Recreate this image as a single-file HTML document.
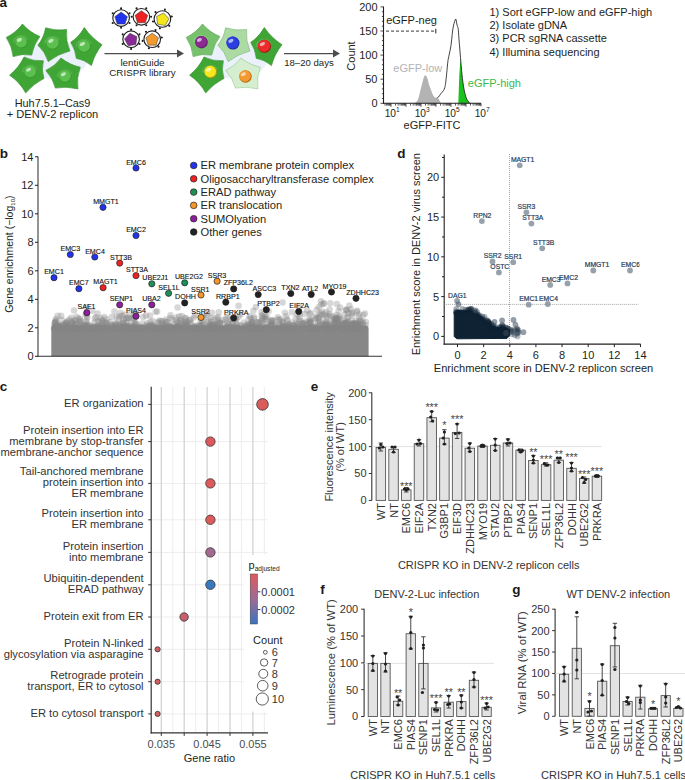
<!DOCTYPE html>
<html><head><meta charset="utf-8"><style>
html,body{margin:0;padding:0;background:#fff;}
svg{display:block;font-family:"Liberation Sans",sans-serif;}
</style></head><body>
<svg width="685" height="780" viewBox="0 0 685 780">
<text x="-0.50" y="7.00" font-size="13.5" text-anchor="start" fill="#1a1a1a" font-weight="bold" >a</text>
<text x="-0.20" y="157.50" font-size="13.5" text-anchor="start" fill="#1a1a1a" font-weight="bold" >b</text>
<text x="-0.20" y="390.80" font-size="13.5" text-anchor="start" fill="#1a1a1a" font-weight="bold" >c</text>
<text x="397.30" y="157.50" font-size="13.5" text-anchor="start" fill="#1a1a1a" font-weight="bold" >d</text>
<text x="310.80" y="390.80" font-size="13.5" text-anchor="start" fill="#1a1a1a" font-weight="bold" >e</text>
<text x="320.30" y="594.00" font-size="13.5" text-anchor="start" fill="#1a1a1a" font-weight="bold" >f</text>
<text x="512.20" y="594.30" font-size="13.5" text-anchor="start" fill="#1a1a1a" font-weight="bold" >g</text>
<g transform="translate(0,0)">
<ellipse cx="55" cy="60" rx="32" ry="19" fill="#eaf1fb"/>
<path d="M22.50,24.00 Q29.67,32.35 39.90,36.50 Q33.44,45.10 31.70,55.10 Q22.45,53.34 13.10,56.60 Q12.04,46.09 6.30,37.40 Q15.89,32.72 22.50,24.00 Z" fill="#3fa535" stroke="#2e8a27" stroke-width="0.6"/>
<path d="M13.50,42.70 A7.70,7.70 0 0 1 27.80,39.70" fill="none" stroke="#ffffff" stroke-opacity="0.13" stroke-width="1.6"/>
<circle cx="21.50" cy="42.20" r="6.20" fill="#3b9a31" stroke="none" stroke-width="0.6" />
<circle cx="21.00" cy="41.70" r="5.80" fill="#5cc04f" stroke="none" stroke-width="0.6" />
<ellipse cx="19.40" cy="39.90" rx="2.65" ry="1.70" fill="#ffffff" opacity="0.62" transform="rotate(-25 19.40 39.90)"/>
<path d="M45.60,27.80 Q55.66,31.24 66.60,29.50 Q65.62,40.75 69.90,51.00 Q58.08,53.91 48.20,61.60 Q44.96,51.53 37.90,45.20 Q43.89,37.67 45.60,27.80 Z" fill="#3fa535" stroke="#2e8a27" stroke-width="0.6"/>
<path d="M44.70,43.60 A8.00,8.00 0 0 1 59.60,40.60" fill="none" stroke="#ffffff" stroke-opacity="0.13" stroke-width="1.6"/>
<circle cx="53.00" cy="43.10" r="6.50" fill="#3b9a31" stroke="none" stroke-width="0.6" />
<circle cx="52.50" cy="42.60" r="6.10" fill="#5cc04f" stroke="none" stroke-width="0.6" />
<ellipse cx="50.90" cy="40.80" rx="2.80" ry="1.79" fill="#ffffff" opacity="0.62" transform="rotate(-25 50.90 40.80)"/>
<path d="M84.30,27.50 Q91.68,38.19 102.00,44.70 Q94.63,53.81 91.50,65.60 Q84.09,59.43 76.30,58.40 Q75.56,49.87 70.70,42.30 Q78.84,37.20 84.30,27.50 Z" fill="#3fa535" stroke="#2e8a27" stroke-width="0.6"/>
<path d="M76.20,46.80 A8.00,8.00 0 0 1 91.10,43.80" fill="none" stroke="#ffffff" stroke-opacity="0.13" stroke-width="1.6"/>
<circle cx="84.50" cy="46.30" r="6.50" fill="#3b9a31" stroke="none" stroke-width="0.6" />
<circle cx="84.00" cy="45.80" r="6.10" fill="#5cc04f" stroke="none" stroke-width="0.6" />
<ellipse cx="82.40" cy="44.00" rx="2.80" ry="1.79" fill="#ffffff" opacity="0.62" transform="rotate(-25 82.40 44.00)"/>
<path d="M24.00,57.00 Q32.92,61.41 43.40,60.80 Q41.12,70.19 44.00,78.40 Q33.86,83.35 25.70,92.90 Q19.75,82.04 9.60,75.20 Q19.06,67.32 24.00,57.00 Z" fill="#3fa535" stroke="#2e8a27" stroke-width="0.6"/>
<path d="M22.70,72.50 A7.70,7.70 0 0 1 37.00,69.50" fill="none" stroke="#ffffff" stroke-opacity="0.13" stroke-width="1.6"/>
<circle cx="30.70" cy="72.00" r="6.20" fill="#3b9a31" stroke="none" stroke-width="0.6" />
<circle cx="30.20" cy="71.50" r="5.80" fill="#5cc04f" stroke="none" stroke-width="0.6" />
<ellipse cx="28.60" cy="69.70" rx="2.65" ry="1.70" fill="#ffffff" opacity="0.62" transform="rotate(-25 28.60 69.70)"/>
<path d="M61.00,58.00 Q69.47,64.75 80.30,67.20 Q76.40,77.41 77.90,88.90 Q66.19,85.98 55.40,88.10 Q53.03,78.40 45.80,70.40 Q55.32,66.06 61.00,58.00 Z" fill="#3fa535" stroke="#2e8a27" stroke-width="0.6"/>
<path d="M57.50,77.00 A7.70,7.70 0 0 1 71.80,74.00" fill="none" stroke="#ffffff" stroke-opacity="0.13" stroke-width="1.6"/>
<circle cx="65.50" cy="76.50" r="6.20" fill="#3b9a31" stroke="none" stroke-width="0.6" />
<circle cx="65.00" cy="76.00" r="5.80" fill="#5cc04f" stroke="none" stroke-width="0.6" />
<ellipse cx="63.40" cy="74.20" rx="2.65" ry="1.70" fill="#ffffff" opacity="0.62" transform="rotate(-25 63.40 74.20)"/>
</g>
<g transform="translate(180,0)">
<ellipse cx="55" cy="60" rx="32" ry="19" fill="#eaf1fb"/>
<path d="M22.50,24.00 Q29.67,32.35 39.90,36.50 Q33.44,45.10 31.70,55.10 Q22.45,53.34 13.10,56.60 Q12.04,46.09 6.30,37.40 Q15.89,32.72 22.50,24.00 Z" fill="#77c06c" stroke="#4f9f46" stroke-width="0.6"/>
<path d="M13.50,42.70 A7.70,7.70 0 0 1 27.80,39.70" fill="none" stroke="#ffffff" stroke-opacity="0.13" stroke-width="1.6"/>
<circle cx="21.50" cy="42.20" r="6.20" fill="#5e1a66" stroke="none" stroke-width="0.6" />
<circle cx="21.00" cy="41.70" r="5.80" fill="#8a2a92" stroke="none" stroke-width="0.6" />
<ellipse cx="19.40" cy="39.90" rx="2.65" ry="1.70" fill="#ffffff" opacity="0.62" transform="rotate(-25 19.40 39.90)"/>
<path d="M45.60,27.80 Q55.66,31.24 66.60,29.50 Q65.62,40.75 69.90,51.00 Q58.08,53.91 48.20,61.60 Q44.96,51.53 37.90,45.20 Q43.89,37.67 45.60,27.80 Z" fill="#acdaa3" stroke="#6cb163" stroke-width="0.6"/>
<path d="M44.70,43.60 A8.00,8.00 0 0 1 59.60,40.60" fill="none" stroke="#ffffff" stroke-opacity="0.13" stroke-width="1.6"/>
<circle cx="53.00" cy="43.10" r="6.50" fill="#1a2aa0" stroke="none" stroke-width="0.6" />
<circle cx="52.50" cy="42.60" r="6.10" fill="#2b3fe0" stroke="none" stroke-width="0.6" />
<ellipse cx="50.90" cy="40.80" rx="2.80" ry="1.79" fill="#ffffff" opacity="0.62" transform="rotate(-25 50.90 40.80)"/>
<path d="M84.30,27.50 Q91.68,38.19 102.00,44.70 Q94.63,53.81 91.50,65.60 Q84.09,59.43 76.30,58.40 Q75.56,49.87 70.70,42.30 Q78.84,37.20 84.30,27.50 Z" fill="#3fa535" stroke="#2e8a27" stroke-width="0.6"/>
<path d="M76.20,46.80 A8.00,8.00 0 0 1 91.10,43.80" fill="none" stroke="#ffffff" stroke-opacity="0.13" stroke-width="1.6"/>
<circle cx="84.50" cy="46.30" r="6.50" fill="#a81818" stroke="none" stroke-width="0.6" />
<circle cx="84.00" cy="45.80" r="6.10" fill="#ee2a2a" stroke="none" stroke-width="0.6" />
<ellipse cx="82.40" cy="44.00" rx="2.80" ry="1.79" fill="#ffffff" opacity="0.62" transform="rotate(-25 82.40 44.00)"/>
<path d="M24.00,57.00 Q32.92,61.41 43.40,60.80 Q41.12,70.19 44.00,78.40 Q33.86,83.35 25.70,92.90 Q19.75,82.04 9.60,75.20 Q19.06,67.32 24.00,57.00 Z" fill="#3fa535" stroke="#2e8a27" stroke-width="0.6"/>
<path d="M22.70,72.50 A7.70,7.70 0 0 1 37.00,69.50" fill="none" stroke="#ffffff" stroke-opacity="0.13" stroke-width="1.6"/>
<circle cx="30.70" cy="72.00" r="6.20" fill="#b0a010" stroke="none" stroke-width="0.6" />
<circle cx="30.20" cy="71.50" r="5.80" fill="#f5e61e" stroke="none" stroke-width="0.6" />
<ellipse cx="28.60" cy="69.70" rx="2.65" ry="1.70" fill="#ffffff" opacity="0.62" transform="rotate(-25 28.60 69.70)"/>
<path d="M61.00,58.00 Q69.47,64.75 80.30,67.20 Q76.40,77.41 77.90,88.90 Q66.19,85.98 55.40,88.10 Q53.03,78.40 45.80,70.40 Q55.32,66.06 61.00,58.00 Z" fill="#d5eecf" stroke="#8ec786" stroke-width="0.6"/>
<path d="M57.50,77.00 A7.70,7.70 0 0 1 71.80,74.00" fill="none" stroke="#ffffff" stroke-opacity="0.13" stroke-width="1.6"/>
<circle cx="65.50" cy="76.50" r="6.20" fill="#b86a10" stroke="none" stroke-width="0.6" />
<circle cx="65.00" cy="76.00" r="5.80" fill="#f29a30" stroke="none" stroke-width="0.6" />
<ellipse cx="63.40" cy="74.20" rx="2.65" ry="1.70" fill="#ffffff" opacity="0.62" transform="rotate(-25 63.40 74.20)"/>
</g>
<circle cx="121.10" cy="18.10" r="8.30" fill="#fff" stroke="#1a1a1a" stroke-width="1.1" />
<path d="M121.10,12.10 L127.38,16.66 L124.98,24.04 L117.22,24.04 L114.82,16.66Z" fill="#2233ee" stroke="#333" stroke-width="0.5"/>
<circle cx="121.10" cy="8.40" r="1.05" fill="#1a1a1a" stroke="none" stroke-width="0.6" />
<circle cx="129.50" cy="13.25" r="1.05" fill="#1a1a1a" stroke="none" stroke-width="0.6" />
<circle cx="129.50" cy="22.95" r="1.05" fill="#1a1a1a" stroke="none" stroke-width="0.6" />
<circle cx="121.10" cy="27.80" r="1.05" fill="#1a1a1a" stroke="none" stroke-width="0.6" />
<circle cx="112.70" cy="22.95" r="1.05" fill="#1a1a1a" stroke="none" stroke-width="0.6" />
<circle cx="112.70" cy="13.25" r="1.05" fill="#1a1a1a" stroke="none" stroke-width="0.6" />
<circle cx="141.40" cy="16.80" r="8.30" fill="#fff" stroke="#1a1a1a" stroke-width="1.1" />
<path d="M141.40,10.80 L147.68,15.36 L145.28,22.74 L137.52,22.74 L135.12,15.36Z" fill="#ee2222" stroke="#333" stroke-width="0.5"/>
<circle cx="146.25" cy="8.40" r="1.05" fill="#1a1a1a" stroke="none" stroke-width="0.6" />
<circle cx="151.10" cy="16.80" r="1.05" fill="#1a1a1a" stroke="none" stroke-width="0.6" />
<circle cx="146.25" cy="25.20" r="1.05" fill="#1a1a1a" stroke="none" stroke-width="0.6" />
<circle cx="136.55" cy="25.20" r="1.05" fill="#1a1a1a" stroke="none" stroke-width="0.6" />
<circle cx="131.70" cy="16.80" r="1.05" fill="#1a1a1a" stroke="none" stroke-width="0.6" />
<circle cx="136.55" cy="8.40" r="1.05" fill="#1a1a1a" stroke="none" stroke-width="0.6" />
<circle cx="162.40" cy="19.00" r="8.30" fill="#fff" stroke="#1a1a1a" stroke-width="1.1" />
<path d="M163.55,13.10 L168.94,18.68 L165.29,25.53 L157.65,24.18 L156.57,16.50Z" fill="#f5e61a" stroke="#333" stroke-width="0.5"/>
<circle cx="164.91" cy="9.63" r="1.05" fill="#1a1a1a" stroke="none" stroke-width="0.6" />
<circle cx="171.77" cy="16.49" r="1.05" fill="#1a1a1a" stroke="none" stroke-width="0.6" />
<circle cx="169.26" cy="25.86" r="1.05" fill="#1a1a1a" stroke="none" stroke-width="0.6" />
<circle cx="159.89" cy="28.37" r="1.05" fill="#1a1a1a" stroke="none" stroke-width="0.6" />
<circle cx="153.03" cy="21.51" r="1.05" fill="#1a1a1a" stroke="none" stroke-width="0.6" />
<circle cx="155.54" cy="12.14" r="1.05" fill="#1a1a1a" stroke="none" stroke-width="0.6" />
<circle cx="131.10" cy="39.20" r="8.30" fill="#fff" stroke="#1a1a1a" stroke-width="1.1" />
<path d="M129.95,33.30 L136.93,36.70 L135.85,44.38 L128.21,45.73 L124.56,38.88Z" fill="#8a2a98" stroke="#333" stroke-width="0.5"/>
<circle cx="131.10" cy="29.50" r="1.05" fill="#1a1a1a" stroke="none" stroke-width="0.6" />
<circle cx="139.50" cy="34.35" r="1.05" fill="#1a1a1a" stroke="none" stroke-width="0.6" />
<circle cx="139.50" cy="44.05" r="1.05" fill="#1a1a1a" stroke="none" stroke-width="0.6" />
<circle cx="131.10" cy="48.90" r="1.05" fill="#1a1a1a" stroke="none" stroke-width="0.6" />
<circle cx="122.70" cy="44.05" r="1.05" fill="#1a1a1a" stroke="none" stroke-width="0.6" />
<circle cx="122.70" cy="34.35" r="1.05" fill="#1a1a1a" stroke="none" stroke-width="0.6" />
<circle cx="152.20" cy="39.20" r="8.30" fill="#fff" stroke="#1a1a1a" stroke-width="1.1" />
<path d="M152.20,33.20 L158.48,37.76 L156.08,45.14 L148.32,45.14 L145.92,37.76Z" fill="#f29a2e" stroke="#333" stroke-width="0.5"/>
<circle cx="155.52" cy="30.08" r="1.05" fill="#1a1a1a" stroke="none" stroke-width="0.6" />
<circle cx="161.75" cy="37.52" r="1.05" fill="#1a1a1a" stroke="none" stroke-width="0.6" />
<circle cx="158.44" cy="46.63" r="1.05" fill="#1a1a1a" stroke="none" stroke-width="0.6" />
<circle cx="148.88" cy="48.32" r="1.05" fill="#1a1a1a" stroke="none" stroke-width="0.6" />
<circle cx="142.65" cy="40.88" r="1.05" fill="#1a1a1a" stroke="none" stroke-width="0.6" />
<circle cx="145.96" cy="31.77" r="1.05" fill="#1a1a1a" stroke="none" stroke-width="0.6" />
<line x1="104.50" y1="53.60" x2="178.00" y2="53.60" stroke="#4d4d4d" stroke-width="1.3" />
<path d="M177.00,49.60 L184.00,53.60 L177.00,57.60Z" fill="#4d4d4d"/>
<line x1="284.00" y1="53.60" x2="334.00" y2="53.60" stroke="#4d4d4d" stroke-width="1.3" />
<path d="M333.00,49.60 L340.00,53.60 L333.00,57.60Z" fill="#4d4d4d"/>
<text x="142.50" y="66.00" font-size="9.8" text-anchor="middle" fill="#231f20" >lentiGuide</text>
<text x="142.50" y="75.50" font-size="9.8" text-anchor="middle" fill="#231f20" >CRISPR library</text>
<text x="309.00" y="66.00" font-size="9.6" text-anchor="middle" fill="#231f20" >18–20 days</text>
<text x="52.50" y="107.00" font-size="10.9" text-anchor="middle" fill="#231f20" >Huh7.5.1–Cas9</text>
<text x="52.50" y="118.00" font-size="11.1" text-anchor="middle" fill="#231f20" >+ DENV-2 replicon</text>
<path d="M413.50,103.20 C414.00,102.97 415.72,102.50 416.50,101.80 C417.28,101.10 417.57,100.85 418.20,99.00 C418.83,97.15 419.62,93.37 420.30,90.70 C420.98,88.03 421.70,85.23 422.30,83.00 C422.90,80.77 423.38,78.58 423.90,77.30 C424.42,76.02 424.82,75.13 425.40,75.30 C425.98,75.47 426.80,76.77 427.40,78.30 C428.00,79.83 428.48,82.78 429.00,84.50 C429.52,86.22 429.90,86.98 430.50,88.60 C431.10,90.22 431.92,92.75 432.60,94.20 C433.28,95.65 433.92,96.65 434.60,97.30 C435.28,97.95 436.02,97.83 436.70,98.10 C437.38,98.37 438.10,98.22 438.70,98.90 C439.30,99.58 439.92,101.48 440.30,102.20 C440.68,102.92 440.88,103.03 441.00,103.20  Z" fill="#b3b3b3"/>
<path d="M458.3,103.2 L459.3,75 L460.5,57.6 C460.75,60.43 461.45,69.53 462.00,74.60 C462.55,79.67 463.10,84.13 463.80,88.00 C464.50,91.87 465.28,95.35 466.20,97.80 C467.12,100.25 468.58,101.80 469.30,102.70 C470.02,103.60 470.30,103.12 470.50,103.20  Z" fill="#19c21c"/>
<path d="M436.70,98.10 C437.03,97.88 438.02,97.53 438.70,96.80 C439.38,96.07 440.02,94.72 440.80,93.70 C441.58,92.68 442.73,91.73 443.40,90.70 C444.07,89.67 444.43,88.75 444.80,87.50 C445.17,86.25 445.28,85.55 445.60,83.20 C445.92,80.85 446.32,77.07 446.70,73.40 C447.08,69.73 447.50,64.25 447.90,61.20 C448.30,58.15 448.58,57.73 449.10,55.10 C449.62,52.47 450.48,48.85 451.00,45.40 C451.52,41.95 451.80,37.65 452.20,34.40 C452.60,31.15 452.83,28.45 453.40,25.90 C453.97,23.35 455.08,19.72 455.60,19.10 C456.12,18.48 456.25,21.17 456.50,22.20 C456.75,23.23 456.82,24.20 457.10,25.30 C457.38,26.40 457.90,26.68 458.20,28.80 C458.50,30.92 458.63,34.63 458.90,38.00 C459.17,41.37 459.53,45.73 459.80,49.00 C460.07,52.27 460.13,53.33 460.50,57.60 C460.87,61.87 461.45,69.53 462.00,74.60 C462.55,79.67 463.10,84.13 463.80,88.00 C464.50,91.87 465.28,95.35 466.20,97.80 C467.12,100.25 468.58,101.80 469.30,102.70 C470.02,103.60 470.30,103.12 470.50,103.20 " fill="none" stroke="#231f20" stroke-width="0.85"/>
<line x1="383.50" y1="6.50" x2="383.50" y2="103.80" stroke="#231f20" stroke-width="1.1" />
<line x1="383.00" y1="103.30" x2="481.00" y2="103.30" stroke="#231f20" stroke-width="1.1" />
<line x1="380.50" y1="103.30" x2="383.50" y2="103.30" stroke="#231f20" stroke-width="0.8" />
<line x1="381.90" y1="98.48" x2="383.50" y2="98.48" stroke="#231f20" stroke-width="0.8" />
<line x1="381.90" y1="93.66" x2="383.50" y2="93.66" stroke="#231f20" stroke-width="0.8" />
<line x1="381.90" y1="88.84" x2="383.50" y2="88.84" stroke="#231f20" stroke-width="0.8" />
<line x1="381.90" y1="84.02" x2="383.50" y2="84.02" stroke="#231f20" stroke-width="0.8" />
<line x1="380.50" y1="79.20" x2="383.50" y2="79.20" stroke="#231f20" stroke-width="0.8" />
<line x1="381.90" y1="74.38" x2="383.50" y2="74.38" stroke="#231f20" stroke-width="0.8" />
<line x1="381.90" y1="69.56" x2="383.50" y2="69.56" stroke="#231f20" stroke-width="0.8" />
<line x1="381.90" y1="64.74" x2="383.50" y2="64.74" stroke="#231f20" stroke-width="0.8" />
<line x1="381.90" y1="59.92" x2="383.50" y2="59.92" stroke="#231f20" stroke-width="0.8" />
<line x1="380.50" y1="55.10" x2="383.50" y2="55.10" stroke="#231f20" stroke-width="0.8" />
<line x1="381.90" y1="50.28" x2="383.50" y2="50.28" stroke="#231f20" stroke-width="0.8" />
<line x1="381.90" y1="45.46" x2="383.50" y2="45.46" stroke="#231f20" stroke-width="0.8" />
<line x1="381.90" y1="40.64" x2="383.50" y2="40.64" stroke="#231f20" stroke-width="0.8" />
<line x1="381.90" y1="35.82" x2="383.50" y2="35.82" stroke="#231f20" stroke-width="0.8" />
<line x1="380.50" y1="31.00" x2="383.50" y2="31.00" stroke="#231f20" stroke-width="0.8" />
<line x1="381.90" y1="26.18" x2="383.50" y2="26.18" stroke="#231f20" stroke-width="0.8" />
<line x1="381.90" y1="21.36" x2="383.50" y2="21.36" stroke="#231f20" stroke-width="0.8" />
<line x1="381.90" y1="16.54" x2="383.50" y2="16.54" stroke="#231f20" stroke-width="0.8" />
<line x1="381.90" y1="11.72" x2="383.50" y2="11.72" stroke="#231f20" stroke-width="0.8" />
<line x1="380.50" y1="6.90" x2="383.50" y2="6.90" stroke="#231f20" stroke-width="0.8" />
<text x="377.50" y="107.30" font-size="11" text-anchor="end" fill="#231f20" >0</text>
<text x="377.50" y="83.20" font-size="11" text-anchor="end" fill="#231f20" >50</text>
<text x="377.50" y="59.10" font-size="11" text-anchor="end" fill="#231f20" >100</text>
<text x="377.50" y="35.00" font-size="11" text-anchor="end" fill="#231f20" >150</text>
<text x="377.50" y="10.90" font-size="11" text-anchor="end" fill="#231f20" >200</text>
<line x1="385.03" y1="103.30" x2="385.03" y2="105.60" stroke="#231f20" stroke-width="0.75" />
<line x1="386.48" y1="103.30" x2="386.48" y2="105.60" stroke="#231f20" stroke-width="0.75" />
<line x1="387.67" y1="103.30" x2="387.67" y2="105.60" stroke="#231f20" stroke-width="0.75" />
<line x1="388.68" y1="103.30" x2="388.68" y2="105.60" stroke="#231f20" stroke-width="0.75" />
<line x1="389.55" y1="103.30" x2="389.55" y2="105.60" stroke="#231f20" stroke-width="0.75" />
<line x1="390.31" y1="103.30" x2="390.31" y2="105.60" stroke="#231f20" stroke-width="0.75" />
<line x1="391.00" y1="103.30" x2="391.00" y2="106.80" stroke="#231f20" stroke-width="0.75" />
<line x1="395.52" y1="103.30" x2="395.52" y2="105.60" stroke="#231f20" stroke-width="0.75" />
<line x1="398.16" y1="103.30" x2="398.16" y2="105.60" stroke="#231f20" stroke-width="0.75" />
<line x1="400.03" y1="103.30" x2="400.03" y2="105.60" stroke="#231f20" stroke-width="0.75" />
<line x1="401.48" y1="103.30" x2="401.48" y2="105.60" stroke="#231f20" stroke-width="0.75" />
<line x1="402.67" y1="103.30" x2="402.67" y2="105.60" stroke="#231f20" stroke-width="0.75" />
<line x1="403.68" y1="103.30" x2="403.68" y2="105.60" stroke="#231f20" stroke-width="0.75" />
<line x1="404.55" y1="103.30" x2="404.55" y2="105.60" stroke="#231f20" stroke-width="0.75" />
<line x1="405.31" y1="103.30" x2="405.31" y2="105.60" stroke="#231f20" stroke-width="0.75" />
<line x1="406.00" y1="103.30" x2="406.00" y2="106.80" stroke="#231f20" stroke-width="0.75" />
<line x1="410.52" y1="103.30" x2="410.52" y2="105.60" stroke="#231f20" stroke-width="0.75" />
<line x1="413.16" y1="103.30" x2="413.16" y2="105.60" stroke="#231f20" stroke-width="0.75" />
<line x1="415.03" y1="103.30" x2="415.03" y2="105.60" stroke="#231f20" stroke-width="0.75" />
<line x1="416.48" y1="103.30" x2="416.48" y2="105.60" stroke="#231f20" stroke-width="0.75" />
<line x1="417.67" y1="103.30" x2="417.67" y2="105.60" stroke="#231f20" stroke-width="0.75" />
<line x1="418.68" y1="103.30" x2="418.68" y2="105.60" stroke="#231f20" stroke-width="0.75" />
<line x1="419.55" y1="103.30" x2="419.55" y2="105.60" stroke="#231f20" stroke-width="0.75" />
<line x1="420.31" y1="103.30" x2="420.31" y2="105.60" stroke="#231f20" stroke-width="0.75" />
<line x1="421.00" y1="103.30" x2="421.00" y2="106.80" stroke="#231f20" stroke-width="0.75" />
<line x1="425.52" y1="103.30" x2="425.52" y2="105.60" stroke="#231f20" stroke-width="0.75" />
<line x1="428.16" y1="103.30" x2="428.16" y2="105.60" stroke="#231f20" stroke-width="0.75" />
<line x1="430.03" y1="103.30" x2="430.03" y2="105.60" stroke="#231f20" stroke-width="0.75" />
<line x1="431.48" y1="103.30" x2="431.48" y2="105.60" stroke="#231f20" stroke-width="0.75" />
<line x1="432.67" y1="103.30" x2="432.67" y2="105.60" stroke="#231f20" stroke-width="0.75" />
<line x1="433.68" y1="103.30" x2="433.68" y2="105.60" stroke="#231f20" stroke-width="0.75" />
<line x1="434.55" y1="103.30" x2="434.55" y2="105.60" stroke="#231f20" stroke-width="0.75" />
<line x1="435.31" y1="103.30" x2="435.31" y2="105.60" stroke="#231f20" stroke-width="0.75" />
<line x1="436.00" y1="103.30" x2="436.00" y2="106.80" stroke="#231f20" stroke-width="0.75" />
<line x1="440.52" y1="103.30" x2="440.52" y2="105.60" stroke="#231f20" stroke-width="0.75" />
<line x1="443.16" y1="103.30" x2="443.16" y2="105.60" stroke="#231f20" stroke-width="0.75" />
<line x1="445.03" y1="103.30" x2="445.03" y2="105.60" stroke="#231f20" stroke-width="0.75" />
<line x1="446.48" y1="103.30" x2="446.48" y2="105.60" stroke="#231f20" stroke-width="0.75" />
<line x1="447.67" y1="103.30" x2="447.67" y2="105.60" stroke="#231f20" stroke-width="0.75" />
<line x1="448.68" y1="103.30" x2="448.68" y2="105.60" stroke="#231f20" stroke-width="0.75" />
<line x1="449.55" y1="103.30" x2="449.55" y2="105.60" stroke="#231f20" stroke-width="0.75" />
<line x1="450.31" y1="103.30" x2="450.31" y2="105.60" stroke="#231f20" stroke-width="0.75" />
<line x1="451.00" y1="103.30" x2="451.00" y2="106.80" stroke="#231f20" stroke-width="0.75" />
<line x1="455.52" y1="103.30" x2="455.52" y2="105.60" stroke="#231f20" stroke-width="0.75" />
<line x1="458.16" y1="103.30" x2="458.16" y2="105.60" stroke="#231f20" stroke-width="0.75" />
<line x1="460.03" y1="103.30" x2="460.03" y2="105.60" stroke="#231f20" stroke-width="0.75" />
<line x1="461.48" y1="103.30" x2="461.48" y2="105.60" stroke="#231f20" stroke-width="0.75" />
<line x1="462.67" y1="103.30" x2="462.67" y2="105.60" stroke="#231f20" stroke-width="0.75" />
<line x1="463.68" y1="103.30" x2="463.68" y2="105.60" stroke="#231f20" stroke-width="0.75" />
<line x1="464.55" y1="103.30" x2="464.55" y2="105.60" stroke="#231f20" stroke-width="0.75" />
<line x1="465.31" y1="103.30" x2="465.31" y2="105.60" stroke="#231f20" stroke-width="0.75" />
<line x1="466.00" y1="103.30" x2="466.00" y2="106.80" stroke="#231f20" stroke-width="0.75" />
<line x1="470.52" y1="103.30" x2="470.52" y2="105.60" stroke="#231f20" stroke-width="0.75" />
<line x1="473.16" y1="103.30" x2="473.16" y2="105.60" stroke="#231f20" stroke-width="0.75" />
<line x1="475.03" y1="103.30" x2="475.03" y2="105.60" stroke="#231f20" stroke-width="0.75" />
<line x1="476.48" y1="103.30" x2="476.48" y2="105.60" stroke="#231f20" stroke-width="0.75" />
<line x1="477.67" y1="103.30" x2="477.67" y2="105.60" stroke="#231f20" stroke-width="0.75" />
<line x1="478.68" y1="103.30" x2="478.68" y2="105.60" stroke="#231f20" stroke-width="0.75" />
<line x1="479.55" y1="103.30" x2="479.55" y2="105.60" stroke="#231f20" stroke-width="0.75" />
<line x1="480.31" y1="103.30" x2="480.31" y2="105.60" stroke="#231f20" stroke-width="0.75" />
<line x1="481.00" y1="103.30" x2="481.00" y2="106.30" stroke="#231f20" stroke-width="0.8" />
<text x="392.20" y="117" font-size="10.2" text-anchor="middle" fill="#231f20">10<tspan font-size="6.6" dy="-4.8">1</tspan></text>
<text x="422.20" y="117" font-size="10.2" text-anchor="middle" fill="#231f20">10<tspan font-size="6.6" dy="-4.8">3</tspan></text>
<text x="452.20" y="117" font-size="10.2" text-anchor="middle" fill="#231f20">10<tspan font-size="6.6" dy="-4.8">5</tspan></text>
<text x="482.20" y="117" font-size="10.2" text-anchor="middle" fill="#231f20">10<tspan font-size="6.6" dy="-4.8">7</tspan></text>
<text x="432.00" y="128.50" font-size="11" text-anchor="middle" fill="#231f20" >eGFP-FITC</text>
<text transform="translate(355.2,56) rotate(-90)" font-size="11" text-anchor="middle" fill="#231f20">Count</text>
<text x="386.20" y="23.60" font-size="11" text-anchor="start" fill="#231f20" >eGFP-neg</text>
<line x1="386" y1="31.1" x2="435.5" y2="31.1" stroke="#231f20" stroke-width="0.9" stroke-dasharray="3,2"/>
<line x1="435.80" y1="28.80" x2="435.80" y2="33.40" stroke="#231f20" stroke-width="1" />
<text x="393.30" y="72.30" font-size="11" text-anchor="start" fill="#b3b3b3" >eGFP-low</text>
<text x="467.80" y="86.60" font-size="11" text-anchor="start" fill="#3bb84a" >eGFP-high</text>
<text x="489.50" y="15.70" font-size="11" text-anchor="start" fill="#231f20" >1) Sort eGFP-low and eGFP-high</text>
<text x="489.50" y="29.07" font-size="11" text-anchor="start" fill="#231f20" >2) Isolate gDNA</text>
<text x="489.50" y="42.44" font-size="11" text-anchor="start" fill="#231f20" >3) PCR sgRNA cassette</text>
<text x="489.50" y="55.81" font-size="11" text-anchor="start" fill="#231f20" >4) Illumina sequencing</text>
<path d="M51.3,356.3 L51.3,329 Q51.3,326 54,325.5 L366,325.5 Q368.6,325.5 368.6,329 L368.6,356.3 Z" fill="#878787"/>
<circle cx="155.04" cy="328.50" r="3.25" fill="#878787" stroke="none" stroke-width="0.6" fill-opacity="0.33"/>
<circle cx="257.09" cy="328.89" r="3.25" fill="#878787" stroke="none" stroke-width="0.6" fill-opacity="0.33"/>
<circle cx="221.20" cy="327.20" r="3.25" fill="#878787" stroke="none" stroke-width="0.6" fill-opacity="0.33"/>
<circle cx="72.10" cy="326.07" r="3.25" fill="#878787" stroke="none" stroke-width="0.6" fill-opacity="0.33"/>
<circle cx="65.70" cy="326.69" r="3.25" fill="#878787" stroke="none" stroke-width="0.6" fill-opacity="0.33"/>
<circle cx="75.79" cy="328.80" r="3.25" fill="#878787" stroke="none" stroke-width="0.6" fill-opacity="0.33"/>
<circle cx="186.45" cy="321.42" r="3.25" fill="#878787" stroke="none" stroke-width="0.6" fill-opacity="0.33"/>
<circle cx="92.63" cy="328.10" r="3.25" fill="#878787" stroke="none" stroke-width="0.6" fill-opacity="0.33"/>
<circle cx="249.76" cy="316.08" r="3.25" fill="#878787" stroke="none" stroke-width="0.6" fill-opacity="0.33"/>
<circle cx="234.06" cy="326.97" r="3.25" fill="#878787" stroke="none" stroke-width="0.6" fill-opacity="0.33"/>
<circle cx="358.59" cy="329.01" r="3.25" fill="#878787" stroke="none" stroke-width="0.6" fill-opacity="0.33"/>
<circle cx="321.84" cy="327.70" r="3.25" fill="#878787" stroke="none" stroke-width="0.6" fill-opacity="0.33"/>
<circle cx="99.01" cy="328.67" r="3.25" fill="#878787" stroke="none" stroke-width="0.6" fill-opacity="0.33"/>
<circle cx="150.25" cy="321.68" r="3.25" fill="#878787" stroke="none" stroke-width="0.6" fill-opacity="0.33"/>
<circle cx="110.39" cy="325.34" r="3.25" fill="#878787" stroke="none" stroke-width="0.6" fill-opacity="0.33"/>
<circle cx="253.34" cy="327.15" r="3.25" fill="#878787" stroke="none" stroke-width="0.6" fill-opacity="0.33"/>
<circle cx="224.90" cy="328.94" r="3.25" fill="#878787" stroke="none" stroke-width="0.6" fill-opacity="0.33"/>
<circle cx="72.60" cy="328.20" r="3.25" fill="#878787" stroke="none" stroke-width="0.6" fill-opacity="0.33"/>
<circle cx="266.28" cy="326.74" r="3.25" fill="#878787" stroke="none" stroke-width="0.6" fill-opacity="0.33"/>
<circle cx="152.01" cy="325.30" r="3.25" fill="#878787" stroke="none" stroke-width="0.6" fill-opacity="0.33"/>
<circle cx="195.39" cy="327.64" r="3.25" fill="#878787" stroke="none" stroke-width="0.6" fill-opacity="0.33"/>
<circle cx="301.85" cy="323.88" r="3.25" fill="#878787" stroke="none" stroke-width="0.6" fill-opacity="0.33"/>
<circle cx="130.16" cy="325.42" r="3.25" fill="#878787" stroke="none" stroke-width="0.6" fill-opacity="0.33"/>
<circle cx="217.86" cy="319.96" r="3.25" fill="#878787" stroke="none" stroke-width="0.6" fill-opacity="0.33"/>
<circle cx="281.59" cy="327.71" r="3.25" fill="#878787" stroke="none" stroke-width="0.6" fill-opacity="0.33"/>
<circle cx="359.81" cy="328.67" r="3.25" fill="#878787" stroke="none" stroke-width="0.6" fill-opacity="0.33"/>
<circle cx="184.45" cy="322.92" r="3.25" fill="#878787" stroke="none" stroke-width="0.6" fill-opacity="0.33"/>
<circle cx="101.42" cy="326.24" r="3.25" fill="#878787" stroke="none" stroke-width="0.6" fill-opacity="0.33"/>
<circle cx="66.23" cy="324.31" r="3.25" fill="#878787" stroke="none" stroke-width="0.6" fill-opacity="0.33"/>
<circle cx="292.55" cy="325.44" r="3.25" fill="#878787" stroke="none" stroke-width="0.6" fill-opacity="0.33"/>
<circle cx="327.15" cy="327.55" r="3.25" fill="#878787" stroke="none" stroke-width="0.6" fill-opacity="0.33"/>
<circle cx="270.93" cy="325.21" r="3.25" fill="#878787" stroke="none" stroke-width="0.6" fill-opacity="0.33"/>
<circle cx="234.93" cy="326.51" r="3.25" fill="#878787" stroke="none" stroke-width="0.6" fill-opacity="0.33"/>
<circle cx="316.07" cy="316.33" r="3.25" fill="#878787" stroke="none" stroke-width="0.6" fill-opacity="0.33"/>
<circle cx="201.92" cy="324.37" r="3.25" fill="#878787" stroke="none" stroke-width="0.6" fill-opacity="0.33"/>
<circle cx="72.93" cy="323.84" r="3.25" fill="#878787" stroke="none" stroke-width="0.6" fill-opacity="0.33"/>
<circle cx="255.90" cy="307.07" r="3.25" fill="#878787" stroke="none" stroke-width="0.6" fill-opacity="0.33"/>
<circle cx="310.44" cy="327.73" r="3.25" fill="#878787" stroke="none" stroke-width="0.6" fill-opacity="0.33"/>
<circle cx="174.37" cy="324.31" r="3.25" fill="#878787" stroke="none" stroke-width="0.6" fill-opacity="0.33"/>
<circle cx="61.04" cy="326.47" r="3.25" fill="#878787" stroke="none" stroke-width="0.6" fill-opacity="0.33"/>
<circle cx="106.43" cy="328.67" r="3.25" fill="#878787" stroke="none" stroke-width="0.6" fill-opacity="0.33"/>
<circle cx="72.39" cy="322.71" r="3.25" fill="#878787" stroke="none" stroke-width="0.6" fill-opacity="0.33"/>
<circle cx="94.35" cy="327.96" r="3.25" fill="#878787" stroke="none" stroke-width="0.6" fill-opacity="0.33"/>
<circle cx="175.98" cy="320.09" r="3.25" fill="#878787" stroke="none" stroke-width="0.6" fill-opacity="0.33"/>
<circle cx="79.14" cy="326.57" r="3.25" fill="#878787" stroke="none" stroke-width="0.6" fill-opacity="0.33"/>
<circle cx="225.43" cy="319.66" r="3.25" fill="#878787" stroke="none" stroke-width="0.6" fill-opacity="0.33"/>
<circle cx="309.62" cy="320.34" r="3.25" fill="#878787" stroke="none" stroke-width="0.6" fill-opacity="0.33"/>
<circle cx="140.87" cy="326.84" r="3.25" fill="#878787" stroke="none" stroke-width="0.6" fill-opacity="0.33"/>
<circle cx="165.94" cy="319.62" r="3.25" fill="#878787" stroke="none" stroke-width="0.6" fill-opacity="0.33"/>
<circle cx="352.81" cy="328.50" r="3.25" fill="#878787" stroke="none" stroke-width="0.6" fill-opacity="0.33"/>
<circle cx="108.98" cy="328.05" r="3.25" fill="#878787" stroke="none" stroke-width="0.6" fill-opacity="0.33"/>
<circle cx="126.80" cy="326.27" r="3.25" fill="#878787" stroke="none" stroke-width="0.6" fill-opacity="0.33"/>
<circle cx="237.81" cy="327.87" r="3.25" fill="#878787" stroke="none" stroke-width="0.6" fill-opacity="0.33"/>
<circle cx="55.28" cy="326.81" r="3.25" fill="#878787" stroke="none" stroke-width="0.6" fill-opacity="0.33"/>
<circle cx="169.21" cy="325.50" r="3.25" fill="#878787" stroke="none" stroke-width="0.6" fill-opacity="0.33"/>
<circle cx="351.37" cy="324.00" r="3.25" fill="#878787" stroke="none" stroke-width="0.6" fill-opacity="0.33"/>
<circle cx="214.83" cy="324.94" r="3.25" fill="#878787" stroke="none" stroke-width="0.6" fill-opacity="0.33"/>
<circle cx="264.97" cy="328.98" r="3.25" fill="#878787" stroke="none" stroke-width="0.6" fill-opacity="0.33"/>
<circle cx="334.65" cy="322.48" r="3.25" fill="#878787" stroke="none" stroke-width="0.6" fill-opacity="0.33"/>
<circle cx="326.85" cy="322.11" r="3.25" fill="#878787" stroke="none" stroke-width="0.6" fill-opacity="0.33"/>
<circle cx="176.42" cy="326.96" r="3.25" fill="#878787" stroke="none" stroke-width="0.6" fill-opacity="0.33"/>
<circle cx="86.30" cy="324.75" r="3.25" fill="#878787" stroke="none" stroke-width="0.6" fill-opacity="0.33"/>
<circle cx="73.42" cy="328.91" r="3.25" fill="#878787" stroke="none" stroke-width="0.6" fill-opacity="0.33"/>
<circle cx="119.13" cy="328.44" r="3.25" fill="#878787" stroke="none" stroke-width="0.6" fill-opacity="0.33"/>
<circle cx="160.10" cy="328.98" r="3.25" fill="#878787" stroke="none" stroke-width="0.6" fill-opacity="0.33"/>
<circle cx="54.07" cy="328.49" r="3.25" fill="#878787" stroke="none" stroke-width="0.6" fill-opacity="0.33"/>
<circle cx="85.66" cy="327.21" r="3.25" fill="#878787" stroke="none" stroke-width="0.6" fill-opacity="0.33"/>
<circle cx="61.96" cy="319.99" r="3.25" fill="#878787" stroke="none" stroke-width="0.6" fill-opacity="0.33"/>
<circle cx="245.59" cy="328.51" r="3.25" fill="#878787" stroke="none" stroke-width="0.6" fill-opacity="0.33"/>
<circle cx="132.70" cy="327.32" r="3.25" fill="#878787" stroke="none" stroke-width="0.6" fill-opacity="0.33"/>
<circle cx="167.62" cy="328.64" r="3.25" fill="#878787" stroke="none" stroke-width="0.6" fill-opacity="0.33"/>
<circle cx="318.87" cy="307.06" r="3.25" fill="#878787" stroke="none" stroke-width="0.6" fill-opacity="0.33"/>
<circle cx="199.39" cy="326.28" r="3.25" fill="#878787" stroke="none" stroke-width="0.6" fill-opacity="0.33"/>
<circle cx="80.80" cy="328.74" r="3.25" fill="#878787" stroke="none" stroke-width="0.6" fill-opacity="0.33"/>
<circle cx="160.90" cy="327.86" r="3.25" fill="#878787" stroke="none" stroke-width="0.6" fill-opacity="0.33"/>
<circle cx="312.60" cy="328.44" r="3.25" fill="#878787" stroke="none" stroke-width="0.6" fill-opacity="0.33"/>
<circle cx="61.21" cy="315.80" r="3.25" fill="#878787" stroke="none" stroke-width="0.6" fill-opacity="0.33"/>
<circle cx="218.82" cy="328.52" r="3.25" fill="#878787" stroke="none" stroke-width="0.6" fill-opacity="0.33"/>
<circle cx="223.47" cy="329.10" r="3.25" fill="#878787" stroke="none" stroke-width="0.6" fill-opacity="0.33"/>
<circle cx="218.77" cy="312.13" r="3.25" fill="#878787" stroke="none" stroke-width="0.6" fill-opacity="0.33"/>
<circle cx="323.36" cy="323.92" r="3.25" fill="#878787" stroke="none" stroke-width="0.6" fill-opacity="0.33"/>
<circle cx="135.47" cy="327.19" r="3.25" fill="#878787" stroke="none" stroke-width="0.6" fill-opacity="0.33"/>
<circle cx="106.12" cy="322.64" r="3.25" fill="#878787" stroke="none" stroke-width="0.6" fill-opacity="0.33"/>
<circle cx="220.17" cy="322.50" r="3.25" fill="#878787" stroke="none" stroke-width="0.6" fill-opacity="0.33"/>
<circle cx="156.86" cy="328.10" r="3.25" fill="#878787" stroke="none" stroke-width="0.6" fill-opacity="0.33"/>
<circle cx="307.19" cy="310.55" r="3.25" fill="#878787" stroke="none" stroke-width="0.6" fill-opacity="0.33"/>
<circle cx="320.02" cy="321.92" r="3.25" fill="#878787" stroke="none" stroke-width="0.6" fill-opacity="0.33"/>
<circle cx="309.32" cy="323.23" r="3.25" fill="#878787" stroke="none" stroke-width="0.6" fill-opacity="0.33"/>
<circle cx="124.74" cy="325.98" r="3.25" fill="#878787" stroke="none" stroke-width="0.6" fill-opacity="0.33"/>
<circle cx="164.94" cy="329.09" r="3.25" fill="#878787" stroke="none" stroke-width="0.6" fill-opacity="0.33"/>
<circle cx="62.72" cy="327.77" r="3.25" fill="#878787" stroke="none" stroke-width="0.6" fill-opacity="0.33"/>
<circle cx="134.86" cy="323.97" r="3.25" fill="#878787" stroke="none" stroke-width="0.6" fill-opacity="0.33"/>
<circle cx="352.43" cy="326.59" r="3.25" fill="#878787" stroke="none" stroke-width="0.6" fill-opacity="0.33"/>
<circle cx="346.35" cy="309.52" r="3.25" fill="#878787" stroke="none" stroke-width="0.6" fill-opacity="0.33"/>
<circle cx="351.96" cy="327.21" r="3.25" fill="#878787" stroke="none" stroke-width="0.6" fill-opacity="0.33"/>
<circle cx="122.78" cy="328.08" r="3.25" fill="#878787" stroke="none" stroke-width="0.6" fill-opacity="0.33"/>
<circle cx="115.37" cy="328.21" r="3.25" fill="#878787" stroke="none" stroke-width="0.6" fill-opacity="0.33"/>
<circle cx="248.71" cy="318.96" r="3.25" fill="#878787" stroke="none" stroke-width="0.6" fill-opacity="0.33"/>
<circle cx="316.22" cy="326.32" r="3.25" fill="#878787" stroke="none" stroke-width="0.6" fill-opacity="0.33"/>
<circle cx="257.73" cy="322.07" r="3.25" fill="#878787" stroke="none" stroke-width="0.6" fill-opacity="0.33"/>
<circle cx="80.45" cy="324.41" r="3.25" fill="#878787" stroke="none" stroke-width="0.6" fill-opacity="0.33"/>
<circle cx="337.85" cy="322.44" r="3.25" fill="#878787" stroke="none" stroke-width="0.6" fill-opacity="0.33"/>
<circle cx="288.04" cy="326.33" r="3.25" fill="#878787" stroke="none" stroke-width="0.6" fill-opacity="0.33"/>
<circle cx="109.70" cy="322.29" r="3.25" fill="#878787" stroke="none" stroke-width="0.6" fill-opacity="0.33"/>
<circle cx="157.75" cy="322.04" r="3.25" fill="#878787" stroke="none" stroke-width="0.6" fill-opacity="0.33"/>
<circle cx="357.16" cy="326.98" r="3.25" fill="#878787" stroke="none" stroke-width="0.6" fill-opacity="0.33"/>
<circle cx="179.23" cy="316.16" r="3.25" fill="#878787" stroke="none" stroke-width="0.6" fill-opacity="0.33"/>
<circle cx="280.14" cy="328.40" r="3.25" fill="#878787" stroke="none" stroke-width="0.6" fill-opacity="0.33"/>
<circle cx="93.64" cy="328.50" r="3.25" fill="#878787" stroke="none" stroke-width="0.6" fill-opacity="0.33"/>
<circle cx="336.31" cy="321.91" r="3.25" fill="#878787" stroke="none" stroke-width="0.6" fill-opacity="0.33"/>
<circle cx="99.61" cy="321.42" r="3.25" fill="#878787" stroke="none" stroke-width="0.6" fill-opacity="0.33"/>
<circle cx="359.86" cy="324.46" r="3.25" fill="#878787" stroke="none" stroke-width="0.6" fill-opacity="0.33"/>
<circle cx="163.33" cy="325.68" r="3.25" fill="#878787" stroke="none" stroke-width="0.6" fill-opacity="0.33"/>
<circle cx="94.87" cy="329.16" r="3.25" fill="#878787" stroke="none" stroke-width="0.6" fill-opacity="0.33"/>
<circle cx="356.92" cy="324.55" r="3.25" fill="#878787" stroke="none" stroke-width="0.6" fill-opacity="0.33"/>
<circle cx="218.29" cy="317.15" r="3.25" fill="#878787" stroke="none" stroke-width="0.6" fill-opacity="0.33"/>
<circle cx="189.35" cy="320.08" r="3.25" fill="#878787" stroke="none" stroke-width="0.6" fill-opacity="0.33"/>
<circle cx="311.76" cy="328.17" r="3.25" fill="#878787" stroke="none" stroke-width="0.6" fill-opacity="0.33"/>
<circle cx="132.57" cy="327.68" r="3.25" fill="#878787" stroke="none" stroke-width="0.6" fill-opacity="0.33"/>
<circle cx="129.05" cy="325.29" r="3.25" fill="#878787" stroke="none" stroke-width="0.6" fill-opacity="0.33"/>
<circle cx="134.92" cy="326.81" r="3.25" fill="#878787" stroke="none" stroke-width="0.6" fill-opacity="0.33"/>
<circle cx="94.89" cy="318.50" r="3.25" fill="#878787" stroke="none" stroke-width="0.6" fill-opacity="0.33"/>
<circle cx="164.38" cy="326.50" r="3.25" fill="#878787" stroke="none" stroke-width="0.6" fill-opacity="0.33"/>
<circle cx="236.00" cy="318.78" r="3.25" fill="#878787" stroke="none" stroke-width="0.6" fill-opacity="0.33"/>
<circle cx="185.24" cy="318.10" r="3.25" fill="#878787" stroke="none" stroke-width="0.6" fill-opacity="0.33"/>
<circle cx="210.51" cy="325.85" r="3.25" fill="#878787" stroke="none" stroke-width="0.6" fill-opacity="0.33"/>
<circle cx="217.33" cy="329.14" r="3.25" fill="#878787" stroke="none" stroke-width="0.6" fill-opacity="0.33"/>
<circle cx="191.32" cy="328.32" r="3.25" fill="#878787" stroke="none" stroke-width="0.6" fill-opacity="0.33"/>
<circle cx="55.23" cy="322.08" r="3.25" fill="#878787" stroke="none" stroke-width="0.6" fill-opacity="0.33"/>
<circle cx="107.77" cy="326.37" r="3.25" fill="#878787" stroke="none" stroke-width="0.6" fill-opacity="0.33"/>
<circle cx="280.26" cy="325.60" r="3.25" fill="#878787" stroke="none" stroke-width="0.6" fill-opacity="0.33"/>
<circle cx="155.71" cy="325.97" r="3.25" fill="#878787" stroke="none" stroke-width="0.6" fill-opacity="0.33"/>
<circle cx="227.30" cy="322.40" r="3.25" fill="#878787" stroke="none" stroke-width="0.6" fill-opacity="0.33"/>
<circle cx="87.11" cy="325.57" r="3.25" fill="#878787" stroke="none" stroke-width="0.6" fill-opacity="0.33"/>
<circle cx="131.53" cy="327.78" r="3.25" fill="#878787" stroke="none" stroke-width="0.6" fill-opacity="0.33"/>
<circle cx="294.95" cy="326.07" r="3.25" fill="#878787" stroke="none" stroke-width="0.6" fill-opacity="0.33"/>
<circle cx="229.26" cy="322.87" r="3.25" fill="#878787" stroke="none" stroke-width="0.6" fill-opacity="0.33"/>
<circle cx="338.70" cy="326.62" r="3.25" fill="#878787" stroke="none" stroke-width="0.6" fill-opacity="0.33"/>
<circle cx="245.11" cy="326.09" r="3.25" fill="#878787" stroke="none" stroke-width="0.6" fill-opacity="0.33"/>
<circle cx="213.79" cy="323.97" r="3.25" fill="#878787" stroke="none" stroke-width="0.6" fill-opacity="0.33"/>
<circle cx="195.13" cy="325.83" r="3.25" fill="#878787" stroke="none" stroke-width="0.6" fill-opacity="0.33"/>
<circle cx="203.15" cy="316.58" r="3.25" fill="#878787" stroke="none" stroke-width="0.6" fill-opacity="0.33"/>
<circle cx="272.16" cy="319.91" r="3.25" fill="#878787" stroke="none" stroke-width="0.6" fill-opacity="0.33"/>
<circle cx="347.96" cy="327.89" r="3.25" fill="#878787" stroke="none" stroke-width="0.6" fill-opacity="0.33"/>
<circle cx="228.57" cy="316.45" r="3.25" fill="#878787" stroke="none" stroke-width="0.6" fill-opacity="0.33"/>
<circle cx="316.08" cy="328.57" r="3.25" fill="#878787" stroke="none" stroke-width="0.6" fill-opacity="0.33"/>
<circle cx="91.95" cy="326.63" r="3.25" fill="#878787" stroke="none" stroke-width="0.6" fill-opacity="0.33"/>
<circle cx="76.63" cy="328.00" r="3.25" fill="#878787" stroke="none" stroke-width="0.6" fill-opacity="0.33"/>
<circle cx="76.81" cy="324.30" r="3.25" fill="#878787" stroke="none" stroke-width="0.6" fill-opacity="0.33"/>
<circle cx="298.59" cy="319.10" r="3.25" fill="#878787" stroke="none" stroke-width="0.6" fill-opacity="0.33"/>
<circle cx="102.19" cy="323.62" r="3.25" fill="#878787" stroke="none" stroke-width="0.6" fill-opacity="0.33"/>
<circle cx="260.00" cy="328.54" r="3.25" fill="#878787" stroke="none" stroke-width="0.6" fill-opacity="0.33"/>
<circle cx="329.44" cy="313.96" r="3.25" fill="#878787" stroke="none" stroke-width="0.6" fill-opacity="0.33"/>
<circle cx="122.51" cy="315.66" r="3.25" fill="#878787" stroke="none" stroke-width="0.6" fill-opacity="0.33"/>
<circle cx="178.26" cy="326.25" r="3.25" fill="#878787" stroke="none" stroke-width="0.6" fill-opacity="0.33"/>
<circle cx="362.84" cy="321.27" r="3.25" fill="#878787" stroke="none" stroke-width="0.6" fill-opacity="0.33"/>
<circle cx="104.38" cy="326.71" r="3.25" fill="#878787" stroke="none" stroke-width="0.6" fill-opacity="0.33"/>
<circle cx="214.87" cy="327.38" r="3.25" fill="#878787" stroke="none" stroke-width="0.6" fill-opacity="0.33"/>
<circle cx="115.07" cy="327.52" r="3.25" fill="#878787" stroke="none" stroke-width="0.6" fill-opacity="0.33"/>
<circle cx="279.31" cy="329.14" r="3.25" fill="#878787" stroke="none" stroke-width="0.6" fill-opacity="0.33"/>
<circle cx="226.86" cy="326.64" r="3.25" fill="#878787" stroke="none" stroke-width="0.6" fill-opacity="0.33"/>
<circle cx="59.64" cy="327.43" r="3.25" fill="#878787" stroke="none" stroke-width="0.6" fill-opacity="0.33"/>
<circle cx="248.67" cy="326.03" r="3.25" fill="#878787" stroke="none" stroke-width="0.6" fill-opacity="0.33"/>
<circle cx="74.06" cy="310.50" r="3.25" fill="#878787" stroke="none" stroke-width="0.6" fill-opacity="0.33"/>
<circle cx="299.97" cy="313.35" r="3.25" fill="#878787" stroke="none" stroke-width="0.6" fill-opacity="0.33"/>
<circle cx="86.69" cy="327.85" r="3.25" fill="#878787" stroke="none" stroke-width="0.6" fill-opacity="0.33"/>
<circle cx="66.35" cy="322.50" r="3.25" fill="#878787" stroke="none" stroke-width="0.6" fill-opacity="0.33"/>
<circle cx="138.38" cy="328.61" r="3.25" fill="#878787" stroke="none" stroke-width="0.6" fill-opacity="0.33"/>
<circle cx="185.74" cy="318.43" r="3.25" fill="#878787" stroke="none" stroke-width="0.6" fill-opacity="0.33"/>
<circle cx="309.52" cy="327.89" r="3.25" fill="#878787" stroke="none" stroke-width="0.6" fill-opacity="0.33"/>
<circle cx="100.60" cy="318.02" r="3.25" fill="#878787" stroke="none" stroke-width="0.6" fill-opacity="0.33"/>
<circle cx="232.03" cy="323.86" r="3.25" fill="#878787" stroke="none" stroke-width="0.6" fill-opacity="0.33"/>
<circle cx="81.91" cy="328.96" r="3.25" fill="#878787" stroke="none" stroke-width="0.6" fill-opacity="0.33"/>
<circle cx="268.72" cy="326.76" r="3.25" fill="#878787" stroke="none" stroke-width="0.6" fill-opacity="0.33"/>
<circle cx="76.59" cy="316.82" r="3.25" fill="#878787" stroke="none" stroke-width="0.6" fill-opacity="0.33"/>
<circle cx="251.95" cy="322.02" r="3.25" fill="#878787" stroke="none" stroke-width="0.6" fill-opacity="0.33"/>
<circle cx="80.13" cy="320.59" r="3.25" fill="#878787" stroke="none" stroke-width="0.6" fill-opacity="0.33"/>
<circle cx="74.79" cy="320.38" r="3.25" fill="#878787" stroke="none" stroke-width="0.6" fill-opacity="0.33"/>
<circle cx="195.58" cy="327.38" r="3.25" fill="#878787" stroke="none" stroke-width="0.6" fill-opacity="0.33"/>
<circle cx="226.56" cy="317.59" r="3.25" fill="#878787" stroke="none" stroke-width="0.6" fill-opacity="0.33"/>
<circle cx="137.57" cy="328.61" r="3.25" fill="#878787" stroke="none" stroke-width="0.6" fill-opacity="0.33"/>
<circle cx="218.40" cy="328.01" r="3.25" fill="#878787" stroke="none" stroke-width="0.6" fill-opacity="0.33"/>
<circle cx="88.15" cy="328.44" r="3.25" fill="#878787" stroke="none" stroke-width="0.6" fill-opacity="0.33"/>
<circle cx="69.72" cy="328.22" r="3.25" fill="#878787" stroke="none" stroke-width="0.6" fill-opacity="0.33"/>
<circle cx="151.34" cy="327.60" r="3.25" fill="#878787" stroke="none" stroke-width="0.6" fill-opacity="0.33"/>
<circle cx="290.96" cy="327.70" r="3.25" fill="#878787" stroke="none" stroke-width="0.6" fill-opacity="0.33"/>
<circle cx="210.03" cy="328.35" r="3.25" fill="#878787" stroke="none" stroke-width="0.6" fill-opacity="0.33"/>
<circle cx="162.26" cy="329.14" r="3.25" fill="#878787" stroke="none" stroke-width="0.6" fill-opacity="0.33"/>
<circle cx="132.14" cy="329.16" r="3.25" fill="#878787" stroke="none" stroke-width="0.6" fill-opacity="0.33"/>
<circle cx="282.72" cy="325.66" r="3.25" fill="#878787" stroke="none" stroke-width="0.6" fill-opacity="0.33"/>
<circle cx="113.11" cy="326.36" r="3.25" fill="#878787" stroke="none" stroke-width="0.6" fill-opacity="0.33"/>
<circle cx="345.61" cy="328.72" r="3.25" fill="#878787" stroke="none" stroke-width="0.6" fill-opacity="0.33"/>
<circle cx="309.50" cy="326.70" r="3.25" fill="#878787" stroke="none" stroke-width="0.6" fill-opacity="0.33"/>
<circle cx="208.44" cy="321.21" r="3.25" fill="#878787" stroke="none" stroke-width="0.6" fill-opacity="0.33"/>
<circle cx="176.64" cy="326.08" r="3.25" fill="#878787" stroke="none" stroke-width="0.6" fill-opacity="0.33"/>
<circle cx="268.58" cy="311.22" r="3.25" fill="#878787" stroke="none" stroke-width="0.6" fill-opacity="0.33"/>
<circle cx="160.92" cy="321.27" r="3.25" fill="#878787" stroke="none" stroke-width="0.6" fill-opacity="0.33"/>
<circle cx="274.50" cy="324.72" r="3.25" fill="#878787" stroke="none" stroke-width="0.6" fill-opacity="0.33"/>
<circle cx="180.27" cy="327.32" r="3.25" fill="#878787" stroke="none" stroke-width="0.6" fill-opacity="0.33"/>
<circle cx="70.97" cy="328.61" r="3.25" fill="#878787" stroke="none" stroke-width="0.6" fill-opacity="0.33"/>
<circle cx="76.07" cy="323.21" r="3.25" fill="#878787" stroke="none" stroke-width="0.6" fill-opacity="0.33"/>
<circle cx="133.75" cy="328.43" r="3.25" fill="#878787" stroke="none" stroke-width="0.6" fill-opacity="0.33"/>
<circle cx="80.36" cy="321.03" r="3.25" fill="#878787" stroke="none" stroke-width="0.6" fill-opacity="0.33"/>
<circle cx="325.61" cy="324.28" r="3.25" fill="#878787" stroke="none" stroke-width="0.6" fill-opacity="0.33"/>
<circle cx="141.96" cy="327.99" r="3.25" fill="#878787" stroke="none" stroke-width="0.6" fill-opacity="0.33"/>
<circle cx="145.43" cy="326.49" r="3.25" fill="#878787" stroke="none" stroke-width="0.6" fill-opacity="0.33"/>
<circle cx="103.15" cy="326.60" r="3.25" fill="#878787" stroke="none" stroke-width="0.6" fill-opacity="0.33"/>
<circle cx="136.13" cy="314.69" r="3.25" fill="#878787" stroke="none" stroke-width="0.6" fill-opacity="0.33"/>
<circle cx="357.46" cy="325.70" r="3.25" fill="#878787" stroke="none" stroke-width="0.6" fill-opacity="0.33"/>
<circle cx="130.27" cy="314.21" r="3.25" fill="#878787" stroke="none" stroke-width="0.6" fill-opacity="0.33"/>
<circle cx="150.58" cy="327.26" r="3.25" fill="#878787" stroke="none" stroke-width="0.6" fill-opacity="0.33"/>
<circle cx="54.33" cy="327.08" r="3.25" fill="#878787" stroke="none" stroke-width="0.6" fill-opacity="0.33"/>
<circle cx="202.09" cy="326.11" r="3.25" fill="#878787" stroke="none" stroke-width="0.6" fill-opacity="0.33"/>
<circle cx="116.71" cy="326.10" r="3.25" fill="#878787" stroke="none" stroke-width="0.6" fill-opacity="0.33"/>
<circle cx="55.54" cy="327.86" r="3.25" fill="#878787" stroke="none" stroke-width="0.6" fill-opacity="0.33"/>
<circle cx="82.00" cy="326.95" r="3.25" fill="#878787" stroke="none" stroke-width="0.6" fill-opacity="0.33"/>
<circle cx="67.00" cy="329.12" r="3.25" fill="#878787" stroke="none" stroke-width="0.6" fill-opacity="0.33"/>
<circle cx="148.92" cy="328.04" r="3.25" fill="#878787" stroke="none" stroke-width="0.6" fill-opacity="0.33"/>
<circle cx="236.70" cy="325.87" r="3.25" fill="#878787" stroke="none" stroke-width="0.6" fill-opacity="0.33"/>
<circle cx="288.17" cy="324.45" r="3.25" fill="#878787" stroke="none" stroke-width="0.6" fill-opacity="0.33"/>
<circle cx="277.39" cy="319.82" r="3.25" fill="#878787" stroke="none" stroke-width="0.6" fill-opacity="0.33"/>
<circle cx="175.53" cy="327.47" r="3.25" fill="#878787" stroke="none" stroke-width="0.6" fill-opacity="0.33"/>
<circle cx="361.24" cy="328.50" r="3.25" fill="#878787" stroke="none" stroke-width="0.6" fill-opacity="0.33"/>
<circle cx="279.94" cy="324.64" r="3.25" fill="#878787" stroke="none" stroke-width="0.6" fill-opacity="0.33"/>
<circle cx="67.66" cy="321.19" r="3.25" fill="#878787" stroke="none" stroke-width="0.6" fill-opacity="0.33"/>
<circle cx="332.29" cy="324.83" r="3.25" fill="#878787" stroke="none" stroke-width="0.6" fill-opacity="0.33"/>
<circle cx="282.96" cy="321.78" r="3.25" fill="#878787" stroke="none" stroke-width="0.6" fill-opacity="0.33"/>
<circle cx="97.46" cy="325.92" r="3.25" fill="#878787" stroke="none" stroke-width="0.6" fill-opacity="0.33"/>
<circle cx="211.36" cy="321.20" r="3.25" fill="#878787" stroke="none" stroke-width="0.6" fill-opacity="0.33"/>
<circle cx="305.06" cy="321.43" r="3.25" fill="#878787" stroke="none" stroke-width="0.6" fill-opacity="0.33"/>
<circle cx="236.23" cy="319.28" r="3.25" fill="#878787" stroke="none" stroke-width="0.6" fill-opacity="0.33"/>
<circle cx="267.06" cy="323.96" r="3.25" fill="#878787" stroke="none" stroke-width="0.6" fill-opacity="0.33"/>
<circle cx="125.74" cy="329.08" r="3.25" fill="#878787" stroke="none" stroke-width="0.6" fill-opacity="0.33"/>
<circle cx="95.53" cy="327.23" r="3.25" fill="#878787" stroke="none" stroke-width="0.6" fill-opacity="0.33"/>
<circle cx="86.73" cy="321.18" r="3.25" fill="#878787" stroke="none" stroke-width="0.6" fill-opacity="0.33"/>
<circle cx="228.26" cy="324.82" r="3.25" fill="#878787" stroke="none" stroke-width="0.6" fill-opacity="0.33"/>
<circle cx="249.38" cy="324.14" r="3.25" fill="#878787" stroke="none" stroke-width="0.6" fill-opacity="0.33"/>
<circle cx="206.66" cy="329.21" r="3.25" fill="#878787" stroke="none" stroke-width="0.6" fill-opacity="0.33"/>
<circle cx="302.88" cy="323.08" r="3.25" fill="#878787" stroke="none" stroke-width="0.6" fill-opacity="0.33"/>
<circle cx="210.93" cy="325.81" r="3.25" fill="#878787" stroke="none" stroke-width="0.6" fill-opacity="0.33"/>
<circle cx="259.70" cy="328.92" r="3.25" fill="#878787" stroke="none" stroke-width="0.6" fill-opacity="0.33"/>
<circle cx="283.88" cy="327.93" r="3.25" fill="#878787" stroke="none" stroke-width="0.6" fill-opacity="0.33"/>
<circle cx="77.23" cy="327.85" r="3.25" fill="#878787" stroke="none" stroke-width="0.6" fill-opacity="0.33"/>
<circle cx="281.55" cy="328.20" r="3.25" fill="#878787" stroke="none" stroke-width="0.6" fill-opacity="0.33"/>
<circle cx="284.83" cy="312.67" r="3.25" fill="#878787" stroke="none" stroke-width="0.6" fill-opacity="0.33"/>
<circle cx="208.11" cy="327.08" r="3.25" fill="#878787" stroke="none" stroke-width="0.6" fill-opacity="0.33"/>
<circle cx="203.45" cy="324.10" r="3.25" fill="#878787" stroke="none" stroke-width="0.6" fill-opacity="0.33"/>
<circle cx="293.29" cy="324.95" r="3.25" fill="#878787" stroke="none" stroke-width="0.6" fill-opacity="0.33"/>
<circle cx="254.54" cy="328.87" r="3.25" fill="#878787" stroke="none" stroke-width="0.6" fill-opacity="0.33"/>
<circle cx="100.00" cy="327.92" r="3.25" fill="#878787" stroke="none" stroke-width="0.6" fill-opacity="0.33"/>
<circle cx="285.88" cy="327.61" r="3.25" fill="#878787" stroke="none" stroke-width="0.6" fill-opacity="0.33"/>
<circle cx="231.14" cy="329.17" r="3.25" fill="#878787" stroke="none" stroke-width="0.6" fill-opacity="0.33"/>
<circle cx="72.93" cy="327.83" r="3.25" fill="#878787" stroke="none" stroke-width="0.6" fill-opacity="0.33"/>
<circle cx="263.66" cy="323.98" r="3.25" fill="#878787" stroke="none" stroke-width="0.6" fill-opacity="0.33"/>
<circle cx="264.82" cy="327.69" r="3.25" fill="#878787" stroke="none" stroke-width="0.6" fill-opacity="0.33"/>
<circle cx="215.16" cy="326.44" r="3.25" fill="#878787" stroke="none" stroke-width="0.6" fill-opacity="0.33"/>
<circle cx="199.50" cy="328.66" r="3.25" fill="#878787" stroke="none" stroke-width="0.6" fill-opacity="0.33"/>
<circle cx="332.82" cy="328.24" r="3.25" fill="#878787" stroke="none" stroke-width="0.6" fill-opacity="0.33"/>
<circle cx="359.18" cy="316.97" r="3.25" fill="#878787" stroke="none" stroke-width="0.6" fill-opacity="0.33"/>
<circle cx="59.46" cy="326.49" r="3.25" fill="#878787" stroke="none" stroke-width="0.6" fill-opacity="0.33"/>
<circle cx="309.81" cy="313.88" r="3.25" fill="#878787" stroke="none" stroke-width="0.6" fill-opacity="0.33"/>
<circle cx="194.23" cy="327.83" r="3.25" fill="#878787" stroke="none" stroke-width="0.6" fill-opacity="0.33"/>
<circle cx="119.47" cy="316.26" r="3.25" fill="#878787" stroke="none" stroke-width="0.6" fill-opacity="0.33"/>
<circle cx="119.74" cy="325.35" r="3.25" fill="#878787" stroke="none" stroke-width="0.6" fill-opacity="0.33"/>
<circle cx="98.22" cy="325.92" r="3.25" fill="#878787" stroke="none" stroke-width="0.6" fill-opacity="0.33"/>
<circle cx="351.25" cy="328.59" r="3.25" fill="#878787" stroke="none" stroke-width="0.6" fill-opacity="0.33"/>
<circle cx="309.91" cy="326.06" r="3.25" fill="#878787" stroke="none" stroke-width="0.6" fill-opacity="0.33"/>
<circle cx="330.70" cy="323.81" r="3.25" fill="#878787" stroke="none" stroke-width="0.6" fill-opacity="0.33"/>
<circle cx="126.19" cy="319.07" r="3.25" fill="#878787" stroke="none" stroke-width="0.6" fill-opacity="0.33"/>
<circle cx="205.68" cy="329.11" r="3.25" fill="#878787" stroke="none" stroke-width="0.6" fill-opacity="0.33"/>
<circle cx="55.12" cy="326.21" r="3.25" fill="#878787" stroke="none" stroke-width="0.6" fill-opacity="0.33"/>
<circle cx="194.64" cy="327.62" r="3.25" fill="#878787" stroke="none" stroke-width="0.6" fill-opacity="0.33"/>
<circle cx="97.90" cy="327.35" r="3.25" fill="#878787" stroke="none" stroke-width="0.6" fill-opacity="0.33"/>
<circle cx="152.62" cy="321.06" r="3.25" fill="#878787" stroke="none" stroke-width="0.6" fill-opacity="0.33"/>
<circle cx="54.54" cy="323.04" r="3.25" fill="#878787" stroke="none" stroke-width="0.6" fill-opacity="0.33"/>
<circle cx="315.80" cy="328.66" r="3.25" fill="#878787" stroke="none" stroke-width="0.6" fill-opacity="0.33"/>
<circle cx="343.04" cy="323.67" r="3.25" fill="#878787" stroke="none" stroke-width="0.6" fill-opacity="0.33"/>
<circle cx="335.29" cy="327.70" r="3.25" fill="#878787" stroke="none" stroke-width="0.6" fill-opacity="0.33"/>
<circle cx="170.13" cy="327.00" r="3.25" fill="#878787" stroke="none" stroke-width="0.6" fill-opacity="0.33"/>
<circle cx="365.62" cy="325.26" r="3.25" fill="#878787" stroke="none" stroke-width="0.6" fill-opacity="0.33"/>
<circle cx="166.54" cy="326.74" r="3.25" fill="#878787" stroke="none" stroke-width="0.6" fill-opacity="0.33"/>
<circle cx="139.85" cy="329.00" r="3.25" fill="#878787" stroke="none" stroke-width="0.6" fill-opacity="0.33"/>
<circle cx="85.73" cy="321.21" r="3.25" fill="#878787" stroke="none" stroke-width="0.6" fill-opacity="0.33"/>
<circle cx="143.11" cy="317.01" r="3.25" fill="#878787" stroke="none" stroke-width="0.6" fill-opacity="0.33"/>
<circle cx="131.79" cy="327.85" r="3.25" fill="#878787" stroke="none" stroke-width="0.6" fill-opacity="0.33"/>
<circle cx="213.42" cy="328.29" r="3.25" fill="#878787" stroke="none" stroke-width="0.6" fill-opacity="0.33"/>
<circle cx="170.48" cy="315.30" r="3.25" fill="#878787" stroke="none" stroke-width="0.6" fill-opacity="0.33"/>
<circle cx="329.89" cy="321.78" r="3.25" fill="#878787" stroke="none" stroke-width="0.6" fill-opacity="0.33"/>
<circle cx="250.84" cy="318.33" r="3.25" fill="#878787" stroke="none" stroke-width="0.6" fill-opacity="0.33"/>
<circle cx="347.50" cy="325.68" r="3.25" fill="#878787" stroke="none" stroke-width="0.6" fill-opacity="0.33"/>
<circle cx="278.51" cy="329.00" r="3.25" fill="#878787" stroke="none" stroke-width="0.6" fill-opacity="0.33"/>
<circle cx="282.49" cy="326.56" r="3.25" fill="#878787" stroke="none" stroke-width="0.6" fill-opacity="0.33"/>
<circle cx="288.83" cy="324.62" r="3.25" fill="#878787" stroke="none" stroke-width="0.6" fill-opacity="0.33"/>
<circle cx="143.30" cy="329.00" r="3.25" fill="#878787" stroke="none" stroke-width="0.6" fill-opacity="0.33"/>
<circle cx="343.15" cy="328.62" r="3.25" fill="#878787" stroke="none" stroke-width="0.6" fill-opacity="0.33"/>
<circle cx="201.32" cy="327.35" r="3.25" fill="#878787" stroke="none" stroke-width="0.6" fill-opacity="0.33"/>
<circle cx="146.90" cy="323.24" r="3.25" fill="#878787" stroke="none" stroke-width="0.6" fill-opacity="0.33"/>
<circle cx="358.60" cy="327.88" r="3.25" fill="#878787" stroke="none" stroke-width="0.6" fill-opacity="0.33"/>
<circle cx="258.67" cy="327.63" r="3.25" fill="#878787" stroke="none" stroke-width="0.6" fill-opacity="0.33"/>
<circle cx="227.88" cy="326.99" r="3.25" fill="#878787" stroke="none" stroke-width="0.6" fill-opacity="0.33"/>
<circle cx="106.21" cy="328.44" r="3.25" fill="#878787" stroke="none" stroke-width="0.6" fill-opacity="0.33"/>
<circle cx="118.86" cy="318.70" r="3.25" fill="#878787" stroke="none" stroke-width="0.6" fill-opacity="0.33"/>
<circle cx="209.09" cy="328.12" r="3.25" fill="#878787" stroke="none" stroke-width="0.6" fill-opacity="0.33"/>
<circle cx="336.75" cy="304.07" r="3.25" fill="#878787" stroke="none" stroke-width="0.6" fill-opacity="0.33"/>
<circle cx="194.39" cy="328.56" r="3.25" fill="#878787" stroke="none" stroke-width="0.6" fill-opacity="0.33"/>
<circle cx="114.03" cy="328.80" r="3.25" fill="#878787" stroke="none" stroke-width="0.6" fill-opacity="0.33"/>
<circle cx="160.69" cy="328.80" r="3.25" fill="#878787" stroke="none" stroke-width="0.6" fill-opacity="0.33"/>
<circle cx="128.61" cy="327.89" r="3.25" fill="#878787" stroke="none" stroke-width="0.6" fill-opacity="0.33"/>
<circle cx="231.72" cy="319.51" r="3.25" fill="#878787" stroke="none" stroke-width="0.6" fill-opacity="0.33"/>
<circle cx="287.89" cy="326.85" r="3.25" fill="#878787" stroke="none" stroke-width="0.6" fill-opacity="0.33"/>
<circle cx="183.13" cy="325.92" r="3.25" fill="#878787" stroke="none" stroke-width="0.6" fill-opacity="0.33"/>
<circle cx="171.58" cy="327.39" r="3.25" fill="#878787" stroke="none" stroke-width="0.6" fill-opacity="0.33"/>
<circle cx="73.36" cy="327.78" r="3.25" fill="#878787" stroke="none" stroke-width="0.6" fill-opacity="0.33"/>
<circle cx="355.92" cy="328.63" r="3.25" fill="#878787" stroke="none" stroke-width="0.6" fill-opacity="0.33"/>
<circle cx="211.06" cy="324.80" r="3.25" fill="#878787" stroke="none" stroke-width="0.6" fill-opacity="0.33"/>
<circle cx="323.21" cy="328.14" r="3.25" fill="#878787" stroke="none" stroke-width="0.6" fill-opacity="0.33"/>
<circle cx="138.56" cy="327.95" r="3.25" fill="#878787" stroke="none" stroke-width="0.6" fill-opacity="0.33"/>
<circle cx="178.72" cy="326.60" r="3.25" fill="#878787" stroke="none" stroke-width="0.6" fill-opacity="0.33"/>
<circle cx="351.63" cy="320.82" r="3.25" fill="#878787" stroke="none" stroke-width="0.6" fill-opacity="0.33"/>
<circle cx="326.34" cy="329.13" r="3.25" fill="#878787" stroke="none" stroke-width="0.6" fill-opacity="0.33"/>
<circle cx="64.06" cy="323.72" r="3.25" fill="#878787" stroke="none" stroke-width="0.6" fill-opacity="0.33"/>
<circle cx="333.46" cy="326.37" r="3.25" fill="#878787" stroke="none" stroke-width="0.6" fill-opacity="0.33"/>
<circle cx="237.20" cy="329.22" r="3.25" fill="#878787" stroke="none" stroke-width="0.6" fill-opacity="0.33"/>
<circle cx="176.15" cy="317.58" r="3.25" fill="#878787" stroke="none" stroke-width="0.6" fill-opacity="0.33"/>
<circle cx="311.58" cy="320.61" r="3.25" fill="#878787" stroke="none" stroke-width="0.6" fill-opacity="0.33"/>
<circle cx="357.34" cy="327.95" r="3.25" fill="#878787" stroke="none" stroke-width="0.6" fill-opacity="0.33"/>
<circle cx="88.02" cy="328.48" r="3.25" fill="#878787" stroke="none" stroke-width="0.6" fill-opacity="0.33"/>
<circle cx="216.98" cy="324.12" r="3.25" fill="#878787" stroke="none" stroke-width="0.6" fill-opacity="0.33"/>
<circle cx="347.75" cy="323.53" r="3.25" fill="#878787" stroke="none" stroke-width="0.6" fill-opacity="0.33"/>
<circle cx="255.97" cy="322.78" r="3.25" fill="#878787" stroke="none" stroke-width="0.6" fill-opacity="0.33"/>
<circle cx="196.69" cy="325.65" r="3.25" fill="#878787" stroke="none" stroke-width="0.6" fill-opacity="0.33"/>
<circle cx="66.34" cy="322.44" r="3.25" fill="#878787" stroke="none" stroke-width="0.6" fill-opacity="0.33"/>
<circle cx="126.56" cy="317.98" r="3.25" fill="#878787" stroke="none" stroke-width="0.6" fill-opacity="0.33"/>
<circle cx="255.40" cy="327.61" r="3.25" fill="#878787" stroke="none" stroke-width="0.6" fill-opacity="0.33"/>
<circle cx="93.93" cy="327.93" r="3.25" fill="#878787" stroke="none" stroke-width="0.6" fill-opacity="0.33"/>
<circle cx="252.52" cy="323.88" r="3.25" fill="#878787" stroke="none" stroke-width="0.6" fill-opacity="0.33"/>
<circle cx="88.99" cy="328.90" r="3.25" fill="#878787" stroke="none" stroke-width="0.6" fill-opacity="0.33"/>
<circle cx="217.62" cy="325.33" r="3.25" fill="#878787" stroke="none" stroke-width="0.6" fill-opacity="0.33"/>
<circle cx="175.08" cy="328.10" r="3.25" fill="#878787" stroke="none" stroke-width="0.6" fill-opacity="0.33"/>
<circle cx="241.53" cy="329.18" r="3.25" fill="#878787" stroke="none" stroke-width="0.6" fill-opacity="0.33"/>
<circle cx="148.07" cy="326.48" r="3.25" fill="#878787" stroke="none" stroke-width="0.6" fill-opacity="0.33"/>
<circle cx="353.19" cy="324.62" r="3.25" fill="#878787" stroke="none" stroke-width="0.6" fill-opacity="0.33"/>
<circle cx="329.74" cy="326.35" r="3.25" fill="#878787" stroke="none" stroke-width="0.6" fill-opacity="0.33"/>
<circle cx="127.25" cy="327.96" r="3.25" fill="#878787" stroke="none" stroke-width="0.6" fill-opacity="0.33"/>
<circle cx="353.71" cy="323.79" r="3.25" fill="#878787" stroke="none" stroke-width="0.6" fill-opacity="0.33"/>
<circle cx="149.91" cy="329.13" r="3.25" fill="#878787" stroke="none" stroke-width="0.6" fill-opacity="0.33"/>
<circle cx="209.47" cy="324.23" r="3.25" fill="#878787" stroke="none" stroke-width="0.6" fill-opacity="0.33"/>
<circle cx="185.04" cy="327.90" r="3.25" fill="#878787" stroke="none" stroke-width="0.6" fill-opacity="0.33"/>
<circle cx="262.21" cy="317.68" r="3.25" fill="#878787" stroke="none" stroke-width="0.6" fill-opacity="0.33"/>
<circle cx="124.76" cy="329.07" r="3.25" fill="#878787" stroke="none" stroke-width="0.6" fill-opacity="0.33"/>
<circle cx="159.47" cy="326.79" r="3.25" fill="#878787" stroke="none" stroke-width="0.6" fill-opacity="0.33"/>
<circle cx="266.96" cy="328.24" r="3.25" fill="#878787" stroke="none" stroke-width="0.6" fill-opacity="0.33"/>
<circle cx="302.68" cy="323.24" r="3.25" fill="#878787" stroke="none" stroke-width="0.6" fill-opacity="0.33"/>
<circle cx="211.52" cy="328.20" r="3.25" fill="#878787" stroke="none" stroke-width="0.6" fill-opacity="0.33"/>
<circle cx="356.60" cy="327.56" r="3.25" fill="#878787" stroke="none" stroke-width="0.6" fill-opacity="0.33"/>
<circle cx="309.84" cy="328.06" r="3.25" fill="#878787" stroke="none" stroke-width="0.6" fill-opacity="0.33"/>
<circle cx="123.09" cy="322.86" r="3.25" fill="#878787" stroke="none" stroke-width="0.6" fill-opacity="0.33"/>
<circle cx="146.02" cy="315.71" r="3.25" fill="#878787" stroke="none" stroke-width="0.6" fill-opacity="0.33"/>
<circle cx="208.68" cy="328.30" r="3.25" fill="#878787" stroke="none" stroke-width="0.6" fill-opacity="0.33"/>
<circle cx="123.68" cy="326.82" r="3.25" fill="#878787" stroke="none" stroke-width="0.6" fill-opacity="0.33"/>
<circle cx="261.57" cy="315.99" r="3.25" fill="#878787" stroke="none" stroke-width="0.6" fill-opacity="0.33"/>
<circle cx="99.67" cy="327.00" r="3.25" fill="#878787" stroke="none" stroke-width="0.6" fill-opacity="0.33"/>
<circle cx="120.44" cy="312.95" r="3.25" fill="#878787" stroke="none" stroke-width="0.6" fill-opacity="0.33"/>
<circle cx="98.28" cy="328.99" r="3.25" fill="#878787" stroke="none" stroke-width="0.6" fill-opacity="0.33"/>
<circle cx="72.76" cy="327.00" r="3.25" fill="#878787" stroke="none" stroke-width="0.6" fill-opacity="0.33"/>
<circle cx="334.23" cy="319.65" r="3.25" fill="#878787" stroke="none" stroke-width="0.6" fill-opacity="0.33"/>
<circle cx="282.61" cy="302.49" r="3.25" fill="#878787" stroke="none" stroke-width="0.6" fill-opacity="0.33"/>
<circle cx="344.66" cy="327.45" r="3.25" fill="#878787" stroke="none" stroke-width="0.6" fill-opacity="0.33"/>
<circle cx="111.88" cy="316.99" r="3.25" fill="#878787" stroke="none" stroke-width="0.6" fill-opacity="0.33"/>
<circle cx="286.85" cy="329.08" r="3.25" fill="#878787" stroke="none" stroke-width="0.6" fill-opacity="0.33"/>
<circle cx="261.30" cy="327.11" r="3.25" fill="#878787" stroke="none" stroke-width="0.6" fill-opacity="0.33"/>
<circle cx="170.65" cy="327.43" r="3.25" fill="#878787" stroke="none" stroke-width="0.6" fill-opacity="0.33"/>
<circle cx="106.81" cy="329.21" r="3.25" fill="#878787" stroke="none" stroke-width="0.6" fill-opacity="0.33"/>
<circle cx="141.30" cy="327.30" r="3.25" fill="#878787" stroke="none" stroke-width="0.6" fill-opacity="0.33"/>
<circle cx="352.12" cy="328.64" r="3.25" fill="#878787" stroke="none" stroke-width="0.6" fill-opacity="0.33"/>
<circle cx="354.85" cy="328.19" r="3.25" fill="#878787" stroke="none" stroke-width="0.6" fill-opacity="0.33"/>
<circle cx="165.27" cy="321.55" r="3.25" fill="#878787" stroke="none" stroke-width="0.6" fill-opacity="0.33"/>
<circle cx="310.47" cy="326.70" r="3.25" fill="#878787" stroke="none" stroke-width="0.6" fill-opacity="0.33"/>
<circle cx="69.37" cy="326.37" r="3.25" fill="#878787" stroke="none" stroke-width="0.6" fill-opacity="0.33"/>
<circle cx="170.29" cy="318.01" r="3.25" fill="#878787" stroke="none" stroke-width="0.6" fill-opacity="0.33"/>
<circle cx="114.22" cy="327.21" r="3.25" fill="#878787" stroke="none" stroke-width="0.6" fill-opacity="0.33"/>
<circle cx="333.86" cy="329.09" r="3.25" fill="#878787" stroke="none" stroke-width="0.6" fill-opacity="0.33"/>
<circle cx="182.17" cy="321.79" r="3.25" fill="#878787" stroke="none" stroke-width="0.6" fill-opacity="0.33"/>
<circle cx="293.20" cy="329.04" r="3.25" fill="#878787" stroke="none" stroke-width="0.6" fill-opacity="0.33"/>
<circle cx="64.87" cy="328.94" r="3.25" fill="#878787" stroke="none" stroke-width="0.6" fill-opacity="0.33"/>
<circle cx="341.06" cy="327.90" r="3.25" fill="#878787" stroke="none" stroke-width="0.6" fill-opacity="0.33"/>
<circle cx="287.15" cy="319.04" r="3.25" fill="#878787" stroke="none" stroke-width="0.6" fill-opacity="0.33"/>
<circle cx="159.79" cy="327.81" r="3.25" fill="#878787" stroke="none" stroke-width="0.6" fill-opacity="0.33"/>
<circle cx="352.80" cy="324.95" r="3.25" fill="#878787" stroke="none" stroke-width="0.6" fill-opacity="0.33"/>
<circle cx="135.80" cy="323.61" r="3.25" fill="#878787" stroke="none" stroke-width="0.6" fill-opacity="0.33"/>
<circle cx="152.74" cy="327.79" r="3.25" fill="#878787" stroke="none" stroke-width="0.6" fill-opacity="0.33"/>
<circle cx="55.18" cy="322.95" r="3.25" fill="#878787" stroke="none" stroke-width="0.6" fill-opacity="0.33"/>
<circle cx="339.94" cy="324.75" r="3.25" fill="#878787" stroke="none" stroke-width="0.6" fill-opacity="0.33"/>
<circle cx="348.29" cy="329.12" r="3.25" fill="#878787" stroke="none" stroke-width="0.6" fill-opacity="0.33"/>
<circle cx="126.97" cy="326.35" r="3.25" fill="#878787" stroke="none" stroke-width="0.6" fill-opacity="0.33"/>
<circle cx="352.51" cy="315.52" r="3.25" fill="#878787" stroke="none" stroke-width="0.6" fill-opacity="0.33"/>
<circle cx="174.59" cy="327.94" r="3.25" fill="#878787" stroke="none" stroke-width="0.6" fill-opacity="0.33"/>
<circle cx="188.14" cy="326.20" r="3.25" fill="#878787" stroke="none" stroke-width="0.6" fill-opacity="0.33"/>
<circle cx="343.57" cy="328.33" r="3.25" fill="#878787" stroke="none" stroke-width="0.6" fill-opacity="0.33"/>
<circle cx="304.40" cy="323.25" r="3.25" fill="#878787" stroke="none" stroke-width="0.6" fill-opacity="0.33"/>
<circle cx="310.70" cy="322.63" r="3.25" fill="#878787" stroke="none" stroke-width="0.6" fill-opacity="0.33"/>
<circle cx="243.46" cy="327.46" r="3.25" fill="#878787" stroke="none" stroke-width="0.6" fill-opacity="0.33"/>
<circle cx="153.70" cy="327.22" r="3.25" fill="#878787" stroke="none" stroke-width="0.6" fill-opacity="0.33"/>
<circle cx="298.06" cy="328.86" r="3.25" fill="#878787" stroke="none" stroke-width="0.6" fill-opacity="0.33"/>
<circle cx="115.56" cy="323.00" r="3.25" fill="#878787" stroke="none" stroke-width="0.6" fill-opacity="0.33"/>
<circle cx="131.16" cy="328.93" r="3.25" fill="#878787" stroke="none" stroke-width="0.6" fill-opacity="0.33"/>
<circle cx="64.57" cy="325.64" r="3.25" fill="#878787" stroke="none" stroke-width="0.6" fill-opacity="0.33"/>
<circle cx="155.64" cy="311.75" r="3.25" fill="#878787" stroke="none" stroke-width="0.6" fill-opacity="0.33"/>
<circle cx="329.64" cy="309.59" r="3.25" fill="#878787" stroke="none" stroke-width="0.6" fill-opacity="0.33"/>
<circle cx="136.65" cy="328.83" r="3.25" fill="#878787" stroke="none" stroke-width="0.6" fill-opacity="0.33"/>
<circle cx="84.08" cy="326.15" r="3.25" fill="#878787" stroke="none" stroke-width="0.6" fill-opacity="0.33"/>
<circle cx="275.45" cy="326.59" r="3.25" fill="#878787" stroke="none" stroke-width="0.6" fill-opacity="0.33"/>
<circle cx="127.07" cy="326.82" r="3.25" fill="#878787" stroke="none" stroke-width="0.6" fill-opacity="0.33"/>
<circle cx="247.54" cy="324.23" r="3.25" fill="#878787" stroke="none" stroke-width="0.6" fill-opacity="0.33"/>
<circle cx="287.37" cy="320.87" r="3.25" fill="#878787" stroke="none" stroke-width="0.6" fill-opacity="0.33"/>
<circle cx="261.30" cy="328.65" r="3.25" fill="#878787" stroke="none" stroke-width="0.6" fill-opacity="0.33"/>
<circle cx="316.35" cy="327.68" r="3.25" fill="#878787" stroke="none" stroke-width="0.6" fill-opacity="0.33"/>
<circle cx="230.87" cy="327.15" r="3.25" fill="#878787" stroke="none" stroke-width="0.6" fill-opacity="0.33"/>
<circle cx="284.28" cy="328.24" r="3.25" fill="#878787" stroke="none" stroke-width="0.6" fill-opacity="0.33"/>
<circle cx="131.20" cy="327.97" r="3.25" fill="#878787" stroke="none" stroke-width="0.6" fill-opacity="0.33"/>
<circle cx="101.84" cy="319.63" r="3.25" fill="#878787" stroke="none" stroke-width="0.6" fill-opacity="0.33"/>
<circle cx="234.42" cy="327.47" r="3.25" fill="#878787" stroke="none" stroke-width="0.6" fill-opacity="0.33"/>
<circle cx="177.57" cy="307.47" r="3.25" fill="#878787" stroke="none" stroke-width="0.6" fill-opacity="0.33"/>
<circle cx="212.29" cy="328.05" r="3.25" fill="#878787" stroke="none" stroke-width="0.6" fill-opacity="0.33"/>
<circle cx="306.23" cy="324.51" r="3.25" fill="#878787" stroke="none" stroke-width="0.6" fill-opacity="0.33"/>
<circle cx="363.18" cy="328.74" r="3.25" fill="#878787" stroke="none" stroke-width="0.6" fill-opacity="0.33"/>
<circle cx="202.13" cy="321.61" r="3.25" fill="#878787" stroke="none" stroke-width="0.6" fill-opacity="0.33"/>
<circle cx="316.25" cy="318.28" r="3.25" fill="#878787" stroke="none" stroke-width="0.6" fill-opacity="0.33"/>
<circle cx="66.59" cy="327.68" r="3.25" fill="#878787" stroke="none" stroke-width="0.6" fill-opacity="0.33"/>
<circle cx="91.20" cy="328.29" r="3.25" fill="#878787" stroke="none" stroke-width="0.6" fill-opacity="0.33"/>
<circle cx="357.57" cy="325.33" r="3.25" fill="#878787" stroke="none" stroke-width="0.6" fill-opacity="0.33"/>
<circle cx="344.21" cy="327.15" r="3.25" fill="#878787" stroke="none" stroke-width="0.6" fill-opacity="0.33"/>
<circle cx="324.23" cy="326.57" r="3.25" fill="#878787" stroke="none" stroke-width="0.6" fill-opacity="0.33"/>
<circle cx="135.10" cy="322.53" r="3.25" fill="#878787" stroke="none" stroke-width="0.6" fill-opacity="0.33"/>
<circle cx="349.06" cy="328.73" r="3.25" fill="#878787" stroke="none" stroke-width="0.6" fill-opacity="0.33"/>
<circle cx="240.00" cy="324.92" r="3.25" fill="#878787" stroke="none" stroke-width="0.6" fill-opacity="0.33"/>
<circle cx="121.91" cy="327.18" r="3.25" fill="#878787" stroke="none" stroke-width="0.6" fill-opacity="0.33"/>
<circle cx="98.11" cy="328.21" r="3.25" fill="#878787" stroke="none" stroke-width="0.6" fill-opacity="0.33"/>
<circle cx="133.53" cy="325.15" r="3.25" fill="#878787" stroke="none" stroke-width="0.6" fill-opacity="0.33"/>
<circle cx="257.31" cy="328.21" r="3.25" fill="#878787" stroke="none" stroke-width="0.6" fill-opacity="0.33"/>
<circle cx="57.55" cy="327.46" r="3.25" fill="#878787" stroke="none" stroke-width="0.6" fill-opacity="0.33"/>
<circle cx="265.64" cy="328.31" r="3.25" fill="#878787" stroke="none" stroke-width="0.6" fill-opacity="0.33"/>
<circle cx="151.41" cy="328.21" r="3.25" fill="#878787" stroke="none" stroke-width="0.6" fill-opacity="0.33"/>
<circle cx="302.13" cy="325.69" r="3.25" fill="#878787" stroke="none" stroke-width="0.6" fill-opacity="0.33"/>
<circle cx="73.74" cy="328.75" r="3.25" fill="#878787" stroke="none" stroke-width="0.6" fill-opacity="0.33"/>
<circle cx="177.33" cy="325.67" r="3.25" fill="#878787" stroke="none" stroke-width="0.6" fill-opacity="0.33"/>
<circle cx="253.42" cy="328.80" r="3.25" fill="#878787" stroke="none" stroke-width="0.6" fill-opacity="0.33"/>
<circle cx="105.07" cy="323.93" r="3.25" fill="#878787" stroke="none" stroke-width="0.6" fill-opacity="0.33"/>
<circle cx="181.85" cy="327.74" r="3.25" fill="#878787" stroke="none" stroke-width="0.6" fill-opacity="0.33"/>
<circle cx="149.97" cy="315.59" r="3.25" fill="#878787" stroke="none" stroke-width="0.6" fill-opacity="0.33"/>
<circle cx="151.46" cy="325.50" r="3.25" fill="#878787" stroke="none" stroke-width="0.6" fill-opacity="0.33"/>
<circle cx="165.44" cy="326.83" r="3.25" fill="#878787" stroke="none" stroke-width="0.6" fill-opacity="0.33"/>
<circle cx="323.64" cy="303.89" r="3.25" fill="#878787" stroke="none" stroke-width="0.6" fill-opacity="0.33"/>
<circle cx="167.50" cy="328.25" r="3.25" fill="#878787" stroke="none" stroke-width="0.6" fill-opacity="0.33"/>
<circle cx="281.15" cy="328.21" r="3.25" fill="#878787" stroke="none" stroke-width="0.6" fill-opacity="0.33"/>
<circle cx="55.83" cy="318.90" r="3.25" fill="#878787" stroke="none" stroke-width="0.6" fill-opacity="0.33"/>
<circle cx="186.21" cy="321.58" r="3.25" fill="#878787" stroke="none" stroke-width="0.6" fill-opacity="0.33"/>
<circle cx="180.74" cy="319.68" r="3.25" fill="#878787" stroke="none" stroke-width="0.6" fill-opacity="0.33"/>
<circle cx="197.80" cy="328.44" r="3.25" fill="#878787" stroke="none" stroke-width="0.6" fill-opacity="0.33"/>
<circle cx="58.63" cy="325.65" r="3.25" fill="#878787" stroke="none" stroke-width="0.6" fill-opacity="0.33"/>
<circle cx="253.89" cy="318.51" r="3.25" fill="#878787" stroke="none" stroke-width="0.6" fill-opacity="0.33"/>
<circle cx="81.78" cy="324.89" r="3.25" fill="#878787" stroke="none" stroke-width="0.6" fill-opacity="0.33"/>
<circle cx="169.70" cy="326.10" r="3.25" fill="#878787" stroke="none" stroke-width="0.6" fill-opacity="0.33"/>
<circle cx="99.52" cy="327.74" r="3.25" fill="#878787" stroke="none" stroke-width="0.6" fill-opacity="0.33"/>
<circle cx="216.60" cy="317.66" r="3.25" fill="#878787" stroke="none" stroke-width="0.6" fill-opacity="0.33"/>
<circle cx="87.94" cy="326.22" r="3.25" fill="#878787" stroke="none" stroke-width="0.6" fill-opacity="0.33"/>
<circle cx="305.10" cy="314.05" r="3.25" fill="#878787" stroke="none" stroke-width="0.6" fill-opacity="0.33"/>
<circle cx="115.57" cy="328.62" r="3.25" fill="#878787" stroke="none" stroke-width="0.6" fill-opacity="0.33"/>
<circle cx="348.24" cy="312.70" r="3.25" fill="#878787" stroke="none" stroke-width="0.6" fill-opacity="0.33"/>
<circle cx="204.61" cy="328.98" r="3.25" fill="#878787" stroke="none" stroke-width="0.6" fill-opacity="0.33"/>
<circle cx="342.96" cy="327.04" r="3.25" fill="#878787" stroke="none" stroke-width="0.6" fill-opacity="0.33"/>
<circle cx="336.12" cy="324.91" r="3.25" fill="#878787" stroke="none" stroke-width="0.6" fill-opacity="0.33"/>
<circle cx="311.26" cy="328.45" r="3.25" fill="#878787" stroke="none" stroke-width="0.6" fill-opacity="0.33"/>
<circle cx="299.18" cy="328.11" r="3.25" fill="#878787" stroke="none" stroke-width="0.6" fill-opacity="0.33"/>
<circle cx="180.20" cy="320.88" r="3.25" fill="#878787" stroke="none" stroke-width="0.6" fill-opacity="0.33"/>
<circle cx="312.71" cy="328.33" r="3.25" fill="#878787" stroke="none" stroke-width="0.6" fill-opacity="0.33"/>
<circle cx="122.06" cy="326.95" r="3.25" fill="#878787" stroke="none" stroke-width="0.6" fill-opacity="0.33"/>
<circle cx="215.58" cy="327.07" r="3.25" fill="#878787" stroke="none" stroke-width="0.6" fill-opacity="0.33"/>
<circle cx="92.39" cy="327.96" r="3.25" fill="#878787" stroke="none" stroke-width="0.6" fill-opacity="0.33"/>
<circle cx="280.16" cy="319.09" r="3.25" fill="#878787" stroke="none" stroke-width="0.6" fill-opacity="0.33"/>
<circle cx="66.82" cy="325.55" r="3.25" fill="#878787" stroke="none" stroke-width="0.6" fill-opacity="0.33"/>
<circle cx="290.33" cy="329.05" r="3.25" fill="#878787" stroke="none" stroke-width="0.6" fill-opacity="0.33"/>
<circle cx="315.52" cy="328.67" r="3.25" fill="#878787" stroke="none" stroke-width="0.6" fill-opacity="0.33"/>
<circle cx="241.05" cy="325.67" r="3.25" fill="#878787" stroke="none" stroke-width="0.6" fill-opacity="0.33"/>
<circle cx="249.64" cy="327.60" r="3.25" fill="#878787" stroke="none" stroke-width="0.6" fill-opacity="0.33"/>
<circle cx="185.06" cy="325.33" r="3.25" fill="#878787" stroke="none" stroke-width="0.6" fill-opacity="0.33"/>
<circle cx="186.83" cy="324.44" r="3.25" fill="#878787" stroke="none" stroke-width="0.6" fill-opacity="0.33"/>
<circle cx="193.40" cy="326.66" r="3.25" fill="#878787" stroke="none" stroke-width="0.6" fill-opacity="0.33"/>
<circle cx="61.29" cy="324.93" r="3.25" fill="#878787" stroke="none" stroke-width="0.6" fill-opacity="0.33"/>
<circle cx="206.72" cy="328.03" r="3.25" fill="#878787" stroke="none" stroke-width="0.6" fill-opacity="0.33"/>
<circle cx="292.23" cy="322.48" r="3.25" fill="#878787" stroke="none" stroke-width="0.6" fill-opacity="0.33"/>
<circle cx="196.99" cy="328.34" r="3.25" fill="#878787" stroke="none" stroke-width="0.6" fill-opacity="0.33"/>
<circle cx="201.64" cy="328.72" r="3.25" fill="#878787" stroke="none" stroke-width="0.6" fill-opacity="0.33"/>
<circle cx="94.08" cy="326.72" r="3.25" fill="#878787" stroke="none" stroke-width="0.6" fill-opacity="0.33"/>
<circle cx="82.61" cy="326.63" r="3.25" fill="#878787" stroke="none" stroke-width="0.6" fill-opacity="0.33"/>
<circle cx="213.17" cy="329.04" r="3.25" fill="#878787" stroke="none" stroke-width="0.6" fill-opacity="0.33"/>
<circle cx="252.57" cy="328.84" r="3.25" fill="#878787" stroke="none" stroke-width="0.6" fill-opacity="0.33"/>
<circle cx="282.85" cy="322.53" r="3.25" fill="#878787" stroke="none" stroke-width="0.6" fill-opacity="0.33"/>
<circle cx="213.58" cy="328.98" r="3.25" fill="#878787" stroke="none" stroke-width="0.6" fill-opacity="0.33"/>
<circle cx="211.22" cy="327.11" r="3.25" fill="#878787" stroke="none" stroke-width="0.6" fill-opacity="0.33"/>
<circle cx="350.67" cy="328.57" r="3.25" fill="#878787" stroke="none" stroke-width="0.6" fill-opacity="0.33"/>
<circle cx="321.41" cy="304.50" r="3.25" fill="#878787" stroke="none" stroke-width="0.6" fill-opacity="0.33"/>
<circle cx="282.41" cy="321.71" r="3.25" fill="#878787" stroke="none" stroke-width="0.6" fill-opacity="0.33"/>
<circle cx="114.44" cy="311.40" r="3.25" fill="#878787" stroke="none" stroke-width="0.6" fill-opacity="0.33"/>
<circle cx="207.46" cy="315.25" r="3.25" fill="#878787" stroke="none" stroke-width="0.6" fill-opacity="0.33"/>
<circle cx="339.80" cy="328.42" r="3.25" fill="#878787" stroke="none" stroke-width="0.6" fill-opacity="0.33"/>
<circle cx="299.98" cy="317.35" r="3.25" fill="#878787" stroke="none" stroke-width="0.6" fill-opacity="0.33"/>
<circle cx="74.44" cy="327.30" r="3.25" fill="#878787" stroke="none" stroke-width="0.6" fill-opacity="0.33"/>
<circle cx="289.93" cy="328.46" r="3.25" fill="#878787" stroke="none" stroke-width="0.6" fill-opacity="0.33"/>
<circle cx="333.72" cy="327.79" r="3.25" fill="#878787" stroke="none" stroke-width="0.6" fill-opacity="0.33"/>
<circle cx="308.48" cy="328.53" r="3.25" fill="#878787" stroke="none" stroke-width="0.6" fill-opacity="0.33"/>
<circle cx="210.69" cy="317.98" r="3.25" fill="#878787" stroke="none" stroke-width="0.6" fill-opacity="0.33"/>
<circle cx="119.00" cy="327.87" r="3.25" fill="#878787" stroke="none" stroke-width="0.6" fill-opacity="0.33"/>
<circle cx="211.87" cy="327.51" r="3.25" fill="#878787" stroke="none" stroke-width="0.6" fill-opacity="0.33"/>
<circle cx="65.49" cy="328.33" r="3.25" fill="#878787" stroke="none" stroke-width="0.6" fill-opacity="0.33"/>
<circle cx="104.30" cy="316.96" r="3.25" fill="#878787" stroke="none" stroke-width="0.6" fill-opacity="0.33"/>
<circle cx="266.06" cy="319.17" r="3.25" fill="#878787" stroke="none" stroke-width="0.6" fill-opacity="0.33"/>
<circle cx="106.65" cy="322.38" r="3.25" fill="#878787" stroke="none" stroke-width="0.6" fill-opacity="0.33"/>
<circle cx="89.90" cy="325.86" r="3.25" fill="#878787" stroke="none" stroke-width="0.6" fill-opacity="0.33"/>
<circle cx="252.53" cy="327.24" r="3.25" fill="#878787" stroke="none" stroke-width="0.6" fill-opacity="0.33"/>
<circle cx="326.36" cy="325.62" r="3.25" fill="#878787" stroke="none" stroke-width="0.6" fill-opacity="0.33"/>
<circle cx="234.97" cy="319.69" r="3.25" fill="#878787" stroke="none" stroke-width="0.6" fill-opacity="0.33"/>
<circle cx="86.64" cy="307.16" r="3.25" fill="#878787" stroke="none" stroke-width="0.6" fill-opacity="0.33"/>
<circle cx="250.49" cy="326.99" r="3.25" fill="#878787" stroke="none" stroke-width="0.6" fill-opacity="0.33"/>
<circle cx="302.87" cy="327.86" r="3.25" fill="#878787" stroke="none" stroke-width="0.6" fill-opacity="0.33"/>
<circle cx="363.04" cy="325.39" r="3.25" fill="#878787" stroke="none" stroke-width="0.6" fill-opacity="0.33"/>
<circle cx="166.40" cy="322.78" r="3.25" fill="#878787" stroke="none" stroke-width="0.6" fill-opacity="0.33"/>
<circle cx="191.99" cy="328.36" r="3.25" fill="#878787" stroke="none" stroke-width="0.6" fill-opacity="0.33"/>
<circle cx="286.00" cy="329.00" r="3.25" fill="#878787" stroke="none" stroke-width="0.6" fill-opacity="0.33"/>
<circle cx="309.79" cy="327.92" r="3.25" fill="#878787" stroke="none" stroke-width="0.6" fill-opacity="0.33"/>
<circle cx="253.44" cy="310.80" r="3.25" fill="#878787" stroke="none" stroke-width="0.6" fill-opacity="0.33"/>
<circle cx="236.79" cy="324.37" r="3.25" fill="#878787" stroke="none" stroke-width="0.6" fill-opacity="0.33"/>
<circle cx="151.55" cy="329.22" r="3.25" fill="#878787" stroke="none" stroke-width="0.6" fill-opacity="0.33"/>
<circle cx="64.54" cy="328.50" r="3.25" fill="#878787" stroke="none" stroke-width="0.6" fill-opacity="0.33"/>
<circle cx="246.21" cy="326.70" r="3.25" fill="#878787" stroke="none" stroke-width="0.6" fill-opacity="0.33"/>
<circle cx="213.96" cy="319.17" r="3.25" fill="#878787" stroke="none" stroke-width="0.6" fill-opacity="0.33"/>
<circle cx="95.19" cy="328.08" r="3.25" fill="#878787" stroke="none" stroke-width="0.6" fill-opacity="0.33"/>
<circle cx="257.77" cy="329.12" r="3.25" fill="#878787" stroke="none" stroke-width="0.6" fill-opacity="0.33"/>
<circle cx="54.82" cy="327.27" r="3.25" fill="#878787" stroke="none" stroke-width="0.6" fill-opacity="0.33"/>
<circle cx="87.19" cy="327.26" r="3.25" fill="#878787" stroke="none" stroke-width="0.6" fill-opacity="0.33"/>
<circle cx="123.97" cy="325.32" r="3.25" fill="#878787" stroke="none" stroke-width="0.6" fill-opacity="0.33"/>
<circle cx="237.80" cy="328.21" r="3.25" fill="#878787" stroke="none" stroke-width="0.6" fill-opacity="0.33"/>
<circle cx="248.67" cy="326.36" r="3.25" fill="#878787" stroke="none" stroke-width="0.6" fill-opacity="0.33"/>
<circle cx="96.04" cy="316.94" r="3.25" fill="#878787" stroke="none" stroke-width="0.6" fill-opacity="0.33"/>
<circle cx="130.00" cy="328.50" r="3.25" fill="#878787" stroke="none" stroke-width="0.6" fill-opacity="0.33"/>
<circle cx="83.89" cy="324.70" r="3.25" fill="#878787" stroke="none" stroke-width="0.6" fill-opacity="0.33"/>
<circle cx="325.84" cy="322.44" r="3.25" fill="#878787" stroke="none" stroke-width="0.6" fill-opacity="0.33"/>
<circle cx="179.41" cy="327.86" r="3.25" fill="#878787" stroke="none" stroke-width="0.6" fill-opacity="0.33"/>
<circle cx="57.59" cy="324.61" r="3.25" fill="#878787" stroke="none" stroke-width="0.6" fill-opacity="0.33"/>
<circle cx="229.45" cy="327.30" r="3.25" fill="#878787" stroke="none" stroke-width="0.6" fill-opacity="0.33"/>
<circle cx="255.43" cy="326.61" r="3.25" fill="#878787" stroke="none" stroke-width="0.6" fill-opacity="0.33"/>
<circle cx="346.39" cy="323.34" r="3.25" fill="#878787" stroke="none" stroke-width="0.6" fill-opacity="0.33"/>
<circle cx="131.53" cy="318.81" r="3.25" fill="#878787" stroke="none" stroke-width="0.6" fill-opacity="0.33"/>
<circle cx="67.73" cy="325.85" r="3.25" fill="#878787" stroke="none" stroke-width="0.6" fill-opacity="0.33"/>
<circle cx="180.67" cy="328.02" r="3.25" fill="#878787" stroke="none" stroke-width="0.6" fill-opacity="0.33"/>
<circle cx="72.21" cy="322.51" r="3.25" fill="#878787" stroke="none" stroke-width="0.6" fill-opacity="0.33"/>
<circle cx="57.85" cy="325.66" r="3.25" fill="#878787" stroke="none" stroke-width="0.6" fill-opacity="0.33"/>
<circle cx="347.57" cy="328.54" r="3.25" fill="#878787" stroke="none" stroke-width="0.6" fill-opacity="0.33"/>
<circle cx="116.25" cy="325.05" r="3.25" fill="#878787" stroke="none" stroke-width="0.6" fill-opacity="0.33"/>
<circle cx="212.17" cy="324.66" r="3.25" fill="#878787" stroke="none" stroke-width="0.6" fill-opacity="0.33"/>
<circle cx="307.77" cy="328.37" r="3.25" fill="#878787" stroke="none" stroke-width="0.6" fill-opacity="0.33"/>
<circle cx="150.53" cy="327.63" r="3.25" fill="#878787" stroke="none" stroke-width="0.6" fill-opacity="0.33"/>
<circle cx="69.13" cy="319.42" r="3.25" fill="#878787" stroke="none" stroke-width="0.6" fill-opacity="0.33"/>
<circle cx="298.29" cy="323.63" r="3.25" fill="#878787" stroke="none" stroke-width="0.6" fill-opacity="0.33"/>
<circle cx="55.98" cy="320.94" r="3.25" fill="#878787" stroke="none" stroke-width="0.6" fill-opacity="0.33"/>
<circle cx="286.50" cy="326.44" r="3.25" fill="#878787" stroke="none" stroke-width="0.6" fill-opacity="0.33"/>
<circle cx="285.43" cy="326.54" r="3.25" fill="#878787" stroke="none" stroke-width="0.6" fill-opacity="0.33"/>
<circle cx="124.50" cy="328.73" r="3.25" fill="#878787" stroke="none" stroke-width="0.6" fill-opacity="0.33"/>
<circle cx="126.48" cy="329.05" r="3.25" fill="#878787" stroke="none" stroke-width="0.6" fill-opacity="0.33"/>
<circle cx="158.68" cy="323.06" r="3.25" fill="#878787" stroke="none" stroke-width="0.6" fill-opacity="0.33"/>
<circle cx="270.87" cy="320.91" r="3.25" fill="#878787" stroke="none" stroke-width="0.6" fill-opacity="0.33"/>
<circle cx="276.05" cy="327.85" r="3.25" fill="#878787" stroke="none" stroke-width="0.6" fill-opacity="0.33"/>
<circle cx="226.78" cy="326.67" r="3.25" fill="#878787" stroke="none" stroke-width="0.6" fill-opacity="0.33"/>
<circle cx="300.00" cy="325.93" r="3.25" fill="#878787" stroke="none" stroke-width="0.6" fill-opacity="0.33"/>
<circle cx="136.77" cy="324.65" r="3.25" fill="#878787" stroke="none" stroke-width="0.6" fill-opacity="0.33"/>
<circle cx="355.12" cy="328.14" r="3.25" fill="#878787" stroke="none" stroke-width="0.6" fill-opacity="0.33"/>
<circle cx="328.57" cy="329.16" r="3.25" fill="#878787" stroke="none" stroke-width="0.6" fill-opacity="0.33"/>
<circle cx="135.24" cy="328.03" r="3.25" fill="#878787" stroke="none" stroke-width="0.6" fill-opacity="0.33"/>
<circle cx="286.09" cy="316.33" r="3.25" fill="#878787" stroke="none" stroke-width="0.6" fill-opacity="0.33"/>
<circle cx="286.80" cy="327.46" r="3.25" fill="#878787" stroke="none" stroke-width="0.6" fill-opacity="0.33"/>
<circle cx="328.61" cy="327.45" r="3.25" fill="#878787" stroke="none" stroke-width="0.6" fill-opacity="0.33"/>
<circle cx="128.62" cy="318.62" r="3.25" fill="#878787" stroke="none" stroke-width="0.6" fill-opacity="0.33"/>
<circle cx="250.78" cy="323.97" r="3.25" fill="#878787" stroke="none" stroke-width="0.6" fill-opacity="0.33"/>
<circle cx="261.55" cy="312.02" r="3.25" fill="#878787" stroke="none" stroke-width="0.6" fill-opacity="0.33"/>
<circle cx="200.48" cy="321.07" r="3.25" fill="#878787" stroke="none" stroke-width="0.6" fill-opacity="0.33"/>
<circle cx="271.66" cy="320.55" r="3.25" fill="#878787" stroke="none" stroke-width="0.6" fill-opacity="0.33"/>
<circle cx="190.41" cy="323.48" r="3.25" fill="#878787" stroke="none" stroke-width="0.6" fill-opacity="0.33"/>
<circle cx="231.95" cy="327.59" r="3.25" fill="#878787" stroke="none" stroke-width="0.6" fill-opacity="0.33"/>
<circle cx="120.13" cy="324.89" r="3.25" fill="#878787" stroke="none" stroke-width="0.6" fill-opacity="0.33"/>
<circle cx="78.27" cy="318.46" r="3.25" fill="#878787" stroke="none" stroke-width="0.6" fill-opacity="0.33"/>
<circle cx="99.11" cy="329.10" r="3.25" fill="#878787" stroke="none" stroke-width="0.6" fill-opacity="0.33"/>
<circle cx="87.28" cy="317.45" r="3.25" fill="#878787" stroke="none" stroke-width="0.6" fill-opacity="0.33"/>
<circle cx="161.60" cy="328.54" r="3.25" fill="#878787" stroke="none" stroke-width="0.6" fill-opacity="0.33"/>
<circle cx="62.96" cy="329.04" r="3.25" fill="#878787" stroke="none" stroke-width="0.6" fill-opacity="0.33"/>
<circle cx="270.10" cy="324.75" r="3.25" fill="#878787" stroke="none" stroke-width="0.6" fill-opacity="0.33"/>
<circle cx="271.47" cy="323.28" r="3.25" fill="#878787" stroke="none" stroke-width="0.6" fill-opacity="0.33"/>
<circle cx="74.52" cy="325.25" r="3.25" fill="#878787" stroke="none" stroke-width="0.6" fill-opacity="0.33"/>
<circle cx="167.38" cy="321.65" r="3.25" fill="#878787" stroke="none" stroke-width="0.6" fill-opacity="0.33"/>
<circle cx="309.70" cy="319.34" r="3.25" fill="#878787" stroke="none" stroke-width="0.6" fill-opacity="0.33"/>
<circle cx="74.58" cy="320.21" r="3.25" fill="#878787" stroke="none" stroke-width="0.6" fill-opacity="0.33"/>
<circle cx="339.30" cy="316.36" r="3.25" fill="#878787" stroke="none" stroke-width="0.6" fill-opacity="0.33"/>
<circle cx="87.42" cy="328.20" r="3.25" fill="#878787" stroke="none" stroke-width="0.6" fill-opacity="0.33"/>
<circle cx="88.93" cy="329.07" r="3.25" fill="#878787" stroke="none" stroke-width="0.6" fill-opacity="0.33"/>
<circle cx="318.49" cy="321.78" r="3.25" fill="#878787" stroke="none" stroke-width="0.6" fill-opacity="0.33"/>
<circle cx="251.86" cy="321.46" r="3.25" fill="#878787" stroke="none" stroke-width="0.6" fill-opacity="0.33"/>
<circle cx="251.04" cy="327.72" r="3.25" fill="#878787" stroke="none" stroke-width="0.6" fill-opacity="0.33"/>
<circle cx="85.16" cy="328.77" r="3.25" fill="#878787" stroke="none" stroke-width="0.6" fill-opacity="0.33"/>
<circle cx="290.30" cy="328.20" r="3.25" fill="#878787" stroke="none" stroke-width="0.6" fill-opacity="0.33"/>
<circle cx="153.57" cy="326.77" r="3.25" fill="#878787" stroke="none" stroke-width="0.6" fill-opacity="0.33"/>
<circle cx="60.53" cy="327.90" r="3.25" fill="#878787" stroke="none" stroke-width="0.6" fill-opacity="0.33"/>
<circle cx="142.17" cy="323.62" r="3.25" fill="#878787" stroke="none" stroke-width="0.6" fill-opacity="0.33"/>
<circle cx="168.82" cy="327.50" r="3.25" fill="#878787" stroke="none" stroke-width="0.6" fill-opacity="0.33"/>
<circle cx="354.77" cy="326.10" r="3.25" fill="#878787" stroke="none" stroke-width="0.6" fill-opacity="0.33"/>
<circle cx="319.63" cy="324.94" r="3.25" fill="#878787" stroke="none" stroke-width="0.6" fill-opacity="0.33"/>
<circle cx="63.67" cy="326.85" r="3.25" fill="#878787" stroke="none" stroke-width="0.6" fill-opacity="0.33"/>
<circle cx="190.17" cy="322.62" r="3.25" fill="#878787" stroke="none" stroke-width="0.6" fill-opacity="0.33"/>
<circle cx="162.20" cy="323.79" r="3.25" fill="#878787" stroke="none" stroke-width="0.6" fill-opacity="0.33"/>
<circle cx="221.82" cy="328.14" r="3.25" fill="#878787" stroke="none" stroke-width="0.6" fill-opacity="0.33"/>
<circle cx="323.02" cy="328.80" r="3.25" fill="#878787" stroke="none" stroke-width="0.6" fill-opacity="0.33"/>
<circle cx="309.78" cy="328.39" r="3.25" fill="#878787" stroke="none" stroke-width="0.6" fill-opacity="0.33"/>
<circle cx="54.41" cy="328.22" r="3.25" fill="#878787" stroke="none" stroke-width="0.6" fill-opacity="0.33"/>
<circle cx="291.80" cy="312.26" r="3.25" fill="#878787" stroke="none" stroke-width="0.6" fill-opacity="0.33"/>
<circle cx="55.36" cy="326.22" r="3.25" fill="#878787" stroke="none" stroke-width="0.6" fill-opacity="0.33"/>
<circle cx="207.34" cy="322.13" r="3.25" fill="#878787" stroke="none" stroke-width="0.6" fill-opacity="0.33"/>
<circle cx="111.57" cy="326.19" r="3.25" fill="#878787" stroke="none" stroke-width="0.6" fill-opacity="0.33"/>
<circle cx="162.32" cy="321.29" r="3.25" fill="#878787" stroke="none" stroke-width="0.6" fill-opacity="0.33"/>
<circle cx="135.30" cy="316.40" r="3.25" fill="#878787" stroke="none" stroke-width="0.6" fill-opacity="0.33"/>
<circle cx="142.52" cy="328.15" r="3.25" fill="#878787" stroke="none" stroke-width="0.6" fill-opacity="0.33"/>
<circle cx="272.24" cy="326.15" r="3.25" fill="#878787" stroke="none" stroke-width="0.6" fill-opacity="0.33"/>
<circle cx="88.30" cy="324.72" r="3.25" fill="#878787" stroke="none" stroke-width="0.6" fill-opacity="0.33"/>
<circle cx="79.24" cy="322.32" r="3.25" fill="#878787" stroke="none" stroke-width="0.6" fill-opacity="0.33"/>
<circle cx="271.51" cy="322.34" r="3.25" fill="#878787" stroke="none" stroke-width="0.6" fill-opacity="0.33"/>
<circle cx="249.91" cy="327.27" r="3.25" fill="#878787" stroke="none" stroke-width="0.6" fill-opacity="0.33"/>
<circle cx="179.20" cy="326.99" r="3.25" fill="#878787" stroke="none" stroke-width="0.6" fill-opacity="0.33"/>
<circle cx="331.81" cy="328.82" r="3.25" fill="#878787" stroke="none" stroke-width="0.6" fill-opacity="0.33"/>
<circle cx="331.20" cy="329.11" r="3.25" fill="#878787" stroke="none" stroke-width="0.6" fill-opacity="0.33"/>
<circle cx="118.31" cy="327.86" r="3.25" fill="#878787" stroke="none" stroke-width="0.6" fill-opacity="0.33"/>
<circle cx="335.18" cy="326.13" r="3.25" fill="#878787" stroke="none" stroke-width="0.6" fill-opacity="0.33"/>
<circle cx="172.34" cy="319.63" r="3.25" fill="#878787" stroke="none" stroke-width="0.6" fill-opacity="0.33"/>
<circle cx="126.88" cy="326.47" r="3.25" fill="#878787" stroke="none" stroke-width="0.6" fill-opacity="0.33"/>
<circle cx="219.84" cy="322.97" r="3.25" fill="#878787" stroke="none" stroke-width="0.6" fill-opacity="0.33"/>
<circle cx="288.93" cy="324.60" r="3.25" fill="#878787" stroke="none" stroke-width="0.6" fill-opacity="0.33"/>
<circle cx="162.73" cy="327.46" r="3.25" fill="#878787" stroke="none" stroke-width="0.6" fill-opacity="0.33"/>
<circle cx="102.46" cy="320.98" r="3.25" fill="#878787" stroke="none" stroke-width="0.6" fill-opacity="0.33"/>
<circle cx="260.58" cy="323.19" r="3.25" fill="#878787" stroke="none" stroke-width="0.6" fill-opacity="0.33"/>
<circle cx="106.90" cy="326.65" r="3.25" fill="#878787" stroke="none" stroke-width="0.6" fill-opacity="0.33"/>
<circle cx="295.31" cy="325.37" r="3.25" fill="#878787" stroke="none" stroke-width="0.6" fill-opacity="0.33"/>
<circle cx="93.33" cy="326.46" r="3.25" fill="#878787" stroke="none" stroke-width="0.6" fill-opacity="0.33"/>
<circle cx="330.16" cy="328.01" r="3.25" fill="#878787" stroke="none" stroke-width="0.6" fill-opacity="0.33"/>
<circle cx="113.77" cy="327.63" r="3.25" fill="#878787" stroke="none" stroke-width="0.6" fill-opacity="0.33"/>
<circle cx="273.39" cy="320.96" r="3.25" fill="#878787" stroke="none" stroke-width="0.6" fill-opacity="0.33"/>
<circle cx="102.23" cy="328.47" r="3.25" fill="#878787" stroke="none" stroke-width="0.6" fill-opacity="0.33"/>
<circle cx="131.25" cy="327.46" r="3.25" fill="#878787" stroke="none" stroke-width="0.6" fill-opacity="0.33"/>
<circle cx="216.92" cy="328.44" r="3.25" fill="#878787" stroke="none" stroke-width="0.6" fill-opacity="0.33"/>
<circle cx="156.36" cy="328.29" r="3.25" fill="#878787" stroke="none" stroke-width="0.6" fill-opacity="0.33"/>
<circle cx="358.25" cy="323.42" r="3.25" fill="#878787" stroke="none" stroke-width="0.6" fill-opacity="0.33"/>
<circle cx="85.76" cy="314.62" r="3.25" fill="#878787" stroke="none" stroke-width="0.6" fill-opacity="0.33"/>
<circle cx="85.71" cy="327.07" r="3.25" fill="#878787" stroke="none" stroke-width="0.6" fill-opacity="0.33"/>
<circle cx="360.96" cy="322.17" r="3.25" fill="#878787" stroke="none" stroke-width="0.6" fill-opacity="0.33"/>
<circle cx="282.79" cy="326.68" r="3.25" fill="#878787" stroke="none" stroke-width="0.6" fill-opacity="0.33"/>
<circle cx="115.21" cy="324.70" r="3.25" fill="#878787" stroke="none" stroke-width="0.6" fill-opacity="0.33"/>
<circle cx="87.34" cy="328.20" r="3.25" fill="#878787" stroke="none" stroke-width="0.6" fill-opacity="0.33"/>
<circle cx="175.16" cy="329.07" r="3.25" fill="#878787" stroke="none" stroke-width="0.6" fill-opacity="0.33"/>
<circle cx="178.49" cy="322.25" r="3.25" fill="#878787" stroke="none" stroke-width="0.6" fill-opacity="0.33"/>
<circle cx="270.35" cy="326.13" r="3.25" fill="#878787" stroke="none" stroke-width="0.6" fill-opacity="0.33"/>
<circle cx="251.30" cy="326.45" r="3.25" fill="#878787" stroke="none" stroke-width="0.6" fill-opacity="0.33"/>
<circle cx="98.25" cy="325.10" r="3.25" fill="#878787" stroke="none" stroke-width="0.6" fill-opacity="0.33"/>
<circle cx="180.27" cy="323.21" r="3.25" fill="#878787" stroke="none" stroke-width="0.6" fill-opacity="0.33"/>
<circle cx="337.30" cy="326.72" r="3.25" fill="#878787" stroke="none" stroke-width="0.6" fill-opacity="0.33"/>
<circle cx="233.08" cy="323.07" r="3.25" fill="#878787" stroke="none" stroke-width="0.6" fill-opacity="0.33"/>
<circle cx="185.40" cy="328.07" r="3.25" fill="#878787" stroke="none" stroke-width="0.6" fill-opacity="0.33"/>
<circle cx="279.33" cy="319.78" r="3.25" fill="#878787" stroke="none" stroke-width="0.6" fill-opacity="0.33"/>
<circle cx="295.50" cy="323.86" r="3.25" fill="#878787" stroke="none" stroke-width="0.6" fill-opacity="0.33"/>
<circle cx="319.96" cy="324.16" r="3.25" fill="#878787" stroke="none" stroke-width="0.6" fill-opacity="0.33"/>
<circle cx="254.16" cy="326.53" r="3.25" fill="#878787" stroke="none" stroke-width="0.6" fill-opacity="0.33"/>
<circle cx="151.66" cy="324.82" r="3.25" fill="#878787" stroke="none" stroke-width="0.6" fill-opacity="0.33"/>
<circle cx="84.53" cy="326.80" r="3.25" fill="#878787" stroke="none" stroke-width="0.6" fill-opacity="0.33"/>
<circle cx="298.10" cy="323.66" r="3.25" fill="#878787" stroke="none" stroke-width="0.6" fill-opacity="0.33"/>
<circle cx="250.44" cy="327.94" r="3.25" fill="#878787" stroke="none" stroke-width="0.6" fill-opacity="0.33"/>
<circle cx="186.16" cy="326.52" r="3.25" fill="#878787" stroke="none" stroke-width="0.6" fill-opacity="0.33"/>
<circle cx="247.93" cy="326.88" r="3.25" fill="#878787" stroke="none" stroke-width="0.6" fill-opacity="0.33"/>
<circle cx="264.68" cy="317.37" r="3.25" fill="#878787" stroke="none" stroke-width="0.6" fill-opacity="0.33"/>
<circle cx="111.12" cy="324.49" r="3.25" fill="#878787" stroke="none" stroke-width="0.6" fill-opacity="0.33"/>
<circle cx="296.79" cy="327.03" r="3.25" fill="#878787" stroke="none" stroke-width="0.6" fill-opacity="0.33"/>
<circle cx="206.83" cy="312.87" r="3.25" fill="#878787" stroke="none" stroke-width="0.6" fill-opacity="0.33"/>
<circle cx="65.90" cy="325.73" r="3.25" fill="#878787" stroke="none" stroke-width="0.6" fill-opacity="0.33"/>
<circle cx="104.18" cy="322.45" r="3.25" fill="#878787" stroke="none" stroke-width="0.6" fill-opacity="0.33"/>
<circle cx="347.46" cy="325.96" r="3.25" fill="#878787" stroke="none" stroke-width="0.6" fill-opacity="0.33"/>
<circle cx="85.54" cy="325.42" r="3.25" fill="#878787" stroke="none" stroke-width="0.6" fill-opacity="0.33"/>
<circle cx="222.80" cy="323.60" r="3.25" fill="#878787" stroke="none" stroke-width="0.6" fill-opacity="0.33"/>
<circle cx="213.80" cy="324.68" r="3.25" fill="#878787" stroke="none" stroke-width="0.6" fill-opacity="0.33"/>
<circle cx="312.64" cy="325.94" r="3.25" fill="#878787" stroke="none" stroke-width="0.6" fill-opacity="0.33"/>
<circle cx="182.03" cy="316.06" r="3.25" fill="#878787" stroke="none" stroke-width="0.6" fill-opacity="0.33"/>
<circle cx="119.55" cy="324.09" r="3.25" fill="#878787" stroke="none" stroke-width="0.6" fill-opacity="0.33"/>
<circle cx="176.46" cy="322.82" r="3.25" fill="#878787" stroke="none" stroke-width="0.6" fill-opacity="0.33"/>
<circle cx="92.19" cy="310.68" r="3.25" fill="#878787" stroke="none" stroke-width="0.6" fill-opacity="0.33"/>
<circle cx="164.91" cy="328.97" r="3.25" fill="#878787" stroke="none" stroke-width="0.6" fill-opacity="0.33"/>
<circle cx="139.60" cy="326.95" r="3.25" fill="#878787" stroke="none" stroke-width="0.6" fill-opacity="0.33"/>
<circle cx="58.15" cy="326.81" r="3.25" fill="#878787" stroke="none" stroke-width="0.6" fill-opacity="0.33"/>
<circle cx="185.21" cy="323.89" r="3.25" fill="#878787" stroke="none" stroke-width="0.6" fill-opacity="0.33"/>
<circle cx="163.86" cy="327.85" r="3.25" fill="#878787" stroke="none" stroke-width="0.6" fill-opacity="0.33"/>
<circle cx="124.02" cy="323.20" r="3.25" fill="#878787" stroke="none" stroke-width="0.6" fill-opacity="0.33"/>
<circle cx="347.26" cy="325.89" r="3.25" fill="#878787" stroke="none" stroke-width="0.6" fill-opacity="0.33"/>
<circle cx="122.30" cy="322.02" r="3.25" fill="#878787" stroke="none" stroke-width="0.6" fill-opacity="0.33"/>
<circle cx="176.29" cy="328.16" r="3.25" fill="#878787" stroke="none" stroke-width="0.6" fill-opacity="0.33"/>
<circle cx="94.34" cy="322.55" r="3.25" fill="#878787" stroke="none" stroke-width="0.6" fill-opacity="0.33"/>
<circle cx="306.59" cy="324.75" r="3.25" fill="#878787" stroke="none" stroke-width="0.6" fill-opacity="0.33"/>
<circle cx="200.38" cy="325.55" r="3.25" fill="#878787" stroke="none" stroke-width="0.6" fill-opacity="0.33"/>
<circle cx="124.51" cy="314.44" r="3.25" fill="#878787" stroke="none" stroke-width="0.6" fill-opacity="0.33"/>
<circle cx="164.18" cy="324.69" r="3.25" fill="#878787" stroke="none" stroke-width="0.6" fill-opacity="0.33"/>
<circle cx="309.45" cy="321.68" r="3.25" fill="#878787" stroke="none" stroke-width="0.6" fill-opacity="0.33"/>
<circle cx="200.05" cy="327.67" r="3.25" fill="#878787" stroke="none" stroke-width="0.6" fill-opacity="0.33"/>
<circle cx="225.06" cy="328.63" r="3.25" fill="#878787" stroke="none" stroke-width="0.6" fill-opacity="0.33"/>
<circle cx="314.13" cy="327.27" r="3.25" fill="#878787" stroke="none" stroke-width="0.6" fill-opacity="0.33"/>
<circle cx="319.41" cy="327.84" r="3.25" fill="#878787" stroke="none" stroke-width="0.6" fill-opacity="0.33"/>
<circle cx="171.36" cy="327.92" r="3.25" fill="#878787" stroke="none" stroke-width="0.6" fill-opacity="0.33"/>
<circle cx="186.94" cy="328.31" r="3.25" fill="#878787" stroke="none" stroke-width="0.6" fill-opacity="0.33"/>
<circle cx="54.84" cy="323.53" r="3.25" fill="#878787" stroke="none" stroke-width="0.6" fill-opacity="0.33"/>
<circle cx="141.74" cy="327.97" r="3.25" fill="#878787" stroke="none" stroke-width="0.6" fill-opacity="0.33"/>
<circle cx="148.17" cy="326.32" r="3.25" fill="#878787" stroke="none" stroke-width="0.6" fill-opacity="0.33"/>
<circle cx="187.69" cy="324.71" r="3.25" fill="#878787" stroke="none" stroke-width="0.6" fill-opacity="0.33"/>
<circle cx="259.69" cy="327.22" r="3.25" fill="#878787" stroke="none" stroke-width="0.6" fill-opacity="0.33"/>
<circle cx="343.76" cy="320.64" r="3.25" fill="#878787" stroke="none" stroke-width="0.6" fill-opacity="0.33"/>
<circle cx="71.80" cy="321.39" r="3.25" fill="#878787" stroke="none" stroke-width="0.6" fill-opacity="0.33"/>
<circle cx="336.61" cy="322.40" r="3.25" fill="#878787" stroke="none" stroke-width="0.6" fill-opacity="0.33"/>
<circle cx="97.81" cy="321.30" r="3.25" fill="#878787" stroke="none" stroke-width="0.6" fill-opacity="0.33"/>
<circle cx="251.55" cy="329.16" r="3.25" fill="#878787" stroke="none" stroke-width="0.6" fill-opacity="0.33"/>
<circle cx="57.58" cy="315.72" r="3.25" fill="#878787" stroke="none" stroke-width="0.6" fill-opacity="0.33"/>
<circle cx="258.66" cy="327.94" r="3.25" fill="#878787" stroke="none" stroke-width="0.6" fill-opacity="0.33"/>
<circle cx="85.67" cy="328.54" r="3.25" fill="#878787" stroke="none" stroke-width="0.6" fill-opacity="0.33"/>
<circle cx="126.90" cy="322.56" r="3.25" fill="#878787" stroke="none" stroke-width="0.6" fill-opacity="0.33"/>
<circle cx="162.09" cy="328.49" r="3.25" fill="#878787" stroke="none" stroke-width="0.6" fill-opacity="0.33"/>
<circle cx="336.08" cy="322.24" r="3.25" fill="#878787" stroke="none" stroke-width="0.6" fill-opacity="0.33"/>
<circle cx="106.39" cy="319.35" r="3.25" fill="#878787" stroke="none" stroke-width="0.6" fill-opacity="0.33"/>
<circle cx="243.81" cy="322.46" r="3.25" fill="#878787" stroke="none" stroke-width="0.6" fill-opacity="0.33"/>
<circle cx="262.56" cy="319.23" r="3.25" fill="#878787" stroke="none" stroke-width="0.6" fill-opacity="0.33"/>
<circle cx="299.88" cy="321.10" r="3.25" fill="#878787" stroke="none" stroke-width="0.6" fill-opacity="0.33"/>
<circle cx="115.58" cy="323.97" r="3.25" fill="#878787" stroke="none" stroke-width="0.6" fill-opacity="0.33"/>
<circle cx="219.61" cy="323.19" r="3.25" fill="#878787" stroke="none" stroke-width="0.6" fill-opacity="0.33"/>
<circle cx="190.84" cy="319.68" r="3.25" fill="#878787" stroke="none" stroke-width="0.6" fill-opacity="0.33"/>
<circle cx="227.18" cy="327.86" r="3.25" fill="#878787" stroke="none" stroke-width="0.6" fill-opacity="0.33"/>
<circle cx="127.06" cy="328.56" r="3.25" fill="#878787" stroke="none" stroke-width="0.6" fill-opacity="0.33"/>
<circle cx="207.84" cy="328.96" r="3.25" fill="#878787" stroke="none" stroke-width="0.6" fill-opacity="0.33"/>
<circle cx="199.73" cy="328.53" r="3.25" fill="#878787" stroke="none" stroke-width="0.6" fill-opacity="0.33"/>
<circle cx="207.31" cy="326.15" r="3.25" fill="#878787" stroke="none" stroke-width="0.6" fill-opacity="0.33"/>
<circle cx="222.34" cy="320.38" r="3.25" fill="#878787" stroke="none" stroke-width="0.6" fill-opacity="0.33"/>
<circle cx="56.06" cy="321.04" r="3.25" fill="#878787" stroke="none" stroke-width="0.6" fill-opacity="0.33"/>
<circle cx="200.00" cy="325.54" r="3.25" fill="#878787" stroke="none" stroke-width="0.6" fill-opacity="0.33"/>
<circle cx="261.57" cy="321.05" r="3.25" fill="#878787" stroke="none" stroke-width="0.6" fill-opacity="0.33"/>
<circle cx="170.99" cy="326.81" r="3.25" fill="#878787" stroke="none" stroke-width="0.6" fill-opacity="0.33"/>
<circle cx="353.71" cy="328.88" r="3.25" fill="#878787" stroke="none" stroke-width="0.6" fill-opacity="0.33"/>
<circle cx="252.76" cy="324.72" r="3.25" fill="#878787" stroke="none" stroke-width="0.6" fill-opacity="0.33"/>
<circle cx="62.90" cy="325.04" r="3.25" fill="#878787" stroke="none" stroke-width="0.6" fill-opacity="0.33"/>
<circle cx="266.97" cy="317.29" r="3.25" fill="#878787" stroke="none" stroke-width="0.6" fill-opacity="0.33"/>
<circle cx="157.10" cy="311.41" r="3.25" fill="#878787" stroke="none" stroke-width="0.6" fill-opacity="0.33"/>
<circle cx="213.32" cy="326.27" r="3.25" fill="#878787" stroke="none" stroke-width="0.6" fill-opacity="0.33"/>
<circle cx="334.04" cy="329.07" r="3.25" fill="#878787" stroke="none" stroke-width="0.6" fill-opacity="0.33"/>
<circle cx="278.07" cy="324.85" r="3.25" fill="#878787" stroke="none" stroke-width="0.6" fill-opacity="0.33"/>
<circle cx="159.65" cy="320.42" r="3.25" fill="#878787" stroke="none" stroke-width="0.6" fill-opacity="0.33"/>
<circle cx="168.24" cy="326.36" r="3.25" fill="#878787" stroke="none" stroke-width="0.6" fill-opacity="0.33"/>
<circle cx="217.97" cy="322.67" r="3.25" fill="#878787" stroke="none" stroke-width="0.6" fill-opacity="0.33"/>
<circle cx="119.75" cy="326.68" r="3.25" fill="#878787" stroke="none" stroke-width="0.6" fill-opacity="0.33"/>
<circle cx="185.79" cy="325.63" r="3.25" fill="#878787" stroke="none" stroke-width="0.6" fill-opacity="0.33"/>
<circle cx="311.94" cy="327.68" r="3.25" fill="#878787" stroke="none" stroke-width="0.6" fill-opacity="0.33"/>
<circle cx="312.25" cy="326.92" r="3.25" fill="#878787" stroke="none" stroke-width="0.6" fill-opacity="0.33"/>
<circle cx="211.17" cy="327.81" r="3.25" fill="#878787" stroke="none" stroke-width="0.6" fill-opacity="0.33"/>
<circle cx="212.00" cy="312.80" r="3.25" fill="#878787" stroke="none" stroke-width="0.6" fill-opacity="0.33"/>
<circle cx="258.22" cy="322.23" r="3.25" fill="#878787" stroke="none" stroke-width="0.6" fill-opacity="0.33"/>
<circle cx="157.24" cy="327.53" r="3.25" fill="#878787" stroke="none" stroke-width="0.6" fill-opacity="0.33"/>
<circle cx="147.36" cy="325.29" r="3.25" fill="#878787" stroke="none" stroke-width="0.6" fill-opacity="0.33"/>
<circle cx="252.06" cy="322.40" r="3.25" fill="#878787" stroke="none" stroke-width="0.6" fill-opacity="0.33"/>
<circle cx="66.50" cy="323.51" r="3.25" fill="#878787" stroke="none" stroke-width="0.6" fill-opacity="0.33"/>
<circle cx="330.31" cy="325.71" r="3.25" fill="#878787" stroke="none" stroke-width="0.6" fill-opacity="0.33"/>
<circle cx="69.51" cy="327.63" r="3.25" fill="#878787" stroke="none" stroke-width="0.6" fill-opacity="0.33"/>
<circle cx="55.94" cy="328.29" r="3.25" fill="#878787" stroke="none" stroke-width="0.6" fill-opacity="0.33"/>
<circle cx="341.49" cy="325.05" r="3.25" fill="#878787" stroke="none" stroke-width="0.6" fill-opacity="0.33"/>
<circle cx="259.30" cy="322.30" r="3.25" fill="#878787" stroke="none" stroke-width="0.6" fill-opacity="0.33"/>
<circle cx="337.86" cy="325.01" r="3.25" fill="#878787" stroke="none" stroke-width="0.6" fill-opacity="0.33"/>
<circle cx="246.41" cy="324.84" r="3.25" fill="#878787" stroke="none" stroke-width="0.6" fill-opacity="0.33"/>
<circle cx="271.28" cy="325.19" r="3.25" fill="#878787" stroke="none" stroke-width="0.6" fill-opacity="0.33"/>
<circle cx="266.47" cy="328.16" r="3.25" fill="#878787" stroke="none" stroke-width="0.6" fill-opacity="0.33"/>
<circle cx="262.10" cy="326.50" r="3.25" fill="#878787" stroke="none" stroke-width="0.6" fill-opacity="0.33"/>
<circle cx="291.95" cy="328.75" r="3.25" fill="#878787" stroke="none" stroke-width="0.6" fill-opacity="0.33"/>
<circle cx="110.57" cy="329.06" r="3.25" fill="#878787" stroke="none" stroke-width="0.6" fill-opacity="0.33"/>
<circle cx="295.65" cy="318.30" r="3.25" fill="#878787" stroke="none" stroke-width="0.6" fill-opacity="0.33"/>
<circle cx="258.58" cy="327.18" r="3.25" fill="#878787" stroke="none" stroke-width="0.6" fill-opacity="0.33"/>
<circle cx="310.65" cy="322.35" r="3.25" fill="#878787" stroke="none" stroke-width="0.6" fill-opacity="0.33"/>
<circle cx="229.38" cy="327.90" r="3.25" fill="#878787" stroke="none" stroke-width="0.6" fill-opacity="0.33"/>
<circle cx="148.24" cy="326.79" r="3.25" fill="#878787" stroke="none" stroke-width="0.6" fill-opacity="0.33"/>
<circle cx="153.36" cy="326.72" r="3.25" fill="#878787" stroke="none" stroke-width="0.6" fill-opacity="0.33"/>
<circle cx="254.23" cy="317.13" r="3.25" fill="#878787" stroke="none" stroke-width="0.6" fill-opacity="0.33"/>
<circle cx="71.04" cy="325.49" r="3.25" fill="#878787" stroke="none" stroke-width="0.6" fill-opacity="0.33"/>
<circle cx="66.29" cy="328.66" r="3.25" fill="#878787" stroke="none" stroke-width="0.6" fill-opacity="0.33"/>
<circle cx="306.82" cy="325.41" r="3.25" fill="#878787" stroke="none" stroke-width="0.6" fill-opacity="0.33"/>
<circle cx="340.61" cy="326.59" r="3.25" fill="#878787" stroke="none" stroke-width="0.6" fill-opacity="0.33"/>
<circle cx="58.41" cy="327.04" r="3.25" fill="#878787" stroke="none" stroke-width="0.6" fill-opacity="0.33"/>
<circle cx="238.69" cy="316.86" r="3.25" fill="#878787" stroke="none" stroke-width="0.6" fill-opacity="0.33"/>
<circle cx="360.00" cy="326.35" r="3.25" fill="#878787" stroke="none" stroke-width="0.6" fill-opacity="0.33"/>
<circle cx="182.67" cy="328.75" r="3.25" fill="#878787" stroke="none" stroke-width="0.6" fill-opacity="0.33"/>
<circle cx="255.09" cy="328.16" r="3.25" fill="#878787" stroke="none" stroke-width="0.6" fill-opacity="0.33"/>
<circle cx="325.28" cy="324.85" r="3.25" fill="#878787" stroke="none" stroke-width="0.6" fill-opacity="0.33"/>
<circle cx="318.23" cy="317.49" r="3.25" fill="#878787" stroke="none" stroke-width="0.6" fill-opacity="0.33"/>
<circle cx="323.84" cy="302.98" r="3.25" fill="#878787" stroke="none" stroke-width="0.6" fill-opacity="0.33"/>
<circle cx="322.23" cy="311.76" r="3.25" fill="#878787" stroke="none" stroke-width="0.6" fill-opacity="0.33"/>
<circle cx="324.19" cy="324.83" r="3.25" fill="#878787" stroke="none" stroke-width="0.6" fill-opacity="0.33"/>
<circle cx="352.53" cy="323.15" r="3.25" fill="#878787" stroke="none" stroke-width="0.6" fill-opacity="0.33"/>
<circle cx="353.21" cy="323.61" r="3.25" fill="#878787" stroke="none" stroke-width="0.6" fill-opacity="0.33"/>
<circle cx="320.41" cy="315.32" r="3.25" fill="#878787" stroke="none" stroke-width="0.6" fill-opacity="0.33"/>
<circle cx="352.25" cy="312.42" r="3.25" fill="#878787" stroke="none" stroke-width="0.6" fill-opacity="0.33"/>
<circle cx="353.03" cy="324.38" r="3.25" fill="#878787" stroke="none" stroke-width="0.6" fill-opacity="0.33"/>
<circle cx="348.17" cy="316.95" r="3.25" fill="#878787" stroke="none" stroke-width="0.6" fill-opacity="0.33"/>
<circle cx="340.11" cy="307.50" r="3.25" fill="#878787" stroke="none" stroke-width="0.6" fill-opacity="0.33"/>
<circle cx="330.19" cy="303.36" r="3.25" fill="#878787" stroke="none" stroke-width="0.6" fill-opacity="0.33"/>
<circle cx="352.43" cy="324.88" r="3.25" fill="#878787" stroke="none" stroke-width="0.6" fill-opacity="0.33"/>
<circle cx="318.71" cy="318.14" r="3.25" fill="#878787" stroke="none" stroke-width="0.6" fill-opacity="0.33"/>
<circle cx="357.23" cy="324.41" r="3.25" fill="#878787" stroke="none" stroke-width="0.6" fill-opacity="0.33"/>
<circle cx="332.93" cy="316.48" r="3.25" fill="#878787" stroke="none" stroke-width="0.6" fill-opacity="0.33"/>
<circle cx="325.97" cy="312.17" r="3.25" fill="#878787" stroke="none" stroke-width="0.6" fill-opacity="0.33"/>
<circle cx="341.34" cy="324.55" r="3.25" fill="#878787" stroke="none" stroke-width="0.6" fill-opacity="0.33"/>
<circle cx="335.64" cy="319.41" r="3.25" fill="#878787" stroke="none" stroke-width="0.6" fill-opacity="0.33"/>
<circle cx="339.06" cy="317.63" r="3.25" fill="#878787" stroke="none" stroke-width="0.6" fill-opacity="0.33"/>
<circle cx="324.96" cy="314.61" r="3.25" fill="#878787" stroke="none" stroke-width="0.6" fill-opacity="0.33"/>
<circle cx="335.44" cy="318.24" r="3.25" fill="#878787" stroke="none" stroke-width="0.6" fill-opacity="0.33"/>
<circle cx="348.23" cy="321.44" r="3.25" fill="#878787" stroke="none" stroke-width="0.6" fill-opacity="0.33"/>
<circle cx="336.52" cy="314.96" r="3.25" fill="#878787" stroke="none" stroke-width="0.6" fill-opacity="0.33"/>
<circle cx="363.36" cy="315.00" r="3.25" fill="#878787" stroke="none" stroke-width="0.6" fill-opacity="0.33"/>
<circle cx="345.21" cy="322.71" r="3.25" fill="#878787" stroke="none" stroke-width="0.6" fill-opacity="0.33"/>
<circle cx="320.91" cy="301.32" r="3.25" fill="#878787" stroke="none" stroke-width="0.6" fill-opacity="0.33"/>
<circle cx="351.76" cy="313.57" r="3.25" fill="#878787" stroke="none" stroke-width="0.6" fill-opacity="0.33"/>
<circle cx="333.94" cy="318.92" r="3.25" fill="#878787" stroke="none" stroke-width="0.6" fill-opacity="0.33"/>
<circle cx="364.92" cy="313.42" r="3.25" fill="#878787" stroke="none" stroke-width="0.6" fill-opacity="0.33"/>
<circle cx="346.85" cy="322.56" r="3.25" fill="#878787" stroke="none" stroke-width="0.6" fill-opacity="0.33"/>
<circle cx="338.57" cy="310.76" r="3.25" fill="#878787" stroke="none" stroke-width="0.6" fill-opacity="0.33"/>
<circle cx="336.08" cy="317.47" r="3.25" fill="#878787" stroke="none" stroke-width="0.6" fill-opacity="0.33"/>
<circle cx="346.89" cy="310.28" r="3.25" fill="#878787" stroke="none" stroke-width="0.6" fill-opacity="0.33"/>
<circle cx="356.76" cy="322.79" r="3.25" fill="#878787" stroke="none" stroke-width="0.6" fill-opacity="0.33"/>
<circle cx="318.08" cy="322.97" r="3.25" fill="#878787" stroke="none" stroke-width="0.6" fill-opacity="0.33"/>
<circle cx="338.28" cy="319.23" r="3.25" fill="#878787" stroke="none" stroke-width="0.6" fill-opacity="0.33"/>
<circle cx="357.17" cy="310.80" r="3.25" fill="#878787" stroke="none" stroke-width="0.6" fill-opacity="0.33"/>
<circle cx="320.03" cy="313.35" r="3.25" fill="#878787" stroke="none" stroke-width="0.6" fill-opacity="0.33"/>
<circle cx="356.96" cy="311.87" r="3.25" fill="#878787" stroke="none" stroke-width="0.6" fill-opacity="0.33"/>
<circle cx="345.45" cy="322.88" r="3.25" fill="#878787" stroke="none" stroke-width="0.6" fill-opacity="0.33"/>
<circle cx="358.86" cy="314.29" r="3.25" fill="#878787" stroke="none" stroke-width="0.6" fill-opacity="0.33"/>
<circle cx="350.86" cy="309.08" r="3.25" fill="#878787" stroke="none" stroke-width="0.6" fill-opacity="0.33"/>
<circle cx="334.65" cy="324.37" r="3.25" fill="#878787" stroke="none" stroke-width="0.6" fill-opacity="0.33"/>
<circle cx="344.58" cy="314.61" r="3.25" fill="#878787" stroke="none" stroke-width="0.6" fill-opacity="0.33"/>
<circle cx="327.62" cy="315.97" r="3.25" fill="#878787" stroke="none" stroke-width="0.6" fill-opacity="0.33"/>
<circle cx="362.72" cy="323.22" r="3.25" fill="#878787" stroke="none" stroke-width="0.6" fill-opacity="0.33"/>
<circle cx="347.13" cy="317.62" r="3.25" fill="#878787" stroke="none" stroke-width="0.6" fill-opacity="0.33"/>
<circle cx="340.34" cy="323.45" r="3.25" fill="#878787" stroke="none" stroke-width="0.6" fill-opacity="0.33"/>
<circle cx="330.23" cy="315.94" r="3.25" fill="#878787" stroke="none" stroke-width="0.6" fill-opacity="0.33"/>
<circle cx="356.00" cy="320.96" r="3.25" fill="#878787" stroke="none" stroke-width="0.6" fill-opacity="0.33"/>
<circle cx="322.21" cy="314.31" r="3.25" fill="#878787" stroke="none" stroke-width="0.6" fill-opacity="0.33"/>
<circle cx="355.06" cy="323.23" r="3.25" fill="#878787" stroke="none" stroke-width="0.6" fill-opacity="0.33"/>
<circle cx="345.82" cy="310.23" r="3.25" fill="#878787" stroke="none" stroke-width="0.6" fill-opacity="0.33"/>
<circle cx="360.48" cy="320.17" r="3.25" fill="#878787" stroke="none" stroke-width="0.6" fill-opacity="0.33"/>
<circle cx="340.88" cy="319.19" r="3.25" fill="#878787" stroke="none" stroke-width="0.6" fill-opacity="0.33"/>
<circle cx="327.08" cy="323.57" r="3.25" fill="#878787" stroke="none" stroke-width="0.6" fill-opacity="0.33"/>
<circle cx="326.67" cy="317.13" r="3.25" fill="#878787" stroke="none" stroke-width="0.6" fill-opacity="0.33"/>
<circle cx="335.42" cy="319.57" r="3.25" fill="#878787" stroke="none" stroke-width="0.6" fill-opacity="0.33"/>
<circle cx="337.32" cy="320.23" r="3.25" fill="#878787" stroke="none" stroke-width="0.6" fill-opacity="0.33"/>
<circle cx="325.15" cy="324.65" r="3.25" fill="#878787" stroke="none" stroke-width="0.6" fill-opacity="0.33"/>
<circle cx="365.86" cy="321.92" r="3.25" fill="#878787" stroke="none" stroke-width="0.6" fill-opacity="0.33"/>
<circle cx="323.09" cy="318.46" r="3.25" fill="#878787" stroke="none" stroke-width="0.6" fill-opacity="0.33"/>
<circle cx="355.79" cy="323.85" r="3.25" fill="#878787" stroke="none" stroke-width="0.6" fill-opacity="0.33"/>
<circle cx="346.67" cy="322.21" r="3.25" fill="#878787" stroke="none" stroke-width="0.6" fill-opacity="0.33"/>
<circle cx="342.93" cy="324.82" r="3.25" fill="#878787" stroke="none" stroke-width="0.6" fill-opacity="0.33"/>
<circle cx="359.57" cy="320.64" r="3.25" fill="#878787" stroke="none" stroke-width="0.6" fill-opacity="0.33"/>
<circle cx="345.22" cy="322.99" r="3.25" fill="#878787" stroke="none" stroke-width="0.6" fill-opacity="0.33"/>
<circle cx="297.11" cy="313.98" r="3.25" fill="#878787" stroke="none" stroke-width="0.6" fill-opacity="0.33"/>
<circle cx="349.31" cy="305.40" r="3.25" fill="#878787" stroke="none" stroke-width="0.6" fill-opacity="0.33"/>
<circle cx="133.25" cy="318.88" r="3.25" fill="#878787" stroke="none" stroke-width="0.6" fill-opacity="0.33"/>
<circle cx="116.71" cy="317.36" r="3.25" fill="#878787" stroke="none" stroke-width="0.6" fill-opacity="0.33"/>
<circle cx="80.10" cy="318.75" r="3.25" fill="#878787" stroke="none" stroke-width="0.6" fill-opacity="0.33"/>
<circle cx="337.89" cy="318.62" r="3.25" fill="#878787" stroke="none" stroke-width="0.6" fill-opacity="0.33"/>
<circle cx="240.60" cy="314.44" r="3.25" fill="#878787" stroke="none" stroke-width="0.6" fill-opacity="0.33"/>
<circle cx="134.24" cy="311.35" r="3.25" fill="#878787" stroke="none" stroke-width="0.6" fill-opacity="0.33"/>
<circle cx="262.95" cy="314.51" r="3.25" fill="#878787" stroke="none" stroke-width="0.6" fill-opacity="0.33"/>
<circle cx="193.88" cy="317.60" r="3.25" fill="#878787" stroke="none" stroke-width="0.6" fill-opacity="0.33"/>
<circle cx="123.18" cy="318.88" r="3.25" fill="#878787" stroke="none" stroke-width="0.6" fill-opacity="0.33"/>
<circle cx="133.83" cy="315.13" r="3.25" fill="#878787" stroke="none" stroke-width="0.6" fill-opacity="0.33"/>
<circle cx="315.21" cy="318.79" r="3.25" fill="#878787" stroke="none" stroke-width="0.6" fill-opacity="0.33"/>
<circle cx="299.35" cy="307.50" r="3.25" fill="#878787" stroke="none" stroke-width="0.6" fill-opacity="0.33"/>
<circle cx="71.40" cy="317.76" r="3.25" fill="#878787" stroke="none" stroke-width="0.6" fill-opacity="0.33"/>
<circle cx="265.19" cy="315.88" r="3.25" fill="#878787" stroke="none" stroke-width="0.6" fill-opacity="0.33"/>
<circle cx="238.54" cy="305.78" r="3.25" fill="#878787" stroke="none" stroke-width="0.6" fill-opacity="0.33"/>
<circle cx="86.89" cy="315.53" r="3.25" fill="#878787" stroke="none" stroke-width="0.6" fill-opacity="0.33"/>
<circle cx="134.19" cy="317.99" r="3.25" fill="#878787" stroke="none" stroke-width="0.6" fill-opacity="0.33"/>
<circle cx="204.17" cy="317.50" r="3.25" fill="#878787" stroke="none" stroke-width="0.6" fill-opacity="0.33"/>
<circle cx="128.40" cy="317.78" r="3.25" fill="#878787" stroke="none" stroke-width="0.6" fill-opacity="0.33"/>
<circle cx="265.42" cy="319.13" r="3.25" fill="#878787" stroke="none" stroke-width="0.6" fill-opacity="0.33"/>
<circle cx="277.77" cy="317.19" r="3.25" fill="#878787" stroke="none" stroke-width="0.6" fill-opacity="0.33"/>
<circle cx="97.61" cy="313.62" r="3.25" fill="#878787" stroke="none" stroke-width="0.6" fill-opacity="0.33"/>
<circle cx="316.78" cy="309.85" r="3.25" fill="#878787" stroke="none" stroke-width="0.6" fill-opacity="0.33"/>
<circle cx="195.13" cy="315.31" r="3.25" fill="#878787" stroke="none" stroke-width="0.6" fill-opacity="0.33"/>
<circle cx="310.79" cy="313.08" r="3.25" fill="#878787" stroke="none" stroke-width="0.6" fill-opacity="0.33"/>
<line x1="38.00" y1="156.50" x2="38.00" y2="356.80" stroke="#333" stroke-width="1.05" />
<line x1="37.50" y1="356.30" x2="382.00" y2="356.30" stroke="#333" stroke-width="1.05" />
<line x1="35.00" y1="356.30" x2="38.00" y2="356.30" stroke="#231f20" stroke-width="1" />
<text x="33.50" y="360.20" font-size="11" text-anchor="end" fill="#231f20" >0</text>
<line x1="35.00" y1="327.80" x2="38.00" y2="327.80" stroke="#231f20" stroke-width="1" />
<text x="33.50" y="331.70" font-size="11" text-anchor="end" fill="#231f20" >2</text>
<line x1="35.00" y1="299.30" x2="38.00" y2="299.30" stroke="#231f20" stroke-width="1" />
<text x="33.50" y="303.20" font-size="11" text-anchor="end" fill="#231f20" >4</text>
<line x1="35.00" y1="270.80" x2="38.00" y2="270.80" stroke="#231f20" stroke-width="1" />
<text x="33.50" y="274.70" font-size="11" text-anchor="end" fill="#231f20" >6</text>
<line x1="35.00" y1="242.30" x2="38.00" y2="242.30" stroke="#231f20" stroke-width="1" />
<text x="33.50" y="246.20" font-size="11" text-anchor="end" fill="#231f20" >8</text>
<line x1="35.00" y1="213.80" x2="38.00" y2="213.80" stroke="#231f20" stroke-width="1" />
<text x="33.50" y="217.70" font-size="11" text-anchor="end" fill="#231f20" >10</text>
<line x1="35.00" y1="185.30" x2="38.00" y2="185.30" stroke="#231f20" stroke-width="1" />
<text x="33.50" y="189.20" font-size="11" text-anchor="end" fill="#231f20" >12</text>
<line x1="35.00" y1="156.80" x2="38.00" y2="156.80" stroke="#231f20" stroke-width="1" />
<text x="33.50" y="160.70" font-size="11" text-anchor="end" fill="#231f20" >14</text>
<text transform="translate(12.9,312.8) rotate(-90)" font-size="10.5" text-anchor="start" fill="#231f20">Gene enrichment (−log<tspan font-size="6" dy="2">10</tspan><tspan dy="-2">)</tspan></text>
<circle cx="136.00" cy="168.00" r="3.10" fill="#2233ee" stroke="#231f20" stroke-width="0.7" />
<circle cx="103.00" cy="207.30" r="3.10" fill="#2233ee" stroke="#231f20" stroke-width="0.7" />
<circle cx="136.00" cy="235.50" r="3.10" fill="#2233ee" stroke="#231f20" stroke-width="0.7" />
<circle cx="70.30" cy="254.50" r="3.10" fill="#2233ee" stroke="#231f20" stroke-width="0.7" />
<circle cx="94.80" cy="257.00" r="3.10" fill="#2233ee" stroke="#231f20" stroke-width="0.7" />
<circle cx="119.70" cy="263.10" r="3.10" fill="#ee2222" stroke="#231f20" stroke-width="0.7" />
<circle cx="54.00" cy="277.70" r="3.10" fill="#2233ee" stroke="#231f20" stroke-width="0.7" />
<circle cx="78.90" cy="288.70" r="3.10" fill="#2233ee" stroke="#231f20" stroke-width="0.7" />
<circle cx="103.10" cy="287.70" r="3.10" fill="#ee2222" stroke="#231f20" stroke-width="0.7" />
<circle cx="136.00" cy="275.60" r="3.10" fill="#ee2222" stroke="#231f20" stroke-width="0.7" />
<circle cx="151.80" cy="283.80" r="3.10" fill="#1f8f58" stroke="#231f20" stroke-width="0.7" />
<circle cx="119.70" cy="304.80" r="3.10" fill="#8e1f9c" stroke="#231f20" stroke-width="0.7" />
<circle cx="151.80" cy="304.80" r="3.10" fill="#8e1f9c" stroke="#231f20" stroke-width="0.7" />
<circle cx="86.80" cy="312.70" r="3.10" fill="#8e1f9c" stroke="#231f20" stroke-width="0.7" />
<circle cx="136.00" cy="316.20" r="3.10" fill="#8e1f9c" stroke="#231f20" stroke-width="0.7" />
<circle cx="168.60" cy="293.30" r="3.10" fill="#1f8f58" stroke="#231f20" stroke-width="0.7" />
<circle cx="184.70" cy="282.80" r="3.10" fill="#1f8f58" stroke="#231f20" stroke-width="0.7" />
<circle cx="217.10" cy="281.20" r="3.10" fill="#f5962a" stroke="#231f20" stroke-width="0.7" />
<circle cx="233.70" cy="288.90" r="3.10" fill="#222222" stroke="#231f20" stroke-width="0.7" />
<circle cx="201.00" cy="295.00" r="3.10" fill="#f5962a" stroke="#231f20" stroke-width="0.7" />
<circle cx="184.70" cy="302.90" r="3.10" fill="#222222" stroke="#231f20" stroke-width="0.7" />
<circle cx="225.80" cy="302.20" r="3.10" fill="#222222" stroke="#231f20" stroke-width="0.7" />
<circle cx="201.00" cy="317.40" r="3.10" fill="#f5962a" stroke="#231f20" stroke-width="0.7" />
<circle cx="233.70" cy="318.00" r="3.10" fill="#222222" stroke="#231f20" stroke-width="0.7" />
<circle cx="258.20" cy="294.60" r="3.10" fill="#222222" stroke="#231f20" stroke-width="0.7" />
<circle cx="290.80" cy="293.50" r="3.10" fill="#222222" stroke="#231f20" stroke-width="0.7" />
<circle cx="311.20" cy="294.40" r="3.10" fill="#222222" stroke="#231f20" stroke-width="0.7" />
<circle cx="331.50" cy="292.00" r="3.10" fill="#222222" stroke="#231f20" stroke-width="0.7" />
<circle cx="356.00" cy="298.30" r="3.10" fill="#222222" stroke="#231f20" stroke-width="0.7" />
<circle cx="266.30" cy="309.70" r="3.10" fill="#222222" stroke="#231f20" stroke-width="0.7" />
<circle cx="298.70" cy="311.50" r="3.10" fill="#222222" stroke="#231f20" stroke-width="0.7" />
<text x="136.00" y="164.50" font-size="7.1" text-anchor="middle" fill="#111" stroke="#111" stroke-width="0.12">EMC6</text>
<text x="106.00" y="203.80" font-size="7.1" text-anchor="middle" fill="#111" stroke="#111" stroke-width="0.12">MMGT1</text>
<text x="136.00" y="232.00" font-size="7.1" text-anchor="middle" fill="#111" stroke="#111" stroke-width="0.12">EMC2</text>
<text x="70.30" y="251.00" font-size="7.1" text-anchor="middle" fill="#111" stroke="#111" stroke-width="0.12">EMC3</text>
<text x="95.00" y="253.50" font-size="7.1" text-anchor="middle" fill="#111" stroke="#111" stroke-width="0.12">EMC4</text>
<text x="121.00" y="259.60" font-size="7.1" text-anchor="middle" fill="#111" stroke="#111" stroke-width="0.12">STT3B</text>
<text x="54.00" y="274.20" font-size="7.1" text-anchor="middle" fill="#111" stroke="#111" stroke-width="0.12">EMC1</text>
<text x="78.80" y="285.20" font-size="7.1" text-anchor="middle" fill="#111" stroke="#111" stroke-width="0.12">EMC7</text>
<text x="105.50" y="284.20" font-size="7.1" text-anchor="middle" fill="#111" stroke="#111" stroke-width="0.12">MAGT1</text>
<text x="137.00" y="272.10" font-size="7.1" text-anchor="middle" fill="#111" stroke="#111" stroke-width="0.12">STT3A</text>
<text x="155.30" y="280.30" font-size="7.1" text-anchor="middle" fill="#111" stroke="#111" stroke-width="0.12">UBE2J1</text>
<text x="121.40" y="301.30" font-size="7.1" text-anchor="middle" fill="#111" stroke="#111" stroke-width="0.12">SENP1</text>
<text x="151.50" y="301.30" font-size="7.1" text-anchor="middle" fill="#111" stroke="#111" stroke-width="0.12">UBA2</text>
<text x="86.50" y="309.20" font-size="7.1" text-anchor="middle" fill="#111" stroke="#111" stroke-width="0.12">SAE1</text>
<text x="136.00" y="312.70" font-size="7.1" text-anchor="middle" fill="#111" stroke="#111" stroke-width="0.12">PIAS4</text>
<text x="169.00" y="289.80" font-size="7.1" text-anchor="middle" fill="#111" stroke="#111" stroke-width="0.12">SEL1L</text>
<text x="189.00" y="279.30" font-size="7.1" text-anchor="middle" fill="#111" stroke="#111" stroke-width="0.12">UBE2G2</text>
<text x="217.00" y="277.70" font-size="7.1" text-anchor="middle" fill="#111" stroke="#111" stroke-width="0.12">SSR3</text>
<text x="238.30" y="285.40" font-size="7.1" text-anchor="middle" fill="#111" stroke="#111" stroke-width="0.12">ZFP36L2</text>
<text x="200.20" y="291.50" font-size="7.1" text-anchor="middle" fill="#111" stroke="#111" stroke-width="0.12">SSR1</text>
<text x="185.50" y="299.40" font-size="7.1" text-anchor="middle" fill="#111" stroke="#111" stroke-width="0.12">DOHH</text>
<text x="227.80" y="298.70" font-size="7.1" text-anchor="middle" fill="#111" stroke="#111" stroke-width="0.12">RRBP1</text>
<text x="200.50" y="313.90" font-size="7.1" text-anchor="middle" fill="#111" stroke="#111" stroke-width="0.12">SSR2</text>
<text x="236.30" y="314.50" font-size="7.1" text-anchor="middle" fill="#111" stroke="#111" stroke-width="0.12">PRKRA</text>
<text x="264.40" y="291.10" font-size="7.1" text-anchor="middle" fill="#111" stroke="#111" stroke-width="0.12">ASCC3</text>
<text x="290.40" y="290.00" font-size="7.1" text-anchor="middle" fill="#111" stroke="#111" stroke-width="0.12">TXN2</text>
<text x="310.10" y="290.90" font-size="7.1" text-anchor="middle" fill="#111" stroke="#111" stroke-width="0.12">ATL2</text>
<text x="334.50" y="288.50" font-size="7.1" text-anchor="middle" fill="#111" stroke="#111" stroke-width="0.12">MYO19</text>
<text x="362.60" y="294.80" font-size="7.1" text-anchor="middle" fill="#111" stroke="#111" stroke-width="0.12">ZDHHC23</text>
<text x="268.50" y="306.20" font-size="7.1" text-anchor="middle" fill="#111" stroke="#111" stroke-width="0.12">PTBP2</text>
<text x="299.20" y="308.00" font-size="7.1" text-anchor="middle" fill="#111" stroke="#111" stroke-width="0.12">EIF2A</text>
<circle cx="193.70" cy="165.50" r="3.30" fill="#2233ee" stroke="#231f20" stroke-width="0.7" />
<text x="200.50" y="169.30" font-size="11.15" text-anchor="start" fill="#231f20" >ER membrane protein complex</text>
<circle cx="193.70" cy="178.80" r="3.30" fill="#ee2222" stroke="#231f20" stroke-width="0.7" />
<text x="200.50" y="182.60" font-size="11.15" text-anchor="start" fill="#231f20" >Oligosaccharyltransferase complex</text>
<circle cx="193.70" cy="192.10" r="3.30" fill="#1f8f58" stroke="#231f20" stroke-width="0.7" />
<text x="200.50" y="195.90" font-size="11.15" text-anchor="start" fill="#231f20" >ERAD pathway</text>
<circle cx="193.70" cy="205.40" r="3.30" fill="#f5962a" stroke="#231f20" stroke-width="0.7" />
<text x="200.50" y="209.20" font-size="11.15" text-anchor="start" fill="#231f20" >ER translocation</text>
<circle cx="193.70" cy="218.70" r="3.30" fill="#8e1f9c" stroke="#231f20" stroke-width="0.7" />
<text x="200.50" y="222.50" font-size="11.15" text-anchor="start" fill="#231f20" >SUMOlyation</text>
<circle cx="193.70" cy="232.00" r="3.30" fill="#222222" stroke="#231f20" stroke-width="0.7" />
<text x="200.50" y="235.80" font-size="11.15" text-anchor="start" fill="#231f20" >Other genes</text>
<line x1="444.20" y1="154.50" x2="444.20" y2="344.70" stroke="#231f20" stroke-width="1.1" />
<line x1="443.60" y1="344.10" x2="640.60" y2="344.10" stroke="#231f20" stroke-width="1.1" />
<line x1="441.20" y1="336.40" x2="444.20" y2="336.40" stroke="#231f20" stroke-width="1" />
<line x1="442.00" y1="316.51" x2="444.20" y2="316.51" stroke="#231f20" stroke-width="1" />
<line x1="441.20" y1="296.62" x2="444.20" y2="296.62" stroke="#231f20" stroke-width="1" />
<line x1="442.00" y1="276.74" x2="444.20" y2="276.74" stroke="#231f20" stroke-width="1" />
<line x1="441.20" y1="256.85" x2="444.20" y2="256.85" stroke="#231f20" stroke-width="1" />
<line x1="442.00" y1="236.96" x2="444.20" y2="236.96" stroke="#231f20" stroke-width="1" />
<line x1="441.20" y1="217.07" x2="444.20" y2="217.07" stroke="#231f20" stroke-width="1" />
<line x1="442.00" y1="197.19" x2="444.20" y2="197.19" stroke="#231f20" stroke-width="1" />
<line x1="441.20" y1="177.30" x2="444.20" y2="177.30" stroke="#231f20" stroke-width="1" />
<line x1="442.00" y1="157.41" x2="444.20" y2="157.41" stroke="#231f20" stroke-width="1" />
<text x="439.20" y="340.30" font-size="11" text-anchor="end" fill="#231f20" >0</text>
<text x="439.20" y="300.52" font-size="11" text-anchor="end" fill="#231f20" >5</text>
<text x="439.20" y="260.75" font-size="11" text-anchor="end" fill="#231f20" >10</text>
<text x="439.20" y="220.97" font-size="11" text-anchor="end" fill="#231f20" >15</text>
<text x="439.20" y="181.20" font-size="11" text-anchor="end" fill="#231f20" >20</text>
<line x1="457.50" y1="344.10" x2="457.50" y2="347.10" stroke="#231f20" stroke-width="1" />
<text x="457.50" y="358.70" font-size="11" text-anchor="middle" fill="#231f20" >0</text>
<line x1="483.64" y1="344.10" x2="483.64" y2="347.10" stroke="#231f20" stroke-width="1" />
<text x="483.64" y="358.70" font-size="11" text-anchor="middle" fill="#231f20" >2</text>
<line x1="509.78" y1="344.10" x2="509.78" y2="347.10" stroke="#231f20" stroke-width="1" />
<text x="509.78" y="358.70" font-size="11" text-anchor="middle" fill="#231f20" >4</text>
<line x1="535.92" y1="344.10" x2="535.92" y2="347.10" stroke="#231f20" stroke-width="1" />
<text x="535.92" y="358.70" font-size="11" text-anchor="middle" fill="#231f20" >6</text>
<line x1="562.06" y1="344.10" x2="562.06" y2="347.10" stroke="#231f20" stroke-width="1" />
<text x="562.06" y="358.70" font-size="11" text-anchor="middle" fill="#231f20" >8</text>
<line x1="588.20" y1="344.10" x2="588.20" y2="347.10" stroke="#231f20" stroke-width="1" />
<text x="588.20" y="358.70" font-size="11" text-anchor="middle" fill="#231f20" >10</text>
<line x1="614.34" y1="344.10" x2="614.34" y2="347.10" stroke="#231f20" stroke-width="1" />
<text x="614.34" y="358.70" font-size="11" text-anchor="middle" fill="#231f20" >12</text>
<line x1="640.48" y1="344.10" x2="640.48" y2="347.10" stroke="#231f20" stroke-width="1" />
<text x="640.48" y="358.70" font-size="11" text-anchor="middle" fill="#231f20" >14</text>
<text x="543.50" y="372.00" font-size="11.1" text-anchor="middle" fill="#231f20" >Enrichment score in DENV-2 replicon screen</text>
<text transform="translate(419.5,254.2) rotate(-90)" font-size="11" text-anchor="middle" fill="#231f20">Enrichment score in DENV-2 virus screen</text>
<line x1="509.5" y1="154" x2="509.5" y2="344.1" stroke="#666" stroke-width="0.6" stroke-dasharray="1,1"/>
<line x1="444.2" y1="304.4" x2="638.5" y2="304.4" stroke="#666" stroke-width="0.6" stroke-dasharray="1,1"/>
<path d="M454.2,312 L457,310.6 L465,310.2 L471,311 L476,313 L480,315.5 L484,318.5 L487,322 L489.5,325.3 L493,326.8 L500,327.2 L506,327.6 L509.6,330 L509.6,335.5 L507,338.4 L457,338.8 L454.2,336.5Z" fill="#0f2233" stroke="#0f2233" stroke-width="1" stroke-linejoin="round"/>
<circle cx="467.85" cy="310.53" r="2.80" fill="#0f2233" stroke="none" stroke-width="0.6" fill-opacity="0.35"/>
<circle cx="474.98" cy="312.81" r="2.80" fill="#0f2233" stroke="none" stroke-width="0.6" fill-opacity="0.35"/>
<circle cx="488.79" cy="322.16" r="2.80" fill="#0f2233" stroke="none" stroke-width="0.6" fill-opacity="0.35"/>
<circle cx="455.71" cy="312.51" r="2.80" fill="#0f2233" stroke="none" stroke-width="0.6" fill-opacity="0.35"/>
<circle cx="469.01" cy="309.29" r="2.80" fill="#0f2233" stroke="none" stroke-width="0.6" fill-opacity="0.35"/>
<circle cx="508.76" cy="329.06" r="2.80" fill="#0f2233" stroke="none" stroke-width="0.6" fill-opacity="0.35"/>
<circle cx="500.17" cy="326.85" r="2.80" fill="#0f2233" stroke="none" stroke-width="0.6" fill-opacity="0.35"/>
<circle cx="489.51" cy="323.48" r="2.80" fill="#0f2233" stroke="none" stroke-width="0.6" fill-opacity="0.35"/>
<circle cx="489.28" cy="326.42" r="2.80" fill="#0f2233" stroke="none" stroke-width="0.6" fill-opacity="0.35"/>
<circle cx="483.25" cy="318.77" r="2.80" fill="#0f2233" stroke="none" stroke-width="0.6" fill-opacity="0.35"/>
<circle cx="491.26" cy="323.84" r="2.80" fill="#0f2233" stroke="none" stroke-width="0.6" fill-opacity="0.35"/>
<circle cx="495.94" cy="327.13" r="2.80" fill="#0f2233" stroke="none" stroke-width="0.6" fill-opacity="0.35"/>
<circle cx="471.27" cy="308.75" r="2.80" fill="#0f2233" stroke="none" stroke-width="0.6" fill-opacity="0.35"/>
<circle cx="501.74" cy="326.94" r="2.80" fill="#0f2233" stroke="none" stroke-width="0.6" fill-opacity="0.35"/>
<circle cx="493.82" cy="328.30" r="2.80" fill="#0f2233" stroke="none" stroke-width="0.6" fill-opacity="0.35"/>
<circle cx="493.56" cy="328.48" r="2.80" fill="#0f2233" stroke="none" stroke-width="0.6" fill-opacity="0.35"/>
<circle cx="476.33" cy="314.31" r="2.80" fill="#0f2233" stroke="none" stroke-width="0.6" fill-opacity="0.35"/>
<circle cx="479.01" cy="316.59" r="2.80" fill="#0f2233" stroke="none" stroke-width="0.6" fill-opacity="0.35"/>
<circle cx="502.46" cy="325.30" r="2.80" fill="#0f2233" stroke="none" stroke-width="0.6" fill-opacity="0.35"/>
<circle cx="462.34" cy="308.81" r="2.80" fill="#0f2233" stroke="none" stroke-width="0.6" fill-opacity="0.35"/>
<circle cx="507.14" cy="327.82" r="2.80" fill="#0f2233" stroke="none" stroke-width="0.6" fill-opacity="0.35"/>
<circle cx="488.84" cy="323.28" r="2.80" fill="#0f2233" stroke="none" stroke-width="0.6" fill-opacity="0.35"/>
<circle cx="482.39" cy="316.53" r="2.80" fill="#0f2233" stroke="none" stroke-width="0.6" fill-opacity="0.35"/>
<circle cx="473.95" cy="312.31" r="2.80" fill="#0f2233" stroke="none" stroke-width="0.6" fill-opacity="0.35"/>
<circle cx="486.55" cy="323.04" r="2.80" fill="#0f2233" stroke="none" stroke-width="0.6" fill-opacity="0.35"/>
<circle cx="491.83" cy="327.98" r="2.80" fill="#0f2233" stroke="none" stroke-width="0.6" fill-opacity="0.35"/>
<circle cx="501.25" cy="329.24" r="2.80" fill="#0f2233" stroke="none" stroke-width="0.6" fill-opacity="0.35"/>
<circle cx="491.25" cy="324.28" r="2.80" fill="#0f2233" stroke="none" stroke-width="0.6" fill-opacity="0.35"/>
<circle cx="501.47" cy="329.14" r="2.80" fill="#0f2233" stroke="none" stroke-width="0.6" fill-opacity="0.35"/>
<circle cx="503.85" cy="327.52" r="2.80" fill="#0f2233" stroke="none" stroke-width="0.6" fill-opacity="0.35"/>
<circle cx="493.55" cy="325.28" r="2.80" fill="#0f2233" stroke="none" stroke-width="0.6" fill-opacity="0.35"/>
<circle cx="499.91" cy="327.28" r="2.80" fill="#0f2233" stroke="none" stroke-width="0.6" fill-opacity="0.35"/>
<circle cx="470.39" cy="308.70" r="2.80" fill="#0f2233" stroke="none" stroke-width="0.6" fill-opacity="0.35"/>
<circle cx="501.11" cy="329.23" r="2.80" fill="#0f2233" stroke="none" stroke-width="0.6" fill-opacity="0.35"/>
<circle cx="459.78" cy="311.56" r="2.80" fill="#0f2233" stroke="none" stroke-width="0.6" fill-opacity="0.35"/>
<circle cx="477.16" cy="311.91" r="2.80" fill="#0f2233" stroke="none" stroke-width="0.6" fill-opacity="0.35"/>
<circle cx="470.87" cy="311.94" r="2.80" fill="#0f2233" stroke="none" stroke-width="0.6" fill-opacity="0.35"/>
<circle cx="502.13" cy="325.04" r="2.80" fill="#0f2233" stroke="none" stroke-width="0.6" fill-opacity="0.35"/>
<circle cx="488.18" cy="321.27" r="2.80" fill="#0f2233" stroke="none" stroke-width="0.6" fill-opacity="0.35"/>
<circle cx="493.80" cy="325.83" r="2.80" fill="#0f2233" stroke="none" stroke-width="0.6" fill-opacity="0.35"/>
<circle cx="502.57" cy="329.28" r="2.80" fill="#0f2233" stroke="none" stroke-width="0.6" fill-opacity="0.35"/>
<circle cx="482.29" cy="319.21" r="2.80" fill="#0f2233" stroke="none" stroke-width="0.6" fill-opacity="0.35"/>
<circle cx="471.72" cy="309.14" r="2.80" fill="#0f2233" stroke="none" stroke-width="0.6" fill-opacity="0.35"/>
<circle cx="487.39" cy="320.15" r="2.80" fill="#0f2233" stroke="none" stroke-width="0.6" fill-opacity="0.35"/>
<circle cx="465.66" cy="309.62" r="2.80" fill="#0f2233" stroke="none" stroke-width="0.6" fill-opacity="0.35"/>
<circle cx="487.97" cy="321.48" r="2.80" fill="#0f2233" stroke="none" stroke-width="0.6" fill-opacity="0.35"/>
<circle cx="457.29" cy="311.99" r="2.80" fill="#0f2233" stroke="none" stroke-width="0.6" fill-opacity="0.35"/>
<circle cx="471.95" cy="313.19" r="2.80" fill="#0f2233" stroke="none" stroke-width="0.6" fill-opacity="0.35"/>
<circle cx="503.42" cy="326.63" r="2.80" fill="#0f2233" stroke="none" stroke-width="0.6" fill-opacity="0.35"/>
<circle cx="479.86" cy="315.25" r="2.80" fill="#0f2233" stroke="none" stroke-width="0.6" fill-opacity="0.35"/>
<circle cx="489.77" cy="325.60" r="2.80" fill="#0f2233" stroke="none" stroke-width="0.6" fill-opacity="0.35"/>
<circle cx="485.20" cy="320.19" r="2.80" fill="#0f2233" stroke="none" stroke-width="0.6" fill-opacity="0.35"/>
<circle cx="505.79" cy="327.37" r="2.80" fill="#0f2233" stroke="none" stroke-width="0.6" fill-opacity="0.35"/>
<circle cx="478.28" cy="315.17" r="2.80" fill="#0f2233" stroke="none" stroke-width="0.6" fill-opacity="0.35"/>
<circle cx="467.83" cy="309.43" r="2.80" fill="#0f2233" stroke="none" stroke-width="0.6" fill-opacity="0.35"/>
<circle cx="507.80" cy="328.65" r="2.80" fill="#0f2233" stroke="none" stroke-width="0.6" fill-opacity="0.35"/>
<circle cx="484.62" cy="316.77" r="2.80" fill="#0f2233" stroke="none" stroke-width="0.6" fill-opacity="0.35"/>
<circle cx="477.42" cy="314.00" r="2.80" fill="#0f2233" stroke="none" stroke-width="0.6" fill-opacity="0.35"/>
<circle cx="456.08" cy="311.33" r="2.80" fill="#0f2233" stroke="none" stroke-width="0.6" fill-opacity="0.35"/>
<circle cx="489.14" cy="322.59" r="2.80" fill="#0f2233" stroke="none" stroke-width="0.6" fill-opacity="0.35"/>
<circle cx="488.88" cy="324.08" r="2.80" fill="#0f2233" stroke="none" stroke-width="0.6" fill-opacity="0.35"/>
<circle cx="491.68" cy="325.32" r="2.80" fill="#0f2233" stroke="none" stroke-width="0.6" fill-opacity="0.35"/>
<circle cx="493.18" cy="327.63" r="2.80" fill="#0f2233" stroke="none" stroke-width="0.6" fill-opacity="0.35"/>
<circle cx="456.20" cy="308.77" r="2.80" fill="#0f2233" stroke="none" stroke-width="0.6" fill-opacity="0.35"/>
<circle cx="491.51" cy="327.99" r="2.80" fill="#0f2233" stroke="none" stroke-width="0.6" fill-opacity="0.35"/>
<circle cx="468.56" cy="310.23" r="2.80" fill="#0f2233" stroke="none" stroke-width="0.6" fill-opacity="0.35"/>
<circle cx="487.00" cy="320.95" r="2.80" fill="#0f2233" stroke="none" stroke-width="0.6" fill-opacity="0.35"/>
<circle cx="474.65" cy="311.37" r="2.80" fill="#0f2233" stroke="none" stroke-width="0.6" fill-opacity="0.35"/>
<circle cx="474.93" cy="312.75" r="2.80" fill="#0f2233" stroke="none" stroke-width="0.6" fill-opacity="0.35"/>
<circle cx="471.22" cy="310.29" r="2.80" fill="#0f2233" stroke="none" stroke-width="0.6" fill-opacity="0.35"/>
<circle cx="517.27" cy="328.27" r="2.80" fill="#0f2233" stroke="none" stroke-width="0.6" fill-opacity="0.3"/>
<circle cx="514.83" cy="335.35" r="2.80" fill="#0f2233" stroke="none" stroke-width="0.6" fill-opacity="0.3"/>
<circle cx="511.72" cy="330.23" r="2.80" fill="#0f2233" stroke="none" stroke-width="0.6" fill-opacity="0.3"/>
<circle cx="517.65" cy="330.39" r="2.80" fill="#0f2233" stroke="none" stroke-width="0.6" fill-opacity="0.3"/>
<circle cx="510.25" cy="332.35" r="2.80" fill="#0f2233" stroke="none" stroke-width="0.6" fill-opacity="0.3"/>
<circle cx="516.38" cy="329.02" r="2.80" fill="#0f2233" stroke="none" stroke-width="0.6" fill-opacity="0.3"/>
<circle cx="511.86" cy="331.34" r="2.80" fill="#0f2233" stroke="none" stroke-width="0.6" fill-opacity="0.3"/>
<circle cx="518.00" cy="332.38" r="2.80" fill="#0f2233" stroke="none" stroke-width="0.6" fill-opacity="0.3"/>
<circle cx="518.27" cy="329.69" r="2.80" fill="#0f2233" stroke="none" stroke-width="0.6" fill-opacity="0.3"/>
<circle cx="512.04" cy="334.50" r="2.80" fill="#0f2233" stroke="none" stroke-width="0.6" fill-opacity="0.3"/>
<circle cx="518.62" cy="332.51" r="2.80" fill="#0f2233" stroke="none" stroke-width="0.6" fill-opacity="0.3"/>
<circle cx="510.70" cy="329.21" r="2.80" fill="#0f2233" stroke="none" stroke-width="0.6" fill-opacity="0.3"/>
<circle cx="514.36" cy="329.91" r="2.80" fill="#0f2233" stroke="none" stroke-width="0.6" fill-opacity="0.3"/>
<circle cx="517.68" cy="336.38" r="2.80" fill="#0f2233" stroke="none" stroke-width="0.6" fill-opacity="0.3"/>
<circle cx="519.70" cy="165.30" r="2.90" fill="#7d8a97" stroke="none" stroke-width="0.6" fill-opacity="0.8"/>
<circle cx="526.40" cy="212.30" r="2.90" fill="#7d8a97" stroke="none" stroke-width="0.6" fill-opacity="0.8"/>
<circle cx="531.40" cy="223.60" r="2.90" fill="#7d8a97" stroke="none" stroke-width="0.6" fill-opacity="0.8"/>
<circle cx="481.90" cy="221.10" r="2.90" fill="#7d8a97" stroke="none" stroke-width="0.6" fill-opacity="0.8"/>
<circle cx="542.20" cy="248.30" r="2.90" fill="#7d8a97" stroke="none" stroke-width="0.6" fill-opacity="0.8"/>
<circle cx="492.50" cy="261.40" r="2.90" fill="#7d8a97" stroke="none" stroke-width="0.6" fill-opacity="0.8"/>
<circle cx="513.20" cy="262.20" r="2.90" fill="#7d8a97" stroke="none" stroke-width="0.6" fill-opacity="0.8"/>
<circle cx="498.90" cy="272.40" r="2.90" fill="#7d8a97" stroke="none" stroke-width="0.6" fill-opacity="0.8"/>
<circle cx="593.30" cy="270.50" r="2.90" fill="#7d8a97" stroke="none" stroke-width="0.6" fill-opacity="0.8"/>
<circle cx="630.00" cy="270.50" r="2.90" fill="#7d8a97" stroke="none" stroke-width="0.6" fill-opacity="0.8"/>
<circle cx="550.20" cy="284.90" r="2.90" fill="#7d8a97" stroke="none" stroke-width="0.6" fill-opacity="0.8"/>
<circle cx="567.50" cy="283.40" r="2.90" fill="#7d8a97" stroke="none" stroke-width="0.6" fill-opacity="0.8"/>
<circle cx="547.80" cy="304.00" r="2.90" fill="#7d8a97" stroke="none" stroke-width="0.6" fill-opacity="0.8"/>
<circle cx="528.70" cy="304.70" r="2.90" fill="#7d8a97" stroke="none" stroke-width="0.6" fill-opacity="0.8"/>
<circle cx="457.10" cy="300.90" r="2.90" fill="#7d8a97" stroke="none" stroke-width="0.6" fill-opacity="0.8"/>
<circle cx="458.50" cy="304.30" r="2.90" fill="#3d4f60" stroke="none" stroke-width="0.6" fill-opacity="0.55"/>
<circle cx="502.10" cy="320.40" r="2.90" fill="#3d4f60" stroke="none" stroke-width="0.6" fill-opacity="0.55"/>
<circle cx="513.50" cy="319.90" r="2.90" fill="#3d4f60" stroke="none" stroke-width="0.6" fill-opacity="0.55"/>
<circle cx="515.40" cy="324.60" r="2.90" fill="#3d4f60" stroke="none" stroke-width="0.6" fill-opacity="0.55"/>
<circle cx="523.40" cy="332.20" r="2.90" fill="#3d4f60" stroke="none" stroke-width="0.6" fill-opacity="0.55"/>
<circle cx="494.50" cy="321.80" r="2.90" fill="#3d4f60" stroke="none" stroke-width="0.6" fill-opacity="0.55"/>
<circle cx="475.50" cy="310.40" r="2.90" fill="#3d4f60" stroke="none" stroke-width="0.6" fill-opacity="0.55"/>
<circle cx="513.00" cy="332.00" r="2.90" fill="#3d4f60" stroke="none" stroke-width="0.6" fill-opacity="0.55"/>
<circle cx="517.00" cy="333.50" r="2.90" fill="#3d4f60" stroke="none" stroke-width="0.6" fill-opacity="0.55"/>
<circle cx="506.00" cy="333.00" r="2.90" fill="#3d4f60" stroke="none" stroke-width="0.6" fill-opacity="0.55"/>
<clipPath id="dclip"><rect x="440" y="150" width="199.5" height="200"/></clipPath>
<g clip-path="url(#dclip)">
<text x="522.60" y="162.00" font-size="6.8" text-anchor="middle" fill="#1f3d5c" stroke="#1f3d5c" stroke-width="0.2">MAGT1</text>
<text x="526.40" y="209.00" font-size="6.8" text-anchor="middle" fill="#1f3d5c" stroke="#1f3d5c" stroke-width="0.2">SSR3</text>
<text x="532.80" y="220.30" font-size="6.8" text-anchor="middle" fill="#1f3d5c" stroke="#1f3d5c" stroke-width="0.2">STT3A</text>
<text x="482.30" y="217.80" font-size="6.8" text-anchor="middle" fill="#1f3d5c" stroke="#1f3d5c" stroke-width="0.2">RPN2</text>
<text x="543.70" y="245.00" font-size="6.8" text-anchor="middle" fill="#1f3d5c" stroke="#1f3d5c" stroke-width="0.2">STT3B</text>
<text x="492.60" y="258.10" font-size="6.8" text-anchor="middle" fill="#1f3d5c" stroke="#1f3d5c" stroke-width="0.2">SSR2</text>
<text x="513.20" y="258.90" font-size="6.8" text-anchor="middle" fill="#1f3d5c" stroke="#1f3d5c" stroke-width="0.2">SSR1</text>
<text x="499.80" y="269.10" font-size="6.8" text-anchor="middle" fill="#1f3d5c" stroke="#1f3d5c" stroke-width="0.2">OSTC</text>
<text x="597.00" y="267.20" font-size="6.8" text-anchor="middle" fill="#1f3d5c" stroke="#1f3d5c" stroke-width="0.2">MMGT1</text>
<text x="630.50" y="267.20" font-size="6.8" text-anchor="middle" fill="#1f3d5c" stroke="#1f3d5c" stroke-width="0.2">EMC6</text>
<text x="551.10" y="281.60" font-size="6.8" text-anchor="middle" fill="#1f3d5c" stroke="#1f3d5c" stroke-width="0.2">EMC3</text>
<text x="568.50" y="280.10" font-size="6.8" text-anchor="middle" fill="#1f3d5c" stroke="#1f3d5c" stroke-width="0.2">EMC2</text>
<text x="548.50" y="300.70" font-size="6.8" text-anchor="middle" fill="#1f3d5c" stroke="#1f3d5c" stroke-width="0.2">EMC4</text>
<text x="528.70" y="301.40" font-size="6.8" text-anchor="middle" fill="#1f3d5c" stroke="#1f3d5c" stroke-width="0.2">EMC1</text>
<text x="457.30" y="297.60" font-size="6.8" text-anchor="middle" fill="#1f3d5c" stroke="#1f3d5c" stroke-width="0.2">DAG1</text>
</g>
<line x1="172.75" y1="387.00" x2="172.75" y2="732.90" stroke="#ebebeb" stroke-width="0.9" />
<line x1="195.65" y1="387.00" x2="195.65" y2="732.90" stroke="#ebebeb" stroke-width="0.9" />
<line x1="218.55" y1="387.00" x2="218.55" y2="732.90" stroke="#ebebeb" stroke-width="0.9" />
<line x1="241.45" y1="387.00" x2="241.45" y2="732.90" stroke="#ebebeb" stroke-width="0.9" />
<line x1="264.35" y1="387.00" x2="264.35" y2="732.90" stroke="#ebebeb" stroke-width="0.9" />
<line x1="151.20" y1="404.40" x2="268.00" y2="404.40" stroke="#ebebeb" stroke-width="0.9" />
<line x1="151.20" y1="441.60" x2="268.00" y2="441.60" stroke="#ebebeb" stroke-width="0.9" />
<line x1="151.20" y1="483.40" x2="268.00" y2="483.40" stroke="#ebebeb" stroke-width="0.9" />
<line x1="151.20" y1="519.80" x2="268.00" y2="519.80" stroke="#ebebeb" stroke-width="0.9" />
<line x1="151.20" y1="552.40" x2="268.00" y2="552.40" stroke="#ebebeb" stroke-width="0.9" />
<line x1="151.20" y1="584.80" x2="268.00" y2="584.80" stroke="#ebebeb" stroke-width="0.9" />
<line x1="151.20" y1="617.00" x2="268.00" y2="617.00" stroke="#ebebeb" stroke-width="0.9" />
<line x1="151.20" y1="649.30" x2="268.00" y2="649.30" stroke="#ebebeb" stroke-width="0.9" />
<line x1="151.20" y1="681.70" x2="268.00" y2="681.70" stroke="#ebebeb" stroke-width="0.9" />
<line x1="151.20" y1="713.90" x2="268.00" y2="713.90" stroke="#ebebeb" stroke-width="0.9" />
<line x1="161.30" y1="387.00" x2="161.30" y2="732.90" stroke="#d3d3d3" stroke-width="1.3" />
<line x1="184.20" y1="387.00" x2="184.20" y2="732.90" stroke="#d3d3d3" stroke-width="1.3" />
<line x1="207.10" y1="387.00" x2="207.10" y2="732.90" stroke="#d3d3d3" stroke-width="1.3" />
<line x1="230.00" y1="387.00" x2="230.00" y2="732.90" stroke="#d3d3d3" stroke-width="1.3" />
<line x1="252.90" y1="387.00" x2="252.90" y2="732.90" stroke="#d3d3d3" stroke-width="1.3" />
<rect x="244.00" y="555.00" width="30.00" height="156.50" fill="#fff" stroke="none" stroke-width="1" />
<line x1="151.20" y1="386.80" x2="151.20" y2="733.50" stroke="#333" stroke-width="1.2" />
<line x1="150.60" y1="732.90" x2="268.00" y2="732.90" stroke="#333" stroke-width="1.2" />
<line x1="148.20" y1="404.40" x2="151.20" y2="404.40" stroke="#333" stroke-width="1" />
<line x1="148.20" y1="441.60" x2="151.20" y2="441.60" stroke="#333" stroke-width="1" />
<line x1="148.20" y1="483.40" x2="151.20" y2="483.40" stroke="#333" stroke-width="1" />
<line x1="148.20" y1="519.80" x2="151.20" y2="519.80" stroke="#333" stroke-width="1" />
<line x1="148.20" y1="552.40" x2="151.20" y2="552.40" stroke="#333" stroke-width="1" />
<line x1="148.20" y1="584.80" x2="151.20" y2="584.80" stroke="#333" stroke-width="1" />
<line x1="148.20" y1="617.00" x2="151.20" y2="617.00" stroke="#333" stroke-width="1" />
<line x1="148.20" y1="649.30" x2="151.20" y2="649.30" stroke="#333" stroke-width="1" />
<line x1="148.20" y1="681.70" x2="151.20" y2="681.70" stroke="#333" stroke-width="1" />
<line x1="148.20" y1="713.90" x2="151.20" y2="713.90" stroke="#333" stroke-width="1" />
<line x1="161.30" y1="732.90" x2="161.30" y2="735.90" stroke="#333" stroke-width="1" />
<line x1="184.20" y1="732.90" x2="184.20" y2="735.90" stroke="#333" stroke-width="1" />
<line x1="207.10" y1="732.90" x2="207.10" y2="735.90" stroke="#333" stroke-width="1" />
<line x1="230.00" y1="732.90" x2="230.00" y2="735.90" stroke="#333" stroke-width="1" />
<line x1="252.90" y1="732.90" x2="252.90" y2="735.90" stroke="#333" stroke-width="1" />
<text x="161.30" y="747.80" font-size="11" text-anchor="middle" fill="#4d4d4d" >0.035</text>
<text x="207.10" y="747.80" font-size="11" text-anchor="middle" fill="#4d4d4d" >0.045</text>
<text x="252.90" y="747.80" font-size="11" text-anchor="middle" fill="#4d4d4d" >0.055</text>
<text x="209.40" y="762.00" font-size="11" text-anchor="middle" fill="#231f20" >Gene ratio</text>
<text x="143.60" y="407.40" font-size="11.2" text-anchor="end" fill="#333" >ER organization</text>
<text x="143.60" y="433.60" font-size="11.2" text-anchor="end" fill="#333" >Protein insertion into ER</text>
<text x="143.60" y="444.60" font-size="11.2" text-anchor="end" fill="#333" >membrane by stop-transfer</text>
<text x="143.60" y="455.60" font-size="11.2" text-anchor="end" fill="#333" >membrane-anchor sequence</text>
<text x="143.60" y="475.40" font-size="11.2" text-anchor="end" fill="#333" >Tail-anchored membrane</text>
<text x="143.60" y="486.40" font-size="11.2" text-anchor="end" fill="#333" >protein insertion into</text>
<text x="143.60" y="497.40" font-size="11.2" text-anchor="end" fill="#333" >ER membrane</text>
<text x="143.60" y="517.30" font-size="11.2" text-anchor="end" fill="#333" >Protein insertion into</text>
<text x="143.60" y="528.30" font-size="11.2" text-anchor="end" fill="#333" >ER membrane</text>
<text x="143.60" y="549.90" font-size="11.2" text-anchor="end" fill="#333" >Protein insertion</text>
<text x="143.60" y="560.90" font-size="11.2" text-anchor="end" fill="#333" >into membrane</text>
<text x="143.60" y="582.30" font-size="11.2" text-anchor="end" fill="#333" >Ubiquitin-dependent</text>
<text x="143.60" y="593.30" font-size="11.2" text-anchor="end" fill="#333" >ERAD pathway</text>
<text x="143.60" y="620.00" font-size="11.2" text-anchor="end" fill="#333" >Protein exit from ER</text>
<text x="143.60" y="646.80" font-size="11.2" text-anchor="end" fill="#333" >Protein N-linked</text>
<text x="143.60" y="657.80" font-size="11.2" text-anchor="end" fill="#333" >glycosylation via asparagine</text>
<text x="143.60" y="679.20" font-size="11.2" text-anchor="end" fill="#333" >Retrograde protein</text>
<text x="143.60" y="690.20" font-size="11.2" text-anchor="end" fill="#333" >transport, ER to cytosol</text>
<text x="143.60" y="716.90" font-size="11.2" text-anchor="end" fill="#333" >ER to cytosol transport</text>
<circle cx="262.50" cy="404.40" r="5.80" fill="#d95b5b" stroke="#333" stroke-width="0.8" />
<circle cx="210.40" cy="441.60" r="4.70" fill="#dc5a5b" stroke="#333" stroke-width="0.8" />
<circle cx="210.40" cy="483.40" r="4.70" fill="#dc5a5b" stroke="#333" stroke-width="0.8" />
<circle cx="210.40" cy="519.80" r="4.70" fill="#dc5a5b" stroke="#333" stroke-width="0.8" />
<circle cx="210.40" cy="552.40" r="4.70" fill="#a3698f" stroke="#333" stroke-width="0.8" />
<circle cx="210.40" cy="584.80" r="4.70" fill="#3a78bd" stroke="#333" stroke-width="0.8" />
<circle cx="184.10" cy="617.00" r="4.20" fill="#c85f6a" stroke="#333" stroke-width="0.8" />
<circle cx="157.60" cy="649.30" r="2.60" fill="#d55d60" stroke="#333" stroke-width="0.8" />
<circle cx="157.60" cy="681.70" r="2.60" fill="#d55d60" stroke="#333" stroke-width="0.8" />
<circle cx="157.60" cy="713.90" r="2.60" fill="#d55d60" stroke="#333" stroke-width="0.8" />
<defs><linearGradient id="pg" x1="0" y1="0" x2="0" y2="1"><stop offset="0" stop-color="#e05a5c"/><stop offset="0.5" stop-color="#9c6b95"/><stop offset="1" stop-color="#3b74c0"/></linearGradient></defs>
<text x="248.5" y="569.2" font-size="11" fill="#231f20">p<tspan font-size="6.6" dy="1.6">adjusted</tspan></text>
<rect x="250.20" y="574.00" width="7.30" height="50.00" fill="url(#pg)" stroke="#444" stroke-width="0.5" />
<line x1="257.50" y1="591.80" x2="260.40" y2="591.80" stroke="#333" stroke-width="1" />
<text x="261.30" y="595.70" font-size="11" text-anchor="start" fill="#333" >0.0001</text>
<line x1="257.50" y1="609.60" x2="260.40" y2="609.60" stroke="#333" stroke-width="1" />
<text x="261.30" y="613.50" font-size="11" text-anchor="start" fill="#333" >0.0002</text>
<text x="267.80" y="644.00" font-size="11" text-anchor="middle" fill="#231f20" >Count</text>
<circle cx="265.30" cy="652.30" r="1.90" fill="#fff" stroke="#333" stroke-width="0.8" />
<text x="271.80" y="656.30" font-size="11" text-anchor="start" fill="#333" >6</text>
<circle cx="264.10" cy="662.50" r="3.70" fill="#fff" stroke="#333" stroke-width="0.8" />
<text x="271.80" y="666.50" font-size="11" text-anchor="start" fill="#333" >7</text>
<circle cx="263.30" cy="673.80" r="4.50" fill="#fff" stroke="#333" stroke-width="0.8" />
<text x="271.80" y="677.80" font-size="11" text-anchor="start" fill="#333" >8</text>
<circle cx="262.70" cy="685.70" r="5.30" fill="#fff" stroke="#333" stroke-width="0.8" />
<text x="271.80" y="689.70" font-size="11" text-anchor="start" fill="#333" >9</text>
<circle cx="262.30" cy="699.00" r="6.10" fill="#fff" stroke="#333" stroke-width="0.8" />
<text x="271.80" y="703.00" font-size="11" text-anchor="start" fill="#333" >10</text>
<line x1="371.80" y1="392.40" x2="371.80" y2="500.40" stroke="#333" stroke-width="1.1" />
<line x1="368.80" y1="500.40" x2="371.80" y2="500.40" stroke="#333" stroke-width="1" />
<text x="366.60" y="504.30" font-size="11" text-anchor="end" fill="#333" >0</text>
<line x1="368.80" y1="473.50" x2="371.80" y2="473.50" stroke="#333" stroke-width="1" />
<text x="366.60" y="477.40" font-size="11" text-anchor="end" fill="#333" >50</text>
<line x1="368.80" y1="446.60" x2="371.80" y2="446.60" stroke="#333" stroke-width="1" />
<text x="366.60" y="450.50" font-size="11" text-anchor="end" fill="#333" >100</text>
<line x1="368.80" y1="419.70" x2="371.80" y2="419.70" stroke="#333" stroke-width="1" />
<text x="366.60" y="423.60" font-size="11" text-anchor="end" fill="#333" >150</text>
<line x1="368.80" y1="392.80" x2="371.80" y2="392.80" stroke="#333" stroke-width="1" />
<text x="366.60" y="396.70" font-size="11" text-anchor="end" fill="#333" >200</text>
<line x1="371.80" y1="446.60" x2="601.50" y2="446.60" stroke="#dadada" stroke-width="0.8" />
<rect x="376.10" y="447.40" width="9.50" height="53.00" fill="#e3e3e3" stroke="#555" stroke-width="0.9" />
<line x1="380.85" y1="443.00" x2="380.85" y2="451.00" stroke="#333" stroke-width="0.9" />
<line x1="378.65" y1="443.00" x2="383.05" y2="443.00" stroke="#333" stroke-width="0.9" />
<line x1="378.65" y1="451.00" x2="383.05" y2="451.00" stroke="#333" stroke-width="0.9" />
<circle cx="380.85" cy="444.50" r="1.60" fill="#231f20" stroke="none" stroke-width="0.6" />
<circle cx="379.35" cy="448.00" r="1.60" fill="#231f20" stroke="none" stroke-width="0.6" />
<circle cx="382.85" cy="447.00" r="1.60" fill="#231f20" stroke="none" stroke-width="0.6" />
<text transform="translate(384.85,503.00) rotate(-90)" font-size="11" text-anchor="end" fill="#333">WT</text>
<rect x="388.81" y="449.30" width="9.50" height="51.10" fill="#e3e3e3" stroke="#555" stroke-width="0.9" />
<line x1="393.56" y1="446.50" x2="393.56" y2="452.50" stroke="#333" stroke-width="0.9" />
<line x1="391.36" y1="446.50" x2="395.76" y2="446.50" stroke="#333" stroke-width="0.9" />
<line x1="391.36" y1="452.50" x2="395.76" y2="452.50" stroke="#333" stroke-width="0.9" />
<circle cx="392.06" cy="447.00" r="1.60" fill="#231f20" stroke="none" stroke-width="0.6" />
<circle cx="395.06" cy="447.00" r="1.60" fill="#231f20" stroke="none" stroke-width="0.6" />
<circle cx="393.56" cy="452.00" r="1.60" fill="#231f20" stroke="none" stroke-width="0.6" />
<text transform="translate(397.56,503.00) rotate(-90)" font-size="11" text-anchor="end" fill="#333">NT</text>
<rect x="401.52" y="489.90" width="9.50" height="10.50" fill="#e3e3e3" stroke="#555" stroke-width="0.9" />
<line x1="406.27" y1="487.50" x2="406.27" y2="492.00" stroke="#333" stroke-width="0.9" />
<line x1="404.07" y1="487.50" x2="408.47" y2="487.50" stroke="#333" stroke-width="0.9" />
<line x1="404.07" y1="492.00" x2="408.47" y2="492.00" stroke="#333" stroke-width="0.9" />
<circle cx="404.47" cy="489.00" r="1.60" fill="#231f20" stroke="none" stroke-width="0.6" />
<circle cx="406.27" cy="490.00" r="1.60" fill="#231f20" stroke="none" stroke-width="0.6" />
<circle cx="408.07" cy="489.00" r="1.60" fill="#231f20" stroke="none" stroke-width="0.6" />
<text x="406.27" y="490.10" font-size="10.8" text-anchor="middle" fill="#444" >***</text>
<text transform="translate(410.27,503.00) rotate(-90)" font-size="11" text-anchor="end" fill="#333">EMC6</text>
<rect x="414.23" y="443.70" width="9.50" height="56.70" fill="#e3e3e3" stroke="#555" stroke-width="0.9" />
<line x1="418.98" y1="439.70" x2="418.98" y2="446.00" stroke="#333" stroke-width="0.9" />
<line x1="416.78" y1="439.70" x2="421.18" y2="439.70" stroke="#333" stroke-width="0.9" />
<line x1="416.78" y1="446.00" x2="421.18" y2="446.00" stroke="#333" stroke-width="0.9" />
<circle cx="418.98" cy="440.00" r="1.60" fill="#231f20" stroke="none" stroke-width="0.6" />
<circle cx="416.98" cy="444.00" r="1.60" fill="#231f20" stroke="none" stroke-width="0.6" />
<circle cx="420.48" cy="443.50" r="1.60" fill="#231f20" stroke="none" stroke-width="0.6" />
<text transform="translate(422.98,503.00) rotate(-90)" font-size="11" text-anchor="end" fill="#333">EIF2A</text>
<rect x="426.94" y="417.70" width="9.50" height="82.70" fill="#e3e3e3" stroke="#555" stroke-width="0.9" />
<line x1="431.69" y1="411.20" x2="431.69" y2="421.70" stroke="#333" stroke-width="0.9" />
<line x1="429.49" y1="411.20" x2="433.89" y2="411.20" stroke="#333" stroke-width="0.9" />
<line x1="429.49" y1="421.70" x2="433.89" y2="421.70" stroke="#333" stroke-width="0.9" />
<circle cx="431.69" cy="411.50" r="1.60" fill="#231f20" stroke="none" stroke-width="0.6" />
<circle cx="430.69" cy="417.00" r="1.60" fill="#231f20" stroke="none" stroke-width="0.6" />
<circle cx="432.69" cy="421.00" r="1.60" fill="#231f20" stroke="none" stroke-width="0.6" />
<text x="431.69" y="410.60" font-size="10.8" text-anchor="middle" fill="#444" >***</text>
<text transform="translate(435.69,503.00) rotate(-90)" font-size="11" text-anchor="end" fill="#333">TXN2</text>
<rect x="439.65" y="438.10" width="9.50" height="62.30" fill="#e3e3e3" stroke="#555" stroke-width="0.9" />
<line x1="444.40" y1="429.70" x2="444.40" y2="444.20" stroke="#333" stroke-width="0.9" />
<line x1="442.20" y1="429.70" x2="446.60" y2="429.70" stroke="#333" stroke-width="0.9" />
<line x1="442.20" y1="444.20" x2="446.60" y2="444.20" stroke="#333" stroke-width="0.9" />
<circle cx="444.40" cy="432.00" r="1.60" fill="#231f20" stroke="none" stroke-width="0.6" />
<circle cx="443.20" cy="438.00" r="1.60" fill="#231f20" stroke="none" stroke-width="0.6" />
<circle cx="444.40" cy="444.00" r="1.60" fill="#231f20" stroke="none" stroke-width="0.6" />
<text x="444.40" y="429.10" font-size="10.8" text-anchor="middle" fill="#444" >*</text>
<text transform="translate(448.40,503.00) rotate(-90)" font-size="11" text-anchor="end" fill="#333">G3BP1</text>
<rect x="452.36" y="432.40" width="9.50" height="68.00" fill="#e3e3e3" stroke="#555" stroke-width="0.9" />
<line x1="457.11" y1="423.80" x2="457.11" y2="438.50" stroke="#333" stroke-width="0.9" />
<line x1="454.91" y1="423.80" x2="459.31" y2="423.80" stroke="#333" stroke-width="0.9" />
<line x1="454.91" y1="438.50" x2="459.31" y2="438.50" stroke="#333" stroke-width="0.9" />
<circle cx="457.11" cy="424.00" r="1.60" fill="#231f20" stroke="none" stroke-width="0.6" />
<circle cx="455.31" cy="433.50" r="1.60" fill="#231f20" stroke="none" stroke-width="0.6" />
<circle cx="459.11" cy="433.00" r="1.60" fill="#231f20" stroke="none" stroke-width="0.6" />
<text x="457.11" y="422.60" font-size="10.8" text-anchor="middle" fill="#444" >***</text>
<text transform="translate(461.11,503.00) rotate(-90)" font-size="11" text-anchor="end" fill="#333">EIF3D</text>
<rect x="465.07" y="448.20" width="9.50" height="52.20" fill="#e3e3e3" stroke="#555" stroke-width="0.9" />
<line x1="469.82" y1="443.00" x2="469.82" y2="451.70" stroke="#333" stroke-width="0.9" />
<line x1="467.62" y1="443.00" x2="472.02" y2="443.00" stroke="#333" stroke-width="0.9" />
<line x1="467.62" y1="451.70" x2="472.02" y2="451.70" stroke="#333" stroke-width="0.9" />
<circle cx="469.82" cy="443.50" r="1.60" fill="#231f20" stroke="none" stroke-width="0.6" />
<circle cx="468.82" cy="448.00" r="1.60" fill="#231f20" stroke="none" stroke-width="0.6" />
<circle cx="469.82" cy="451.50" r="1.60" fill="#231f20" stroke="none" stroke-width="0.6" />
<text transform="translate(473.82,503.00) rotate(-90)" font-size="11" text-anchor="end" fill="#333">ZDHHC23</text>
<rect x="477.78" y="446.10" width="9.50" height="54.30" fill="#e3e3e3" stroke="#555" stroke-width="0.9" />
<line x1="482.53" y1="444.50" x2="482.53" y2="447.50" stroke="#333" stroke-width="0.9" />
<line x1="480.33" y1="444.50" x2="484.73" y2="444.50" stroke="#333" stroke-width="0.9" />
<line x1="480.33" y1="447.50" x2="484.73" y2="447.50" stroke="#333" stroke-width="0.9" />
<circle cx="481.03" cy="446.00" r="1.60" fill="#231f20" stroke="none" stroke-width="0.6" />
<circle cx="482.53" cy="445.00" r="1.60" fill="#231f20" stroke="none" stroke-width="0.6" />
<circle cx="484.03" cy="446.00" r="1.60" fill="#231f20" stroke="none" stroke-width="0.6" />
<text transform="translate(486.53,503.00) rotate(-90)" font-size="11" text-anchor="end" fill="#333">MYO19</text>
<rect x="490.49" y="445.30" width="9.50" height="55.10" fill="#e3e3e3" stroke="#555" stroke-width="0.9" />
<line x1="495.24" y1="438.50" x2="495.24" y2="450.60" stroke="#333" stroke-width="0.9" />
<line x1="493.04" y1="438.50" x2="497.44" y2="438.50" stroke="#333" stroke-width="0.9" />
<line x1="493.04" y1="450.60" x2="497.44" y2="450.60" stroke="#333" stroke-width="0.9" />
<circle cx="495.24" cy="439.00" r="1.60" fill="#231f20" stroke="none" stroke-width="0.6" />
<circle cx="495.24" cy="445.00" r="1.60" fill="#231f20" stroke="none" stroke-width="0.6" />
<circle cx="495.24" cy="450.50" r="1.60" fill="#231f20" stroke="none" stroke-width="0.6" />
<text transform="translate(499.24,503.00) rotate(-90)" font-size="11" text-anchor="end" fill="#333">STAU2</text>
<rect x="503.20" y="443.00" width="9.50" height="57.40" fill="#e3e3e3" stroke="#555" stroke-width="0.9" />
<line x1="507.95" y1="438.90" x2="507.95" y2="446.00" stroke="#333" stroke-width="0.9" />
<line x1="505.75" y1="438.90" x2="510.15" y2="438.90" stroke="#333" stroke-width="0.9" />
<line x1="505.75" y1="446.00" x2="510.15" y2="446.00" stroke="#333" stroke-width="0.9" />
<circle cx="507.95" cy="439.50" r="1.60" fill="#231f20" stroke="none" stroke-width="0.6" />
<circle cx="506.95" cy="443.50" r="1.60" fill="#231f20" stroke="none" stroke-width="0.6" />
<circle cx="509.95" cy="443.00" r="1.60" fill="#231f20" stroke="none" stroke-width="0.6" />
<text transform="translate(511.95,503.00) rotate(-90)" font-size="11" text-anchor="end" fill="#333">PTBP2</text>
<rect x="515.91" y="450.10" width="9.50" height="50.30" fill="#e3e3e3" stroke="#555" stroke-width="0.9" />
<line x1="520.66" y1="449.00" x2="520.66" y2="452.50" stroke="#333" stroke-width="0.9" />
<line x1="518.46" y1="449.00" x2="522.86" y2="449.00" stroke="#333" stroke-width="0.9" />
<line x1="518.46" y1="452.50" x2="522.86" y2="452.50" stroke="#333" stroke-width="0.9" />
<circle cx="518.86" cy="450.00" r="1.60" fill="#231f20" stroke="none" stroke-width="0.6" />
<circle cx="520.66" cy="452.00" r="1.60" fill="#231f20" stroke="none" stroke-width="0.6" />
<circle cx="522.46" cy="450.50" r="1.60" fill="#231f20" stroke="none" stroke-width="0.6" />
<text transform="translate(524.66,503.00) rotate(-90)" font-size="11" text-anchor="end" fill="#333">PIAS4</text>
<rect x="528.62" y="460.50" width="9.50" height="39.90" fill="#e3e3e3" stroke="#555" stroke-width="0.9" />
<line x1="533.37" y1="455.40" x2="533.37" y2="463.40" stroke="#333" stroke-width="0.9" />
<line x1="531.17" y1="455.40" x2="535.57" y2="455.40" stroke="#333" stroke-width="0.9" />
<line x1="531.17" y1="463.40" x2="535.57" y2="463.40" stroke="#333" stroke-width="0.9" />
<circle cx="533.37" cy="456.00" r="1.60" fill="#231f20" stroke="none" stroke-width="0.6" />
<circle cx="533.37" cy="460.00" r="1.60" fill="#231f20" stroke="none" stroke-width="0.6" />
<circle cx="533.37" cy="463.00" r="1.60" fill="#231f20" stroke="none" stroke-width="0.6" />
<text x="533.37" y="455.60" font-size="10.8" text-anchor="middle" fill="#444" >**</text>
<text transform="translate(537.37,503.00) rotate(-90)" font-size="11" text-anchor="end" fill="#333">SENP1</text>
<rect x="541.33" y="464.70" width="9.50" height="35.70" fill="#e3e3e3" stroke="#555" stroke-width="0.9" />
<line x1="546.08" y1="462.80" x2="546.08" y2="466.00" stroke="#333" stroke-width="0.9" />
<line x1="543.88" y1="462.80" x2="548.28" y2="462.80" stroke="#333" stroke-width="0.9" />
<line x1="543.88" y1="466.00" x2="548.28" y2="466.00" stroke="#333" stroke-width="0.9" />
<circle cx="544.28" cy="463.50" r="1.60" fill="#231f20" stroke="none" stroke-width="0.6" />
<circle cx="546.08" cy="465.00" r="1.60" fill="#231f20" stroke="none" stroke-width="0.6" />
<circle cx="547.88" cy="465.00" r="1.60" fill="#231f20" stroke="none" stroke-width="0.6" />
<text x="546.08" y="463.10" font-size="10.8" text-anchor="middle" fill="#444" >***</text>
<text transform="translate(550.08,503.00) rotate(-90)" font-size="11" text-anchor="end" fill="#333">SEL1L</text>
<rect x="554.04" y="460.20" width="9.50" height="40.20" fill="#e3e3e3" stroke="#555" stroke-width="0.9" />
<line x1="558.79" y1="457.30" x2="558.79" y2="462.60" stroke="#333" stroke-width="0.9" />
<line x1="556.59" y1="457.30" x2="560.99" y2="457.30" stroke="#333" stroke-width="0.9" />
<line x1="556.59" y1="462.60" x2="560.99" y2="462.60" stroke="#333" stroke-width="0.9" />
<circle cx="557.29" cy="458.00" r="1.60" fill="#231f20" stroke="none" stroke-width="0.6" />
<circle cx="560.29" cy="458.00" r="1.60" fill="#231f20" stroke="none" stroke-width="0.6" />
<circle cx="558.79" cy="462.50" r="1.60" fill="#231f20" stroke="none" stroke-width="0.6" />
<text x="558.79" y="457.60" font-size="10.8" text-anchor="middle" fill="#444" >**</text>
<text transform="translate(562.79,503.00) rotate(-90)" font-size="11" text-anchor="end" fill="#333">ZFP36L2</text>
<rect x="566.75" y="468.30" width="9.50" height="32.10" fill="#e3e3e3" stroke="#555" stroke-width="0.9" />
<line x1="571.50" y1="462.50" x2="571.50" y2="471.50" stroke="#333" stroke-width="0.9" />
<line x1="569.30" y1="462.50" x2="573.70" y2="462.50" stroke="#333" stroke-width="0.9" />
<line x1="569.30" y1="471.50" x2="573.70" y2="471.50" stroke="#333" stroke-width="0.9" />
<circle cx="571.50" cy="463.00" r="1.60" fill="#231f20" stroke="none" stroke-width="0.6" />
<circle cx="571.50" cy="468.00" r="1.60" fill="#231f20" stroke="none" stroke-width="0.6" />
<circle cx="571.50" cy="471.00" r="1.60" fill="#231f20" stroke="none" stroke-width="0.6" />
<text x="571.50" y="461.30" font-size="10.8" text-anchor="middle" fill="#444" >***</text>
<text transform="translate(575.50,503.00) rotate(-90)" font-size="11" text-anchor="end" fill="#333">DOHH</text>
<rect x="579.46" y="478.50" width="9.50" height="21.90" fill="#e3e3e3" stroke="#555" stroke-width="0.9" />
<line x1="584.21" y1="477.00" x2="584.21" y2="483.20" stroke="#333" stroke-width="0.9" />
<line x1="582.01" y1="477.00" x2="586.41" y2="477.00" stroke="#333" stroke-width="0.9" />
<line x1="582.01" y1="483.20" x2="586.41" y2="483.20" stroke="#333" stroke-width="0.9" />
<circle cx="582.41" cy="477.50" r="1.60" fill="#231f20" stroke="none" stroke-width="0.6" />
<circle cx="584.21" cy="482.50" r="1.60" fill="#231f20" stroke="none" stroke-width="0.6" />
<circle cx="585.71" cy="479.50" r="1.60" fill="#231f20" stroke="none" stroke-width="0.6" />
<text x="584.21" y="478.40" font-size="10.8" text-anchor="middle" fill="#444" >***</text>
<text transform="translate(588.21,503.00) rotate(-90)" font-size="11" text-anchor="end" fill="#333">UBE2G2</text>
<rect x="592.17" y="476.20" width="9.50" height="24.20" fill="#e3e3e3" stroke="#555" stroke-width="0.9" />
<line x1="596.92" y1="475.00" x2="596.92" y2="477.50" stroke="#333" stroke-width="0.9" />
<line x1="594.72" y1="475.00" x2="599.12" y2="475.00" stroke="#333" stroke-width="0.9" />
<line x1="594.72" y1="477.50" x2="599.12" y2="477.50" stroke="#333" stroke-width="0.9" />
<circle cx="595.42" cy="476.00" r="1.60" fill="#231f20" stroke="none" stroke-width="0.6" />
<circle cx="596.92" cy="475.50" r="1.60" fill="#231f20" stroke="none" stroke-width="0.6" />
<circle cx="598.42" cy="476.00" r="1.60" fill="#231f20" stroke="none" stroke-width="0.6" />
<text x="596.92" y="474.80" font-size="10.8" text-anchor="middle" fill="#444" >***</text>
<text transform="translate(600.92,503.00) rotate(-90)" font-size="11" text-anchor="end" fill="#333">PRKRA</text>
<text transform="translate(333,446.9) rotate(-90)" font-size="11" text-anchor="middle" fill="#333">Fluorescence intensity</text>
<text transform="translate(343.6,446.9) rotate(-90)" font-size="11" text-anchor="middle" fill="#333">(% of WT)</text>
<text x="488.70" y="568.50" font-size="11" text-anchor="middle" fill="#333" >CRISPR KO in DENV-2 replicon cells</text>
<line x1="364.10" y1="608.70" x2="364.10" y2="716.50" stroke="#333" stroke-width="1.1" />
<line x1="361.10" y1="716.50" x2="364.10" y2="716.50" stroke="#333" stroke-width="1" />
<text x="358.20" y="720.40" font-size="11" text-anchor="end" fill="#333" >0</text>
<line x1="361.10" y1="689.67" x2="364.10" y2="689.67" stroke="#333" stroke-width="1" />
<text x="358.20" y="693.57" font-size="11" text-anchor="end" fill="#333" >50</text>
<line x1="361.10" y1="662.85" x2="364.10" y2="662.85" stroke="#333" stroke-width="1" />
<text x="358.20" y="666.75" font-size="11" text-anchor="end" fill="#333" >100</text>
<line x1="361.10" y1="636.02" x2="364.10" y2="636.02" stroke="#333" stroke-width="1" />
<text x="358.20" y="639.92" font-size="11" text-anchor="end" fill="#333" >150</text>
<line x1="361.10" y1="609.20" x2="364.10" y2="609.20" stroke="#333" stroke-width="1" />
<text x="358.20" y="613.10" font-size="11" text-anchor="end" fill="#333" >200</text>
<line x1="364.10" y1="663.40" x2="494.00" y2="663.40" stroke="#dadada" stroke-width="0.8" />
<rect x="368.20" y="663.40" width="9.30" height="53.10" fill="#e3e3e3" stroke="#555" stroke-width="0.9" />
<line x1="372.85" y1="655.60" x2="372.85" y2="671.10" stroke="#333" stroke-width="0.9" />
<line x1="370.65" y1="655.60" x2="375.05" y2="655.60" stroke="#333" stroke-width="0.9" />
<line x1="370.65" y1="671.10" x2="375.05" y2="671.10" stroke="#333" stroke-width="0.9" />
<circle cx="372.85" cy="656.00" r="1.60" fill="#231f20" stroke="none" stroke-width="0.6" />
<circle cx="372.85" cy="663.50" r="1.60" fill="#231f20" stroke="none" stroke-width="0.6" />
<circle cx="372.85" cy="670.50" r="1.60" fill="#231f20" stroke="none" stroke-width="0.6" />
<text transform="translate(376.85,719.10) rotate(-90)" font-size="11" text-anchor="end" fill="#333">WT</text>
<rect x="380.84" y="663.40" width="9.30" height="53.10" fill="#e3e3e3" stroke="#555" stroke-width="0.9" />
<line x1="385.49" y1="652.70" x2="385.49" y2="672.00" stroke="#333" stroke-width="0.9" />
<line x1="383.29" y1="652.70" x2="387.69" y2="652.70" stroke="#333" stroke-width="0.9" />
<line x1="383.29" y1="672.00" x2="387.69" y2="672.00" stroke="#333" stroke-width="0.9" />
<circle cx="385.49" cy="653.50" r="1.60" fill="#231f20" stroke="none" stroke-width="0.6" />
<circle cx="385.49" cy="664.00" r="1.60" fill="#231f20" stroke="none" stroke-width="0.6" />
<circle cx="385.49" cy="671.00" r="1.60" fill="#231f20" stroke="none" stroke-width="0.6" />
<text transform="translate(389.49,719.10) rotate(-90)" font-size="11" text-anchor="end" fill="#333">NT</text>
<rect x="393.48" y="701.20" width="9.30" height="15.30" fill="#e3e3e3" stroke="#555" stroke-width="0.9" />
<line x1="398.13" y1="696.00" x2="398.13" y2="705.00" stroke="#333" stroke-width="0.9" />
<line x1="395.93" y1="696.00" x2="400.33" y2="696.00" stroke="#333" stroke-width="0.9" />
<line x1="395.93" y1="705.00" x2="400.33" y2="705.00" stroke="#333" stroke-width="0.9" />
<circle cx="397.13" cy="697.00" r="1.60" fill="#231f20" stroke="none" stroke-width="0.6" />
<circle cx="399.63" cy="700.00" r="1.60" fill="#231f20" stroke="none" stroke-width="0.6" />
<circle cx="398.13" cy="705.00" r="1.60" fill="#231f20" stroke="none" stroke-width="0.6" />
<text x="398.13" y="696.60" font-size="10.8" text-anchor="middle" fill="#444" >**</text>
<text transform="translate(402.13,719.10) rotate(-90)" font-size="11" text-anchor="end" fill="#333">EMC6</text>
<rect x="406.12" y="633.70" width="9.30" height="82.80" fill="#e3e3e3" stroke="#555" stroke-width="0.9" />
<line x1="410.77" y1="616.30" x2="410.77" y2="649.00" stroke="#333" stroke-width="0.9" />
<line x1="408.57" y1="616.30" x2="412.97" y2="616.30" stroke="#333" stroke-width="0.9" />
<line x1="408.57" y1="649.00" x2="412.97" y2="649.00" stroke="#333" stroke-width="0.9" />
<circle cx="410.77" cy="617.00" r="1.60" fill="#231f20" stroke="none" stroke-width="0.6" />
<circle cx="410.77" cy="632.50" r="1.60" fill="#231f20" stroke="none" stroke-width="0.6" />
<circle cx="410.77" cy="648.50" r="1.60" fill="#231f20" stroke="none" stroke-width="0.6" />
<text x="410.77" y="615.80" font-size="10.8" text-anchor="middle" fill="#444" >*</text>
<text transform="translate(414.77,719.10) rotate(-90)" font-size="11" text-anchor="end" fill="#333">PIAS4</text>
<rect x="418.76" y="663.40" width="9.30" height="53.10" fill="#e3e3e3" stroke="#555" stroke-width="0.9" />
<line x1="423.41" y1="636.80" x2="423.41" y2="688.90" stroke="#333" stroke-width="0.9" />
<line x1="421.21" y1="636.80" x2="425.61" y2="636.80" stroke="#333" stroke-width="0.9" />
<line x1="421.21" y1="688.90" x2="425.61" y2="688.90" stroke="#333" stroke-width="0.9" />
<circle cx="423.41" cy="645.00" r="1.60" fill="#231f20" stroke="none" stroke-width="0.6" />
<circle cx="423.41" cy="648.00" r="1.60" fill="#231f20" stroke="none" stroke-width="0.6" />
<circle cx="422.41" cy="692.50" r="1.60" fill="#231f20" stroke="none" stroke-width="0.6" />
<text transform="translate(427.41,719.10) rotate(-90)" font-size="11" text-anchor="end" fill="#333">SENP1</text>
<rect x="431.40" y="707.90" width="9.30" height="8.60" fill="#e3e3e3" stroke="#555" stroke-width="0.9" />
<line x1="436.05" y1="702.00" x2="436.05" y2="712.00" stroke="#333" stroke-width="0.9" />
<line x1="433.85" y1="702.00" x2="438.25" y2="702.00" stroke="#333" stroke-width="0.9" />
<line x1="433.85" y1="712.00" x2="438.25" y2="712.00" stroke="#333" stroke-width="0.9" />
<circle cx="436.05" cy="702.50" r="1.60" fill="#231f20" stroke="none" stroke-width="0.6" />
<circle cx="434.55" cy="709.50" r="1.60" fill="#231f20" stroke="none" stroke-width="0.6" />
<circle cx="437.55" cy="710.00" r="1.60" fill="#231f20" stroke="none" stroke-width="0.6" />
<text x="436.05" y="701.60" font-size="10.8" text-anchor="middle" fill="#444" >***</text>
<text transform="translate(440.05,719.10) rotate(-90)" font-size="11" text-anchor="end" fill="#333">SEL1L</text>
<rect x="444.04" y="702.20" width="9.30" height="14.30" fill="#e3e3e3" stroke="#555" stroke-width="0.9" />
<line x1="448.69" y1="695.50" x2="448.69" y2="708.00" stroke="#333" stroke-width="0.9" />
<line x1="446.49" y1="695.50" x2="450.89" y2="695.50" stroke="#333" stroke-width="0.9" />
<line x1="446.49" y1="708.00" x2="450.89" y2="708.00" stroke="#333" stroke-width="0.9" />
<circle cx="448.69" cy="696.00" r="1.60" fill="#231f20" stroke="none" stroke-width="0.6" />
<circle cx="447.69" cy="704.50" r="1.60" fill="#231f20" stroke="none" stroke-width="0.6" />
<circle cx="449.69" cy="704.00" r="1.60" fill="#231f20" stroke="none" stroke-width="0.6" />
<text x="448.69" y="695.50" font-size="10.8" text-anchor="middle" fill="#444" >**</text>
<text transform="translate(452.69,719.10) rotate(-90)" font-size="11" text-anchor="end" fill="#333">PRKRA</text>
<rect x="456.68" y="701.60" width="9.30" height="14.90" fill="#e3e3e3" stroke="#555" stroke-width="0.9" />
<line x1="461.33" y1="695.00" x2="461.33" y2="708.00" stroke="#333" stroke-width="0.9" />
<line x1="459.13" y1="695.00" x2="463.53" y2="695.00" stroke="#333" stroke-width="0.9" />
<line x1="459.13" y1="708.00" x2="463.53" y2="708.00" stroke="#333" stroke-width="0.9" />
<circle cx="461.33" cy="695.50" r="1.60" fill="#231f20" stroke="none" stroke-width="0.6" />
<circle cx="461.33" cy="702.00" r="1.60" fill="#231f20" stroke="none" stroke-width="0.6" />
<circle cx="461.33" cy="708.00" r="1.60" fill="#231f20" stroke="none" stroke-width="0.6" />
<text x="461.33" y="695.50" font-size="10.8" text-anchor="middle" fill="#444" >**</text>
<text transform="translate(465.33,719.10) rotate(-90)" font-size="11" text-anchor="end" fill="#333">DOHH</text>
<rect x="469.32" y="680.30" width="9.30" height="36.20" fill="#e3e3e3" stroke="#555" stroke-width="0.9" />
<line x1="473.97" y1="672.00" x2="473.97" y2="687.00" stroke="#333" stroke-width="0.9" />
<line x1="471.77" y1="672.00" x2="476.17" y2="672.00" stroke="#333" stroke-width="0.9" />
<line x1="471.77" y1="687.00" x2="476.17" y2="687.00" stroke="#333" stroke-width="0.9" />
<circle cx="473.97" cy="672.50" r="1.60" fill="#231f20" stroke="none" stroke-width="0.6" />
<circle cx="473.97" cy="679.50" r="1.60" fill="#231f20" stroke="none" stroke-width="0.6" />
<circle cx="473.97" cy="687.00" r="1.60" fill="#231f20" stroke="none" stroke-width="0.6" />
<text transform="translate(477.97,719.10) rotate(-90)" font-size="11" text-anchor="end" fill="#333">ZFP36L2</text>
<rect x="481.96" y="707.30" width="9.30" height="9.20" fill="#e3e3e3" stroke="#555" stroke-width="0.9" />
<line x1="486.61" y1="703.00" x2="486.61" y2="710.00" stroke="#333" stroke-width="0.9" />
<line x1="484.41" y1="703.00" x2="488.81" y2="703.00" stroke="#333" stroke-width="0.9" />
<line x1="484.41" y1="710.00" x2="488.81" y2="710.00" stroke="#333" stroke-width="0.9" />
<circle cx="486.61" cy="703.50" r="1.60" fill="#231f20" stroke="none" stroke-width="0.6" />
<circle cx="485.11" cy="708.00" r="1.60" fill="#231f20" stroke="none" stroke-width="0.6" />
<circle cx="488.11" cy="707.00" r="1.60" fill="#231f20" stroke="none" stroke-width="0.6" />
<text x="486.61" y="703.60" font-size="10.8" text-anchor="middle" fill="#444" >***</text>
<text transform="translate(490.61,719.10) rotate(-90)" font-size="11" text-anchor="end" fill="#333">UBE2G2</text>
<text x="374.20" y="598.20" font-size="11" text-anchor="start" fill="#333" >DENV-2-Luc infection</text>
<text transform="translate(334.6,662.3) rotate(-90)" font-size="11.25" text-anchor="middle" fill="#333">Luminescence (% of WT)</text>
<text x="422.80" y="778.60" font-size="11" text-anchor="middle" fill="#333" >CRISPR KO in Huh7.5.1 cells</text>
<line x1="555.10" y1="608.70" x2="555.10" y2="716.30" stroke="#333" stroke-width="1.1" />
<line x1="552.10" y1="716.30" x2="555.10" y2="716.30" stroke="#333" stroke-width="1" />
<text x="549.60" y="720.20" font-size="11" text-anchor="end" fill="#333" >0</text>
<line x1="552.10" y1="694.88" x2="555.10" y2="694.88" stroke="#333" stroke-width="1" />
<text x="549.60" y="698.78" font-size="11" text-anchor="end" fill="#333" >50</text>
<line x1="552.10" y1="673.46" x2="555.10" y2="673.46" stroke="#333" stroke-width="1" />
<text x="549.60" y="677.36" font-size="11" text-anchor="end" fill="#333" >100</text>
<line x1="552.10" y1="652.04" x2="555.10" y2="652.04" stroke="#333" stroke-width="1" />
<text x="549.60" y="655.94" font-size="11" text-anchor="end" fill="#333" >150</text>
<line x1="552.10" y1="630.62" x2="555.10" y2="630.62" stroke="#333" stroke-width="1" />
<text x="549.60" y="634.52" font-size="11" text-anchor="end" fill="#333" >200</text>
<line x1="552.10" y1="609.20" x2="555.10" y2="609.20" stroke="#333" stroke-width="1" />
<text x="549.60" y="613.10" font-size="11" text-anchor="end" fill="#333" >250</text>
<line x1="555.10" y1="673.50" x2="685.00" y2="673.50" stroke="#dadada" stroke-width="0.8" />
<rect x="559.50" y="674.30" width="9.20" height="42.00" fill="#e3e3e3" stroke="#555" stroke-width="0.9" />
<line x1="564.10" y1="666.40" x2="564.10" y2="681.80" stroke="#333" stroke-width="0.9" />
<line x1="561.90" y1="666.40" x2="566.30" y2="666.40" stroke="#333" stroke-width="0.9" />
<line x1="561.90" y1="681.80" x2="566.30" y2="681.80" stroke="#333" stroke-width="0.9" />
<circle cx="564.10" cy="667.00" r="1.60" fill="#231f20" stroke="none" stroke-width="0.6" />
<circle cx="564.10" cy="674.00" r="1.60" fill="#231f20" stroke="none" stroke-width="0.6" />
<circle cx="564.10" cy="681.00" r="1.60" fill="#231f20" stroke="none" stroke-width="0.6" />
<text transform="translate(568.10,718.90) rotate(-90)" font-size="11" text-anchor="end" fill="#333">WT</text>
<rect x="572.20" y="648.30" width="9.20" height="68.00" fill="#e3e3e3" stroke="#555" stroke-width="0.9" />
<line x1="576.80" y1="616.80" x2="576.80" y2="678.80" stroke="#333" stroke-width="0.9" />
<line x1="574.60" y1="616.80" x2="579.00" y2="616.80" stroke="#333" stroke-width="0.9" />
<line x1="574.60" y1="678.80" x2="579.00" y2="678.80" stroke="#333" stroke-width="0.9" />
<circle cx="576.80" cy="612.40" r="1.60" fill="#231f20" stroke="none" stroke-width="0.6" />
<circle cx="576.80" cy="660.00" r="1.60" fill="#231f20" stroke="none" stroke-width="0.6" />
<circle cx="576.80" cy="670.00" r="1.60" fill="#231f20" stroke="none" stroke-width="0.6" />
<text transform="translate(580.80,718.90) rotate(-90)" font-size="11" text-anchor="end" fill="#333">NT</text>
<rect x="584.90" y="708.40" width="9.20" height="7.90" fill="#e3e3e3" stroke="#555" stroke-width="0.9" />
<line x1="589.50" y1="700.90" x2="589.50" y2="716.00" stroke="#333" stroke-width="0.9" />
<line x1="587.30" y1="700.90" x2="591.70" y2="700.90" stroke="#333" stroke-width="0.9" />
<line x1="587.30" y1="716.00" x2="591.70" y2="716.00" stroke="#333" stroke-width="0.9" />
<circle cx="589.50" cy="701.50" r="1.60" fill="#231f20" stroke="none" stroke-width="0.6" />
<circle cx="588.00" cy="712.00" r="1.60" fill="#231f20" stroke="none" stroke-width="0.6" />
<circle cx="591.50" cy="711.00" r="1.60" fill="#231f20" stroke="none" stroke-width="0.6" />
<text x="589.50" y="699.60" font-size="10.8" text-anchor="middle" fill="#444" >*</text>
<text transform="translate(593.50,718.90) rotate(-90)" font-size="11" text-anchor="end" fill="#333">EMC6</text>
<rect x="597.60" y="681.20" width="9.20" height="35.10" fill="#e3e3e3" stroke="#555" stroke-width="0.9" />
<line x1="602.20" y1="664.00" x2="602.20" y2="695.60" stroke="#333" stroke-width="0.9" />
<line x1="600.00" y1="664.00" x2="604.40" y2="664.00" stroke="#333" stroke-width="0.9" />
<line x1="600.00" y1="695.60" x2="604.40" y2="695.60" stroke="#333" stroke-width="0.9" />
<circle cx="602.20" cy="664.50" r="1.60" fill="#231f20" stroke="none" stroke-width="0.6" />
<circle cx="602.20" cy="680.50" r="1.60" fill="#231f20" stroke="none" stroke-width="0.6" />
<circle cx="602.20" cy="695.00" r="1.60" fill="#231f20" stroke="none" stroke-width="0.6" />
<text transform="translate(606.20,718.90) rotate(-90)" font-size="11" text-anchor="end" fill="#333">PIAS4</text>
<rect x="610.30" y="645.70" width="9.20" height="70.60" fill="#e3e3e3" stroke="#555" stroke-width="0.9" />
<line x1="614.90" y1="623.30" x2="614.90" y2="667.00" stroke="#333" stroke-width="0.9" />
<line x1="612.70" y1="623.30" x2="617.10" y2="623.30" stroke="#333" stroke-width="0.9" />
<line x1="612.70" y1="667.00" x2="617.10" y2="667.00" stroke="#333" stroke-width="0.9" />
<circle cx="614.90" cy="627.50" r="1.60" fill="#231f20" stroke="none" stroke-width="0.6" />
<circle cx="614.90" cy="638.00" r="1.60" fill="#231f20" stroke="none" stroke-width="0.6" />
<circle cx="614.90" cy="669.50" r="1.60" fill="#231f20" stroke="none" stroke-width="0.6" />
<text transform="translate(618.90,718.90) rotate(-90)" font-size="11" text-anchor="end" fill="#333">SENP1</text>
<rect x="623.00" y="701.50" width="9.20" height="14.80" fill="#e3e3e3" stroke="#555" stroke-width="0.9" />
<line x1="627.60" y1="697.00" x2="627.60" y2="705.00" stroke="#333" stroke-width="0.9" />
<line x1="625.40" y1="697.00" x2="629.80" y2="697.00" stroke="#333" stroke-width="0.9" />
<line x1="625.40" y1="705.00" x2="629.80" y2="705.00" stroke="#333" stroke-width="0.9" />
<circle cx="627.60" cy="697.50" r="1.60" fill="#231f20" stroke="none" stroke-width="0.6" />
<circle cx="626.40" cy="701.50" r="1.60" fill="#231f20" stroke="none" stroke-width="0.6" />
<circle cx="628.80" cy="703.50" r="1.60" fill="#231f20" stroke="none" stroke-width="0.6" />
<text transform="translate(631.60,718.90) rotate(-90)" font-size="11" text-anchor="end" fill="#333">SEL1L</text>
<rect x="635.70" y="697.20" width="9.20" height="19.10" fill="#e3e3e3" stroke="#555" stroke-width="0.9" />
<line x1="640.30" y1="685.30" x2="640.30" y2="709.00" stroke="#333" stroke-width="0.9" />
<line x1="638.10" y1="685.30" x2="642.50" y2="685.30" stroke="#333" stroke-width="0.9" />
<line x1="638.10" y1="709.00" x2="642.50" y2="709.00" stroke="#333" stroke-width="0.9" />
<circle cx="640.30" cy="686.00" r="1.60" fill="#231f20" stroke="none" stroke-width="0.6" />
<circle cx="640.30" cy="700.00" r="1.60" fill="#231f20" stroke="none" stroke-width="0.6" />
<circle cx="640.30" cy="702.50" r="1.60" fill="#231f20" stroke="none" stroke-width="0.6" />
<text transform="translate(644.30,718.90) rotate(-90)" font-size="11" text-anchor="end" fill="#333">PRKRA</text>
<rect x="648.40" y="708.80" width="9.20" height="7.50" fill="#e3e3e3" stroke="#555" stroke-width="0.9" />
<circle cx="651.00" cy="708.30" r="1.60" fill="#231f20" stroke="none" stroke-width="0.6" />
<circle cx="653.00" cy="708.30" r="1.60" fill="#231f20" stroke="none" stroke-width="0.6" />
<circle cx="655.00" cy="708.30" r="1.60" fill="#231f20" stroke="none" stroke-width="0.6" />
<text x="653.00" y="708.10" font-size="10.8" text-anchor="middle" fill="#444" >*</text>
<text transform="translate(657.00,718.90) rotate(-90)" font-size="11" text-anchor="end" fill="#333">DOHH</text>
<rect x="661.10" y="695.60" width="9.20" height="20.70" fill="#e3e3e3" stroke="#555" stroke-width="0.9" />
<line x1="665.70" y1="683.40" x2="665.70" y2="707.00" stroke="#333" stroke-width="0.9" />
<line x1="663.50" y1="683.40" x2="667.90" y2="683.40" stroke="#333" stroke-width="0.9" />
<line x1="663.50" y1="707.00" x2="667.90" y2="707.00" stroke="#333" stroke-width="0.9" />
<circle cx="665.70" cy="684.00" r="1.60" fill="#231f20" stroke="none" stroke-width="0.6" />
<circle cx="665.70" cy="697.00" r="1.60" fill="#231f20" stroke="none" stroke-width="0.6" />
<circle cx="665.70" cy="703.00" r="1.60" fill="#231f20" stroke="none" stroke-width="0.6" />
<text transform="translate(669.70,718.90) rotate(-90)" font-size="11" text-anchor="end" fill="#333">ZFP36L2</text>
<rect x="673.80" y="708.40" width="9.20" height="7.90" fill="#e3e3e3" stroke="#555" stroke-width="0.9" />
<circle cx="676.40" cy="707.50" r="1.60" fill="#231f20" stroke="none" stroke-width="0.6" />
<circle cx="678.40" cy="706.50" r="1.60" fill="#231f20" stroke="none" stroke-width="0.6" />
<circle cx="680.40" cy="708.00" r="1.60" fill="#231f20" stroke="none" stroke-width="0.6" />
<text x="678.40" y="705.10" font-size="10.8" text-anchor="middle" fill="#444" >*</text>
<text transform="translate(682.40,718.90) rotate(-90)" font-size="11" text-anchor="end" fill="#333">UBE2G2</text>
<text x="566.40" y="598.20" font-size="11" text-anchor="start" fill="#333" >WT DENV-2 infection</text>
<text transform="translate(526.2,662.7) rotate(-90)" font-size="11.35" text-anchor="middle" fill="#333">Viral RNA (% of WT)</text>
<text x="613.50" y="778.60" font-size="11" text-anchor="middle" fill="#333" >CRISPR KO in Huh7.5.1 cells</text>
</svg></body></html>
